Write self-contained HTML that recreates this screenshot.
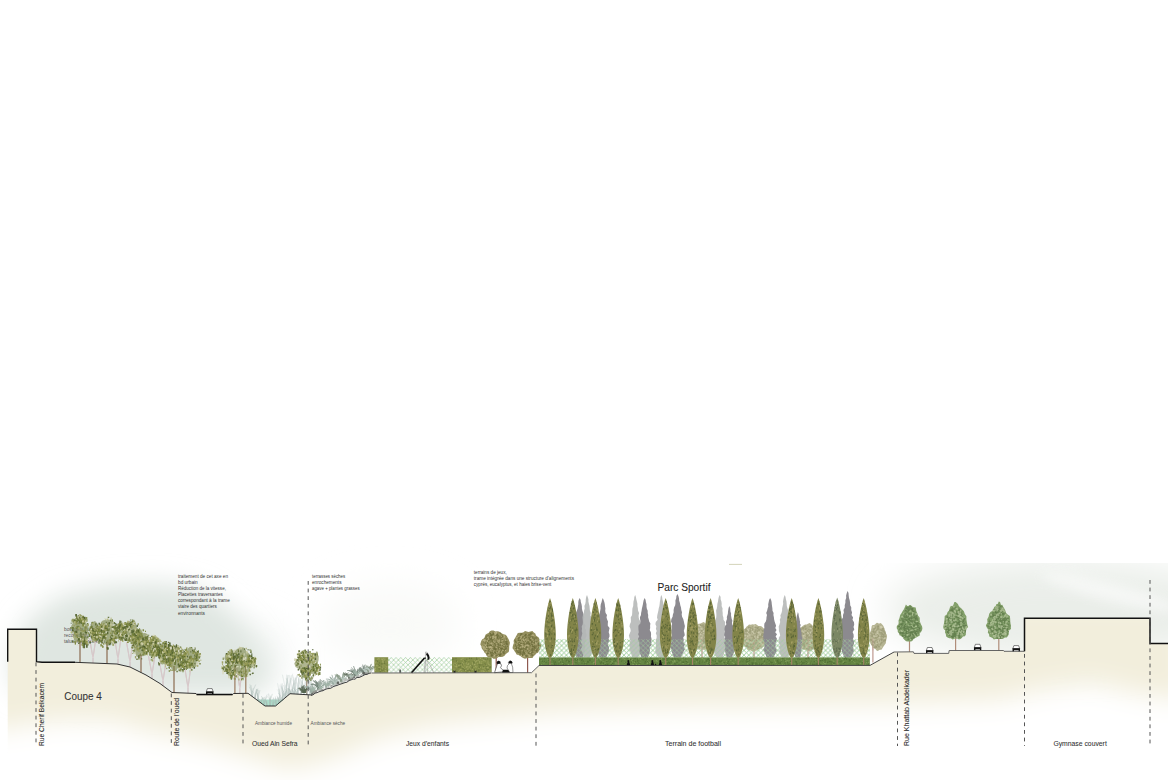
<!DOCTYPE html>
<html><head><meta charset="utf-8"><style>html,body{margin:0;padding:0;background:#fff;width:1168px;height:780px;overflow:hidden}svg{display:block}</style></head>
<body><svg width="1168" height="780" viewBox="0 0 1168 780"><defs><filter id="b20" x="-50%" y="-50%" width="200%" height="200%"><feGaussianBlur stdDeviation="18"/></filter><filter id="b14" x="-50%" y="-50%" width="200%" height="200%"><feGaussianBlur stdDeviation="13"/></filter><filter id="b10" x="-50%" y="-50%" width="200%" height="200%"><feGaussianBlur stdDeviation="9"/></filter><filter id="b6" x="-50%" y="-50%" width="200%" height="200%"><feGaussianBlur stdDeviation="6"/></filter><filter id="b3" x="-50%" y="-50%" width="200%" height="200%"><feGaussianBlur stdDeviation="3"/></filter><pattern id="lat" width="4.8" height="4.8" patternUnits="userSpaceOnUse" patternTransform="translate(0,2.4)"><path d="M-1,-1 L5.8,5.8" stroke="#b3d49a" stroke-width="0.7" fill="none"/><path d="M5.8,-1 L-1,5.8" stroke="#98c9a4" stroke-width="0.7" fill="none"/></pattern><mask id="gm" maskUnits="userSpaceOnUse" x="0" y="0" width="1168" height="780"><polygon points="-20,600 1188,600 1188,700 1140,694 1090,682 1040,690 1000,700 900,704 800,706 650,708 560,712 500,718 440,724 380,738 330,760 290,770 250,758 200,742 150,732 110,720 60,720 -20,732" fill="#fff" filter="url(#b14)"/></mask><clipPath id="skyR"><rect x="830" y="563" width="338" height="200"/></clipPath></defs><rect width="1168" height="780" fill="#fff"/><ellipse cx="165" cy="655" rx="120" ry="40" fill="#eef2ef" filter="url(#b20)"/><polygon points="10,660 25,622 60,596 110,585 165,583 200,590 225,607 250,634 272,672 262,692 190,692 90,692 15,692" fill="#dfe6e1" filter="url(#b14)"/><ellipse cx="390" cy="625" rx="70" ry="40" fill="#f9faf8" filter="url(#b20)"/><g clip-path="url(#skyR)"><ellipse cx="1060" cy="610" rx="175" ry="50" fill="#eaeee9" filter="url(#b20)"/><ellipse cx="1110" cy="592" rx="70" ry="9" transform="rotate(14 1110 592)" fill="#fff" opacity="0.55" filter="url(#b6)"/></g><g mask="url(#gm)"><polygon points="7.7,629.3 36.5,629.3 36.5,661.7 42,662.3 75,662.3 117,664 130,667 146,675 160,683.5 172,692.5 196,693.5 197,694.6 232.5,694.6 233.5,693.5 248,693.3 265,706 275.5,706 290,693.7 312,695 371.5,673 531.5,672.7 539,665.5 870,665.4 894,652 913.4,651.8 914,653.4 948.7,653.4 949.2,650.5 1003.5,650.5 1004,651.3 1024.5,651.3 1024.5,618.3 1150,618.3 1150,643.4 1168,643.4 1168,790 7.7,790" fill="#f2eedc"/></g><polygon points="256,699.5 284,699.5 275.5,706 265,706" fill="#9fd8c2" opacity="0.85"/><text x="64" y="630.5" font-size="4.8" fill="#555" text-anchor="start" font-family="Liberation Sans, sans-serif" >bosquets eucalyptus</text><text x="64" y="636.6" font-size="4.8" fill="#555" text-anchor="start" font-family="Liberation Sans, sans-serif" >reconstitution du</text><text x="64" y="642.7" font-size="4.8" fill="#555" text-anchor="start" font-family="Liberation Sans, sans-serif" >talus, renforcement</text><path d="M80,662.5 Q80,651.3 80,640" stroke="#8a6b50" stroke-width="1.2" fill="none"/><path d="M93,663 L93,658 L89.5,638 M93,658 L95.8,639" stroke="#c2acaf" stroke-width="1.1" fill="none"/><path d="M93,663 L93,658 L89.5,638 M93,658 L95.8,639" stroke="#f3eded" stroke-width="0.45" fill="none"/><path d="M107,663.6 Q107,652.8 107,642" stroke="#8a6b50" stroke-width="1.2" fill="none"/><path d="M118,664.2 L118,659 L114.5,638 M118,659 L120.8,639" stroke="#c2acaf" stroke-width="1.1" fill="none"/><path d="M118,664.2 L118,659 L114.5,638 M118,659 L120.8,639" stroke="#f3eded" stroke-width="0.45" fill="none"/><path d="M130,667 L130,662 L126.5,642 M130,662 L132.8,643" stroke="#c2acaf" stroke-width="1.1" fill="none"/><path d="M130,667 L130,662 L126.5,642 M130,662 L132.8,643" stroke="#f3eded" stroke-width="0.45" fill="none"/><path d="M141,672.5 Q141,663.2 141,654" stroke="#8a6b50" stroke-width="1.2" fill="none"/><path d="M152,678.6 L152,674.1 L148.5,656 M152,674.1 L154.8,657" stroke="#c2acaf" stroke-width="1.1" fill="none"/><path d="M152,678.6 L152,674.1 L148.5,656 M152,674.1 L154.8,657" stroke="#f3eded" stroke-width="0.45" fill="none"/><path d="M163,685.8 L163,681 L159.5,662 M163,681 L165.8,663" stroke="#c2acaf" stroke-width="1.1" fill="none"/><path d="M163,685.8 L163,681 L159.5,662 M163,681 L165.8,663" stroke="#f3eded" stroke-width="0.45" fill="none"/><path d="M174,692.6 Q174,679.3 174,666" stroke="#8a6b50" stroke-width="1.2" fill="none"/><path d="M188,693.2 L188,687.7 L184.5,666 M188,687.7 L190.8,667" stroke="#c2acaf" stroke-width="1.1" fill="none"/><path d="M188,693.2 L188,687.7 L184.5,666 M188,687.7 L190.8,667" stroke="#f3eded" stroke-width="0.45" fill="none"/><polygon points="88.7,630 87.7,633.3 86.3,635.9 86,639.7 84.7,642.9 82.1,642.3 80,641.7 78,641.9 75.4,642.7 73.9,639.8 73.2,636.3 73.5,632.8 71.8,630 71.1,626.2 72.7,623.3 74,620.4 76.1,619.2 77.9,617.3 80,615.2 82.2,617 83.5,620.3 85.1,621.8 86.7,623.8 88.5,626.4" fill="#7a8444" opacity="0.6"/><path d="M73.9 619.4v2.3M80.9 618.6v2.6M78.2 620.5v1.5M76.1 613.9v2.5M86.3 641.4v2.2M84.1 646v2.2M83.9 644.5v2.8M90.1 641.3v2.1M85.2 642.4v2.3M86.8 644.1v2.8M86.8 646.1v1.7M81.5 636.1v1.5M84 642.7v3M85.6 637.2v2.6M84.6 616.7v2.6M79.2 619.5v2.7M82.4 619.2v1.8M76.7 621.6v2.6M81.6 619.5v2.3" stroke="#4f5e2c" stroke-width="1.8" stroke-linecap="butt" opacity="0.9" fill="none"/><path d="M73 618.7v2.5M77.5 619.1v1.9M78.6 619v1.7M80.3 618.9v1.9M80 614.2v1.7M82.1 619.1v1.6" stroke="#8d9450" stroke-width="1.8" stroke-linecap="butt" opacity="0.9" fill="none"/><path d="M76.5 615.6v1.6M85.7 642.3v1.8M82.8 642.2v2M83.8 622.9v1.7M75.7 618.2v1.9M78.3 614.9v1.5" stroke="#5e6c33" stroke-width="1.2" stroke-linecap="butt" opacity="0.9" fill="none"/><path d="M73.1 621.3v1.6M72 619.6v2.1M76.9 617.6v1.8M87 642.1v3M80.3 637.5v1.5M83.2 615.7v2.4" stroke="#8d9450" stroke-width="1.2" stroke-linecap="butt" opacity="0.9" fill="none"/><path d="M76.4 618.7v2.9M76.7 616.8v2M77.5 616.5v1.6M87.9 643.6v1.9M85.9 641.6v1.6M82.3 643.1v2.3M79.8 639v1.6M84.4 637.4v2.1M82.2 640.6v2M84.6 617.1v2.3M79.4 616.8v1.8M83.5 620.8v1.8M80.7 620.7v2.4M81.2 621.5v2.4M80.5 619.8v2M77.6 619.4v2.5" stroke="#4f5e2c" stroke-width="1.2" stroke-linecap="butt" opacity="0.9" fill="none"/><path d="M80 617.8v1.7M75.8 620.4v2.6M82.2 636.4v2M80 639.4v2.9M83.5 618.8v1.7M86.9 619.3v2.4M83.1 617.7v2.5M82.9 622.2v2.4" stroke="#7a853e" stroke-width="1.2" stroke-linecap="butt" opacity="0.9" fill="none"/><path d="M79 618.9v1.8M78.7 616.4v1.6M76.2 623.1v1.9M86 640.7v2.2M82.8 641.5v1.9M86.4 640.5v1.9M80.6 619.7v2.3M82.4 617.7v1.7M82.6 620.6v2.3M76.9 621.6v2.3" stroke="#999c58" stroke-width="1.2" stroke-linecap="butt" opacity="0.9" fill="none"/><path d="M75.1 619.2v2.1M85.7 636.8v2.7M84.8 640.3v2.1M84 640.3v2.2M83.9 619.9v2.5M83.7 623v1.6M78.9 619.9v2.3" stroke="#5e6c33" stroke-width="1.8" stroke-linecap="butt" opacity="0.9" fill="none"/><path d="M76.7 618.7v2.1M81.6 636.6v1.9M83.1 639.5v3M76.9 617.2v2.1" stroke="#6c7a3a" stroke-width="1.2" stroke-linecap="butt" opacity="0.9" fill="none"/><path d="M80.6 619.9v2.6M84.6 639.1v2M82.6 638.1v1.9M80 640.8v1.6M83.1 623.6v2.9M86.4 617v2.6M85.2 618.7v2M80.5 618.3v2.6" stroke="#7a853e" stroke-width="1.8" stroke-linecap="butt" opacity="0.9" fill="none"/><path d="M87.8 642v2.4M78.8 637v2.4M85.9 620.1v2.4" stroke="#b4b67a" stroke-width="1.2" stroke-linecap="butt" opacity="0.9" fill="none"/><path d="M82.4 638.9v2.9M86.4 641.3v2.4M85.1 638.8v2.7M82.7 615.7v2.6M77.4 616.5v2.6M83.9 620.4v2.6" stroke="#999c58" stroke-width="1.8" stroke-linecap="butt" opacity="0.9" fill="none"/><path d="M83.5 645.2v2.6M83.9 641v2.6M82.4 618.5v1.8M77.7 619.7v2.3" stroke="#6c7a3a" stroke-width="1.8" stroke-linecap="butt" opacity="0.9" fill="none"/><path d="M87.1 639.2v2.2M81.8 618.1v1.6" stroke="#b4b67a" stroke-width="1.8" stroke-linecap="butt" opacity="0.9" fill="none"/><path d="M81.2 637.9v2.5M83 619.9v2.4" stroke="#cccca4" stroke-width="1.8" stroke-linecap="butt" opacity="0.9" fill="none"/><path d="M85.8 637.6v2.2" stroke="#dcdcc4" stroke-width="1.8" stroke-linecap="butt" opacity="0.9" fill="none"/><path d="M80.7 637.9v1.7M78.4 621.6v1.8" stroke="#dcdcc4" stroke-width="1.2" stroke-linecap="butt" opacity="0.9" fill="none"/><path d="M71 627.3v1.3M72 631.3v2.1M85.9 637.6v2.2M79.6 639.6v1.2M79.7 626.9v2M86.9 640.3v1.5M83.3 616.1v2M85.1 631.8v1.4M86.7 633v1.2M76.8 634.8v1.8M89.5 629.2v1.8" stroke="#6c7a3a" stroke-width="1" stroke-linecap="butt" opacity="0.9" fill="none"/><path d="M77.1 619v1.7M81 634.2v1.7M78.6 625.8v1.7M75.7 618.6v2M77.2 625.7v2M85.3 626.6v2.2M87.8 636.2v2.4M72.4 627v1.8" stroke="#6c7a3a" stroke-width="1.5" stroke-linecap="butt" opacity="0.9" fill="none"/><path d="M79.1 622.4v2M77.3 617.8v1.7M82.7 618.6v2.2M82.6 644v1.4M79.4 627.2v2.4M88.1 623.5v2.4" stroke="#999c58" stroke-width="1.5" stroke-linecap="butt" opacity="0.9" fill="none"/><path d="M85.6 631v2.4M71.2 622.7v1M86 627.5v2.4M79 621.9v1.9M78.3 638.7v1.4M75.3 631.1v1.9M83.6 636.7v1.3M84.4 639.2v2.4" stroke="#4f5e2c" stroke-width="1" stroke-linecap="butt" opacity="0.9" fill="none"/><path d="M74.8 617.6v1.5" stroke="#dcdcc4" stroke-width="1.5" stroke-linecap="butt" opacity="0.9" fill="none"/><path d="M75.5 633.5v1.8M74.2 625v1.2M73.1 640.8v1.5M77.2 632.8v2.1M83.4 635.6v2.5M82.2 630.4v2.1M76.2 635.5v2.4" stroke="#999c58" stroke-width="1" stroke-linecap="butt" opacity="0.9" fill="none"/><path d="M82.7 638.1v2.4M75.5 642.4v1.5M77.5 636.7v1.4M75.3 642.3v2.5" stroke="#7a853e" stroke-width="1" stroke-linecap="butt" opacity="0.9" fill="none"/><path d="M86 628.3v1.9M79.2 614.3v2.2M84.5 624.6v1.6M80.2 639.2v1.2M74.8 632.4v1.2" stroke="#cccca4" stroke-width="1" stroke-linecap="butt" opacity="0.9" fill="none"/><path d="M78.9 637.9v2.2M86.7 632v1.1M84.2 643.3v2.1M78.8 642.6v1.3M72.7 629.3v2M76.6 630.7v2.4" stroke="#4f5e2c" stroke-width="1.5" stroke-linecap="butt" opacity="0.9" fill="none"/><path d="M81.3 629.5v1.7M83.4 629.8v2.2M89.2 634.5v1.5M81.3 614.9v1.3" stroke="#8d9450" stroke-width="1" stroke-linecap="butt" opacity="0.9" fill="none"/><path d="M83.2 616.6v1.7M80.9 632.2v2M77.5 617.5v2.4M76.6 627.2v2.1M75.1 631.2v1.8M72.5 640.4v2M73.2 627.2v1.2" stroke="#5e6c33" stroke-width="1.5" stroke-linecap="butt" opacity="0.9" fill="none"/><path d="M78.8 639.7v1.7M87.6 623v1.3M79.7 621.1v1.3M83.2 633.5v1.4M82 638.1v2.3" stroke="#5e6c33" stroke-width="1" stroke-linecap="butt" opacity="0.9" fill="none"/><path d="M78 643.9v1.8M71.6 637.6v1.5M76.1 619v1.3M78.1 616.3v2.2M73.4 637.9v2.2" stroke="#dcdcc4" stroke-width="1" stroke-linecap="butt" opacity="0.9" fill="none"/><path d="M71.3 631.5v1.8M74.9 621.1v2.4" stroke="#b4b67a" stroke-width="1.5" stroke-linecap="butt" opacity="0.9" fill="none"/><path d="M87.1 639.8v1.1M82.9 638.5v2" stroke="#cccca4" stroke-width="1.5" stroke-linecap="butt" opacity="0.9" fill="none"/><path d="M77.5 619.4v1.6M70.7 627.2v1.2M85 629.5v2.3M74.9 641v1.8" stroke="#7a853e" stroke-width="1.5" stroke-linecap="butt" opacity="0.9" fill="none"/><path d="M82.5 644.1v1.7M86 626.3v2.2M76.3 627v1.5M74.8 632.2v1.8" stroke="#8d9450" stroke-width="1.5" stroke-linecap="butt" opacity="0.9" fill="none"/><path d="M73.9 635.8v2.2M79.1 626.9v2.5" stroke="#b4b67a" stroke-width="1" stroke-linecap="butt" opacity="0.9" fill="none"/><polygon points="100.8,631 100.2,633.2 100,635.6 99.8,638.5 98.2,639.8 96.5,639.8 95,638.7 93.5,639.6 91.8,639.8 90.9,637.5 90.3,635.3 90.2,633 89.5,631 89.2,628.5 89.8,626.3 91.6,625.6 92.2,623.5 93.4,621.8 95,621 96.5,622.4 97.6,623.8 98.5,625.6 100.1,626.4 101.1,628.4" fill="#7a8444" opacity="0.6"/><path d="M96.8 634.4v1.6M91.5 629.1v2.4M93.8 632.2v2.9M93.3 633.6v2.1M97 633.9v1.7" stroke="#7a853e" stroke-width="1.2" stroke-linecap="butt" opacity="0.9" fill="none"/><path d="M92.7 632v2.2M96.9 635.7v1.9M90.6 632.3v1.9M91.7 635.6v2.6M94.2 635.3v2.3M93.8 634.4v2.6M93.2 634v2.9" stroke="#4f5e2c" stroke-width="1.8" stroke-linecap="butt" opacity="0.9" fill="none"/><path d="M95.7 630.3v1.8M96.1 635.7v2.5M95.2 634.8v1.5M91.2 631.8v2.5" stroke="#6c7a3a" stroke-width="1.8" stroke-linecap="butt" opacity="0.9" fill="none"/><path d="M94.8 631.3v1.8" stroke="#cccca4" stroke-width="1.2" stroke-linecap="butt" opacity="0.9" fill="none"/><path d="M94.3 629.2v2.8M92.7 631.4v2.1M93.1 630.2v2.1M94.6 631v3M93.2 628.6v2.7M92.4 638.5v1.6M92.6 636.4v1.6" stroke="#5e6c33" stroke-width="1.2" stroke-linecap="butt" opacity="0.9" fill="none"/><path d="M92.4 635.6v2.1M94.5 635.6v1.7" stroke="#8d9450" stroke-width="1.2" stroke-linecap="butt" opacity="0.9" fill="none"/><path d="M94.9 633.6v1.9M93.7 629.7v2.2M95.6 631.5v2.9M91.3 633.1v2.1M98.1 636.7v2.7" stroke="#4f5e2c" stroke-width="1.2" stroke-linecap="butt" opacity="0.9" fill="none"/><path d="M93.2 630.5v2.8M97.7 632.2v2.4M96.9 634.8v2.1M90.2 633.3v1.7M92.9 632.9v2.5M95.9 633.2v2.6M94.1 634.8v2.7M89.4 634.1v2.8M93.3 637.1v1.8" stroke="#6c7a3a" stroke-width="1.2" stroke-linecap="butt" opacity="0.9" fill="none"/><path d="M91.9 632.6v2.9M95.2 628.3v2.7" stroke="#b4b67a" stroke-width="1.2" stroke-linecap="butt" opacity="0.9" fill="none"/><path d="M91.5 628.2v2.1M94.4 634.7v2.4" stroke="#dcdcc4" stroke-width="1.8" stroke-linecap="butt" opacity="0.9" fill="none"/><path d="M95.2 631.7v2M92.7 637.4v1.8M92.4 631.8v1.9" stroke="#7a853e" stroke-width="1.8" stroke-linecap="butt" opacity="0.9" fill="none"/><path d="M90.6 629.8v2.2M96.7 631.4v1.8M93.3 637.3v2.5" stroke="#b4b67a" stroke-width="1.8" stroke-linecap="butt" opacity="0.9" fill="none"/><path d="M93.2 632.1v1.6M95.9 638.2v2.7" stroke="#999c58" stroke-width="1.8" stroke-linecap="butt" opacity="0.9" fill="none"/><path d="M95.1 628.9v2.6M92.9 627.9v3M95.5 637.3v2.3M94.6 633v2.7M95.5 633.2v2.6" stroke="#5e6c33" stroke-width="1.8" stroke-linecap="butt" opacity="0.9" fill="none"/><path d="M95.5 635.8v1.6M94.5 631.7v2.3M91.2 632.8v2.6M96.7 637.4v2.2M96.1 634.9v2.2" stroke="#8d9450" stroke-width="1.8" stroke-linecap="butt" opacity="0.9" fill="none"/><path d="M96.6 636.4v2.2M93.1 637.5v2.6M92.8 634.1v1.6" stroke="#999c58" stroke-width="1.2" stroke-linecap="butt" opacity="0.9" fill="none"/><path d="M92.2 639.7v1.9" stroke="#dcdcc4" stroke-width="1.2" stroke-linecap="butt" opacity="0.9" fill="none"/><path d="M93.3 640v2.2M99.4 639.5v1.2M95.2 634.9v1.2M91.8 626v1.9M91.8 632.5v1.9M95.8 623.3v2.3M93.1 636.9v2.2M96.8 629.9v1.4" stroke="#5e6c33" stroke-width="1.5" stroke-linecap="butt" opacity="0.9" fill="none"/><path d="M92.3 627.9v1.2M91.7 622.3v1.5M91.2 624.1v1.7M97.4 624.8v2.2M96 640.7v1.3M100.6 633.7v1.9" stroke="#5e6c33" stroke-width="1" stroke-linecap="butt" opacity="0.9" fill="none"/><path d="M91.8 625.7v1.4M97.7 635.1v2.2M96.3 625.8v2.1" stroke="#7a853e" stroke-width="1" stroke-linecap="butt" opacity="0.9" fill="none"/><path d="M88 632v2M92.7 636.7v1.8M93.6 637.7v2" stroke="#cccca4" stroke-width="1" stroke-linecap="butt" opacity="0.9" fill="none"/><path d="M96.7 632.3v2M93.7 639.9v1.8M91 633.6v1.9M101.1 630.6v2.1" stroke="#cccca4" stroke-width="1.5" stroke-linecap="butt" opacity="0.9" fill="none"/><path d="M92.7 635.2v1.8M91.6 631.2v2M92.7 623.1v1.3" stroke="#b4b67a" stroke-width="1.5" stroke-linecap="butt" opacity="0.9" fill="none"/><path d="M93.8 628.1v1.8" stroke="#8d9450" stroke-width="1" stroke-linecap="butt" opacity="0.9" fill="none"/><path d="M97 628v1.3M98 625.5v2" stroke="#999c58" stroke-width="1" stroke-linecap="butt" opacity="0.9" fill="none"/><path d="M95.9 629.3v1.2" stroke="#999c58" stroke-width="1.5" stroke-linecap="butt" opacity="0.9" fill="none"/><path d="M99.2 622.8v1.9M98.1 629v2.5" stroke="#4f5e2c" stroke-width="1.5" stroke-linecap="butt" opacity="0.9" fill="none"/><path d="M93.4 634.9v1.1M100.3 629.5v1.5" stroke="#4f5e2c" stroke-width="1" stroke-linecap="butt" opacity="0.9" fill="none"/><path d="M100.2 624.3v2.1M88.3 632.2v1.8" stroke="#6c7a3a" stroke-width="1" stroke-linecap="butt" opacity="0.9" fill="none"/><path d="M94.1 639.1v1.4M94.2 638.3v2.4M101.2 631.9v1.1M92.5 635.9v2" stroke="#8d9450" stroke-width="1.5" stroke-linecap="butt" opacity="0.9" fill="none"/><path d="M92.5 621.8v1.5M90.6 626.4v2.5" stroke="#7a853e" stroke-width="1.5" stroke-linecap="butt" opacity="0.9" fill="none"/><path d="M94.8 629.1v1.8" stroke="#b4b67a" stroke-width="1" stroke-linecap="butt" opacity="0.9" fill="none"/><polygon points="115,632 115.6,635.7 114,638.4 112,640 110.5,641.8 109.2,645.2 107,646 105,643.7 103.5,641.8 102,640.1 99.7,638.7 97.7,636 98.7,632 99.7,628.9 100.6,626.1 100.9,622.2 102.8,620.4 105,620 107,620.3 109.1,619.7 111.6,619.3 113.5,621.6 113.5,626 114.4,628.8" fill="#7a8444" opacity="0.6"/><path d="M114.5 640.6v2.8M116.2 641.3v1.9M113 639v2.3M115 636.7v2.3M109.6 642.5v2.8M102.3 634.1v2.5M105 630.9v1.7M101.8 632.7v2M101.5 633.8v1.5M103 630.7v2.3M101.2 627.5v1.6M97.8 635.4v2.2M97.3 638.2v2.3M101.8 638.4v1.8" stroke="#4f5e2c" stroke-width="1.8" stroke-linecap="butt" opacity="0.9" fill="none"/><path d="M112.3 639.5v2.9M103.1 633.9v2.5M103 630.5v1.8M103.9 623v2" stroke="#8d9450" stroke-width="1.2" stroke-linecap="butt" opacity="0.9" fill="none"/><path d="M113.2 643v2.8M110 640.6v2.3M103.1 633.7v1.8" stroke="#8d9450" stroke-width="1.8" stroke-linecap="butt" opacity="0.9" fill="none"/><path d="M109.4 639.4v1.7M114 639.1v2.3M112.8 638.2v1.8M98.1 633.7v2.3M101.5 637.7v1.5M100.5 633.9v2.4M99 628.6v2.1M101.2 633.4v2.1M99.3 629.1v2.5M103.7 630.4v2.3M100.7 627.7v2M105.3 626.1v2.7M97.1 637.2v2.6M102.9 638.8v1.8M97.3 633.7v2.1" stroke="#7a853e" stroke-width="1.8" stroke-linecap="butt" opacity="0.9" fill="none"/><path d="M110 637.5v2.9M114.3 635.8v1.9M104.3 624.8v2.5" stroke="#b4b67a" stroke-width="1.8" stroke-linecap="butt" opacity="0.9" fill="none"/><path d="M109.5 640.6v2.9M99.7 633.8v3M103.4 632.5v2.1M101.2 626v1.9M109.1 628.3v2.1M105.6 625.8v2.3M104 635.5v1.6M99 641v2.9" stroke="#6c7a3a" stroke-width="1.2" stroke-linecap="butt" opacity="0.9" fill="none"/><path d="M110.4 639v2.6M109.7 641.3v2.8M104.2 634.5v2.9M105.2 637.3v2.1M106.8 627.1v2.7M106 627.6v2.1" stroke="#5e6c33" stroke-width="1.8" stroke-linecap="butt" opacity="0.9" fill="none"/><path d="M113.4 642.2v2.1M99.3 631.6v2.5M104.9 624.4v1.7M102.9 626.6v2.6M101.4 635.8v2.8" stroke="#cccca4" stroke-width="1.2" stroke-linecap="butt" opacity="0.9" fill="none"/><path d="M112.5 634.9v1.9M114.5 640v2.8M99.6 636.6v2.2M101 634.4v1.5M101.8 630.2v3M104.7 633.8v2.5M101.3 634.5v2.8M97.4 628.1v2M97.6 631v2.7M98.7 630v1.6M107.9 622.7v2.5M102.1 624.9v2.7M99.6 639.3v2.5M98.5 635.8v1.6" stroke="#7a853e" stroke-width="1.2" stroke-linecap="butt" opacity="0.9" fill="none"/><path d="M109.6 640.4v1.8M102.2 633.3v2.5M106.7 628.5v1.5M107 626.2v2.2M105.8 628.8v2.4" stroke="#999c58" stroke-width="1.8" stroke-linecap="butt" opacity="0.9" fill="none"/><path d="M112.9 638.9v2.8M98.9 635.9v1.9M99.3 633.5v2.1M100.1 629.7v2.7M100.2 627.6v1.8M102.1 627.4v2M105.5 626.8v2.1M107.8 625.3v1.7" stroke="#999c58" stroke-width="1.2" stroke-linecap="butt" opacity="0.9" fill="none"/><path d="M111.6 638.1v1.8M100 631.3v1.9M96.7 634.6v2" stroke="#4f5e2c" stroke-width="1.2" stroke-linecap="butt" opacity="0.9" fill="none"/><path d="M102.7 637.3v1.7M105.3 631.3v1.7M99.7 634.5v2.4M102.2 638.3v2.3" stroke="#6c7a3a" stroke-width="1.8" stroke-linecap="butt" opacity="0.9" fill="none"/><path d="M101 635.7v2.2M103.2 639.6v1.8" stroke="#dcdcc4" stroke-width="1.8" stroke-linecap="butt" opacity="0.9" fill="none"/><path d="M100.3 637.6v1.7M101.3 627.4v2.9M102.3 628.5v1.6" stroke="#dcdcc4" stroke-width="1.2" stroke-linecap="butt" opacity="0.9" fill="none"/><path d="M101.4 630v2.7M101.6 625.3v2.4M107.3 628.2v2.8M105.9 624.6v2M109 624.8v2.1M100.8 637v2.9M102 638.8v3M101.7 640.4v2.3M104.6 634.9v2.8" stroke="#5e6c33" stroke-width="1.2" stroke-linecap="butt" opacity="0.9" fill="none"/><path d="M102.7 628.3v1.8M100.8 638.3v2.6M99.6 635v1.7M97 635.7v2.6" stroke="#cccca4" stroke-width="1.8" stroke-linecap="butt" opacity="0.9" fill="none"/><path d="M109.2 641.5v1.9M102.2 634.7v2.1M103.7 643.1v1.6M100 626.1v1.8M102.1 644.9v1.1" stroke="#8d9450" stroke-width="1.5" stroke-linecap="butt" opacity="0.9" fill="none"/><path d="M107.4 646.7v1.2M108.5 616.7v1.3M105.6 634.8v1.5M99.5 639.3v1.7M112.5 626.7v1.3M109.3 621.9v2.2M102.4 641.5v2.1M114.4 622.1v2.2M111.9 634.5v1.4M113.2 632.3v1.4" stroke="#5e6c33" stroke-width="1.5" stroke-linecap="butt" opacity="0.9" fill="none"/><path d="M113.6 638v2.3M115.7 626v1.9M111 626.9v1.1M98.1 626.2v1.7" stroke="#8d9450" stroke-width="1" stroke-linecap="butt" opacity="0.9" fill="none"/><path d="M113.7 629v1.3M105.5 633.8v1.7M102.8 645.8v1.4M105 626.9v1.4M107.8 647.4v1.8" stroke="#6c7a3a" stroke-width="1.5" stroke-linecap="butt" opacity="0.9" fill="none"/><path d="M106.1 623.5v1.6M104.6 618.1v1.2M104.3 639.3v1.4M103.2 640.3v2M100.3 632.3v1.4M113 624.1v1.9" stroke="#dcdcc4" stroke-width="1" stroke-linecap="butt" opacity="0.9" fill="none"/><path d="M100 624.1v1.3M101.1 644.1v2.4M103.9 633.9v2.1M116.1 637.1v2.2M115.9 636.5v1.3M98.6 629.7v2M106.3 633.8v1.9" stroke="#7a853e" stroke-width="1.5" stroke-linecap="butt" opacity="0.9" fill="none"/><path d="M100.7 637.7v1.4M100.2 626.6v1.2M115.5 636.7v2.3M110.7 641.5v1.4M102.8 646.5v1.5M113.7 639.1v1.6M101.5 623.3v2.4M113.7 628.5v2.5" stroke="#999c58" stroke-width="1.5" stroke-linecap="butt" opacity="0.9" fill="none"/><path d="M107.2 639.7v2M105.4 637.5v1.5M100.5 639.6v2.4M101.4 641.6v1.9M107 647.3v2M107 641.1v1.6M105.7 636.9v1.9M111.9 629.9v1.9" stroke="#7a853e" stroke-width="1" stroke-linecap="butt" opacity="0.9" fill="none"/><path d="M107.8 618.5v1.8M105.9 618.7v1.1M110.6 632.1v2.2" stroke="#b4b67a" stroke-width="1.5" stroke-linecap="butt" opacity="0.9" fill="none"/><path d="M101.4 629.3v1.6M102 639.8v1.5M110.7 637.2v1.4M114.4 625.9v1.9M106 627.7v1.3M107.9 647.6v2.1M107.6 631.8v2.4" stroke="#4f5e2c" stroke-width="1.5" stroke-linecap="butt" opacity="0.9" fill="none"/><path d="M104.6 625.2v2.4M111.9 639.4v1.2M114 631.6v2.3" stroke="#999c58" stroke-width="1" stroke-linecap="butt" opacity="0.9" fill="none"/><path d="M106.5 642.2v1.1M113.1 626.2v1.3M112.3 628.8v1.4M106.3 621.8v1.2M108.7 629.4v1.8M110.6 635.7v1.1" stroke="#5e6c33" stroke-width="1" stroke-linecap="butt" opacity="0.9" fill="none"/><path d="M111 623.6v2.1M102.5 632.7v1.9M112.4 641.1v1M106.3 635.7v1.2" stroke="#cccca4" stroke-width="1.5" stroke-linecap="butt" opacity="0.9" fill="none"/><path d="M110.5 619.9v1.3M115.7 636.6v2.5M110.9 632.5v1.7M112.4 619.3v2.4M104.1 640.3v1" stroke="#6c7a3a" stroke-width="1" stroke-linecap="butt" opacity="0.9" fill="none"/><path d="M106.2 635.3v1.7M113 621.6v1.7" stroke="#cccca4" stroke-width="1" stroke-linecap="butt" opacity="0.9" fill="none"/><path d="M111.1 617.6v2.1M97.3 629.3v1.6M110.3 625.3v2.5" stroke="#b4b67a" stroke-width="1" stroke-linecap="butt" opacity="0.9" fill="none"/><path d="M101.9 634.3v1M103.3 636v2.3M109.3 623.1v1.4M110.8 642.5v2.1" stroke="#4f5e2c" stroke-width="1" stroke-linecap="butt" opacity="0.9" fill="none"/><path d="M106.1 631.2v1.8" stroke="#dcdcc4" stroke-width="1.5" stroke-linecap="butt" opacity="0.9" fill="none"/><polygon points="126.4,631 124.9,633.1 124.3,634.9 124.1,637.4 123,639.2 121.6,640.2 120,639.9 118.6,639.3 117.2,638.6 115.7,637.8 115.1,635.5 115.3,633 114.6,631 114,628.5 114.6,626.1 115.9,624.5 117.4,623.8 118.7,623.6 120,620.9 121.7,620.8 122.7,623.6 123.7,625.2 124.8,626.6 125.9,628.5" fill="#7a8444" opacity="0.6"/><path d="M121.1 627.4v2.9" stroke="#8d9450" stroke-width="1.8" stroke-linecap="butt" opacity="0.9" fill="none"/><path d="M119.6 623.9v2.3M119.9 627.6v1.8M124.1 625.8v1.6M123.4 627.4v2.6M118.9 624.9v2.2M115.5 625.7v3M117.9 629.9v2.8M118.8 631.6v2.8" stroke="#7a853e" stroke-width="1.8" stroke-linecap="butt" opacity="0.9" fill="none"/><path d="M125.6 631v2.7M119.7 624.4v2.7M121.3 623.7v1.6M121.7 625.6v2.1M119.2 636v2" stroke="#4f5e2c" stroke-width="1.8" stroke-linecap="butt" opacity="0.9" fill="none"/><path d="M123.6 628.4v2.5" stroke="#dcdcc4" stroke-width="1.2" stroke-linecap="butt" opacity="0.9" fill="none"/><path d="M122.9 626.5v2.6M126.3 623.7v1.6M119.4 626.6v3M119.9 628.4v2.4M116.1 623.5v2.7M116.1 629.7v1.6M117.6 631.8v2.3M121.9 634v1.7M119.1 631.4v2.6M121.8 637.7v1.7" stroke="#4f5e2c" stroke-width="1.2" stroke-linecap="butt" opacity="0.9" fill="none"/><path d="M126.5 627.6v2.3M121.9 627.8v1.7M113.8 626.3v2.4M119.4 626.8v1.8M120.6 633.7v1.8M119.9 636.6v3" stroke="#6c7a3a" stroke-width="1.2" stroke-linecap="butt" opacity="0.9" fill="none"/><path d="M123.1 627.4v2M119.6 629.8v2.5M116 632.4v2.6M121 638.6v2.5M125.2 636.2v2.7" stroke="#7a853e" stroke-width="1.2" stroke-linecap="butt" opacity="0.9" fill="none"/><path d="M124.7 626.1v1.5M118.2 627.2v1.6M122.7 636.8v2.1M121.5 636.7v1.7M122.9 637.3v1.9" stroke="#5e6c33" stroke-width="1.8" stroke-linecap="butt" opacity="0.9" fill="none"/><path d="M120.3 627.7v2.3M113.4 629.9v1.9M122.8 634.2v1.9" stroke="#6c7a3a" stroke-width="1.8" stroke-linecap="butt" opacity="0.9" fill="none"/><path d="M122 624.2v2.7M121 626.6v2.3M121 634.3v2.8" stroke="#999c58" stroke-width="1.8" stroke-linecap="butt" opacity="0.9" fill="none"/><path d="M120.4 627v2.4M121.3 635v1.8" stroke="#b4b67a" stroke-width="1.2" stroke-linecap="butt" opacity="0.9" fill="none"/><path d="M122.6 629.1v1.5M121.7 623.3v1.6" stroke="#8d9450" stroke-width="1.2" stroke-linecap="butt" opacity="0.9" fill="none"/><path d="M113.6 631.8v3M116.5 625.7v2.3M114.3 630.8v2M118.8 634.5v2.8" stroke="#cccca4" stroke-width="1.2" stroke-linecap="butt" opacity="0.9" fill="none"/><path d="M114.3 631.4v2.7M115.9 629v2.9M117.6 626.4v2.1M115.4 627.4v1.6M124.1 637.8v2.8M125.9 634.6v2.9M119.6 637.1v1.7" stroke="#5e6c33" stroke-width="1.2" stroke-linecap="butt" opacity="0.9" fill="none"/><path d="M112.6 628.1v2.4M119.1 632.6v2.8" stroke="#dcdcc4" stroke-width="1.8" stroke-linecap="butt" opacity="0.9" fill="none"/><path d="M123.7 630.9v1.7M119.7 632v3" stroke="#999c58" stroke-width="1.2" stroke-linecap="butt" opacity="0.9" fill="none"/><path d="M123.1 638.8v2M124.3 628.7v2" stroke="#dcdcc4" stroke-width="1.5" stroke-linecap="butt" opacity="0.9" fill="none"/><path d="M117.4 628.7v2.1M115.2 627.7v1.9M116.5 632.1v2.3M118.7 634.3v2.4M123.9 630.8v2.3" stroke="#6c7a3a" stroke-width="1.5" stroke-linecap="butt" opacity="0.9" fill="none"/><path d="M120.5 633.6v2.2M113.8 629.2v2.2" stroke="#dcdcc4" stroke-width="1" stroke-linecap="butt" opacity="0.9" fill="none"/><path d="M114.8 633.2v1.1M119.4 638.1v1.4M125.9 628.2v2.1M122.8 631.7v2.4M114.3 631.1v1.9M126.7 631.7v1.1" stroke="#8d9450" stroke-width="1.5" stroke-linecap="butt" opacity="0.9" fill="none"/><path d="M124.8 632v1.9M124.1 626.4v1.9M118.9 623.5v1.9M114.7 625.5v1.5M124.3 626.7v1" stroke="#7a853e" stroke-width="1.5" stroke-linecap="butt" opacity="0.9" fill="none"/><path d="M125 628.2v1.1M122.6 638.8v2.5M119.2 626.5v1.6M120.9 623.4v1.7M122.9 629.3v1.2M119.5 622.6v1.3M116.5 626.9v2.5" stroke="#6c7a3a" stroke-width="1" stroke-linecap="butt" opacity="0.9" fill="none"/><path d="M119.7 622.2v1.2M115.1 629.3v1.3M118.2 623.9v1.9" stroke="#999c58" stroke-width="1" stroke-linecap="butt" opacity="0.9" fill="none"/><path d="M120.8 632.8v1.1M124.4 625.2v1.8" stroke="#cccca4" stroke-width="1.5" stroke-linecap="butt" opacity="0.9" fill="none"/><path d="M117 637v1.6M124.6 630.9v1.7" stroke="#8d9450" stroke-width="1" stroke-linecap="butt" opacity="0.9" fill="none"/><path d="M113.2 630.5v1.7" stroke="#5e6c33" stroke-width="1" stroke-linecap="butt" opacity="0.9" fill="none"/><path d="M120.1 621.3v1.5" stroke="#4f5e2c" stroke-width="1.5" stroke-linecap="butt" opacity="0.9" fill="none"/><path d="M115.4 623.1v1.2M119.9 626.8v1.3M123.6 627.4v2.3M125.9 626.7v2M120 620.3v1.1" stroke="#4f5e2c" stroke-width="1" stroke-linecap="butt" opacity="0.9" fill="none"/><path d="M118.6 640.2v1.3" stroke="#b4b67a" stroke-width="1" stroke-linecap="butt" opacity="0.9" fill="none"/><path d="M124.2 634.9v1.4" stroke="#cccca4" stroke-width="1" stroke-linecap="butt" opacity="0.9" fill="none"/><path d="M122.8 640.7v1.4" stroke="#b4b67a" stroke-width="1.5" stroke-linecap="butt" opacity="0.9" fill="none"/><polygon points="139.3,632 138.6,635.1 137,637 136.2,639.3 135.4,642.3 133.8,644 132,643 130.5,642 128.8,641.6 126.9,641 126,638 125.9,634.8 126.1,632 126.3,629.3 125.6,625.6 126.9,623.1 129,623 130.5,622.1 132,621.1 133.8,620 135.4,621.7 136.1,624.8 136.7,627.3 138.4,629" fill="#7a8444" opacity="0.6"/><path d="M127 625.7v2.3M132.2 638.8v1.6M128.5 639.6v1.7M138.1 638.4v1.6M135 639v2.2" stroke="#b4b67a" stroke-width="1.8" stroke-linecap="butt" opacity="0.9" fill="none"/><path d="M128.6 620.8v2.7M138.4 635.6v2.2" stroke="#dcdcc4" stroke-width="1.8" stroke-linecap="butt" opacity="0.9" fill="none"/><path d="M128.3 625.4v2.8M128.2 625.5v2.3M128.5 622.5v2.2M129.5 639.3v2.1M128.4 639.5v2M130.4 636.5v1.5M135.3 633.1v2.8M135.5 633.2v2.1" stroke="#6c7a3a" stroke-width="1.8" stroke-linecap="butt" opacity="0.9" fill="none"/><path d="M125.2 622.1v2.8M127.7 624.6v2.7M126.6 623.1v1.5M131.4 635.5v1.7M132 636.9v2.4M135.8 640.2v2.9M134.7 629.8v1.6M135.2 633.7v2.4" stroke="#7a853e" stroke-width="1.8" stroke-linecap="butt" opacity="0.9" fill="none"/><path d="M130.3 624.7v2.9M124.9 626.3v2.1M126.6 626v1.5M132.8 638.5v2M138.1 634.8v2.2" stroke="#4f5e2c" stroke-width="1.2" stroke-linecap="butt" opacity="0.9" fill="none"/><path d="M129 625.5v2.6M130.8 636.9v2.5M136.4 633.1v2.5M134.5 639.3v2.9M136.1 636.9v1.5" stroke="#dcdcc4" stroke-width="1.2" stroke-linecap="butt" opacity="0.9" fill="none"/><path d="M127.2 628.5v2.3M129.9 635v2.2M136.6 640.7v2.8" stroke="#7a853e" stroke-width="1.2" stroke-linecap="butt" opacity="0.9" fill="none"/><path d="M124.7 623.3v1.5M129 628.4v2.9M126 622.7v1.8M129.7 639.4v2.1M131.1 638.9v2.4M136.7 635.5v2" stroke="#999c58" stroke-width="1.2" stroke-linecap="butt" opacity="0.9" fill="none"/><path d="M129.6 623.1v2.9M126.4 638.1v2.9M129.3 636.7v2.9M135.4 638.3v2.9M133 634.9v1.7M134 635.4v3M135 633.5v1.9" stroke="#5e6c33" stroke-width="1.2" stroke-linecap="butt" opacity="0.9" fill="none"/><path d="M127.5 628.3v2.7M123.4 622.8v1.6" stroke="#cccca4" stroke-width="1.8" stroke-linecap="butt" opacity="0.9" fill="none"/><path d="M130.8 624v1.6M127.5 625.7v1.6M132.9 634.5v2.9M134.3 640.9v2.3M134.4 633.5v2.9M133.4 636.8v2.5M134 634.5v1.6M138.8 630v2.9" stroke="#5e6c33" stroke-width="1.8" stroke-linecap="butt" opacity="0.9" fill="none"/><path d="M128.9 628.7v1.8M126.9 634.9v2.1M131.2 634.9v1.8M135 635.3v2.5M135.4 633.1v2.4M132.1 630.5v2.2M133.1 637.2v2.4" stroke="#4f5e2c" stroke-width="1.8" stroke-linecap="butt" opacity="0.9" fill="none"/><path d="M130 635.2v2.2M135.1 636.2v1.7M132.7 637v2.2M135.9 632.1v2.4" stroke="#8d9450" stroke-width="1.2" stroke-linecap="butt" opacity="0.9" fill="none"/><path d="M132.9 635.7v2.9M128.1 640.8v2.1M135.5 632.1v2.1" stroke="#b4b67a" stroke-width="1.2" stroke-linecap="butt" opacity="0.9" fill="none"/><path d="M133.2 639.9v2.5M128.9 634.8v2.8M132.1 633.6v2.4M135.4 628.6v2.7" stroke="#cccca4" stroke-width="1.2" stroke-linecap="butt" opacity="0.9" fill="none"/><path d="M131.6 636.2v1.7M133.7 635.1v2.4M134.7 636.8v1.6M138 633.9v2.7M139.3 634.7v2.8" stroke="#999c58" stroke-width="1.8" stroke-linecap="butt" opacity="0.9" fill="none"/><path d="M138.4 636.3v2.5M132.4 633.2v2.6M137.5 633.9v2.9M137.9 630v2M138.9 633.7v2.5" stroke="#6c7a3a" stroke-width="1.2" stroke-linecap="butt" opacity="0.9" fill="none"/><path d="M138.2 638.4v2.6" stroke="#8d9450" stroke-width="1.8" stroke-linecap="butt" opacity="0.9" fill="none"/><path d="M138.8 637v1.5M129.6 639.6v1.3M127.9 621.5v2M132.7 619.4v2.3M133.7 631.3v2.4M132.9 633v1.7M126.5 624.1v1.6M131 621.3v1.9" stroke="#6c7a3a" stroke-width="1" stroke-linecap="butt" opacity="0.9" fill="none"/><path d="M135.2 627.2v2.3M133.5 636v2.5" stroke="#b4b67a" stroke-width="1" stroke-linecap="butt" opacity="0.9" fill="none"/><path d="M130.6 632.7v2.3M127.5 622.1v1.2M125.1 626.3v1M131 621.8v1.6M135.6 633.7v2.1M125.6 634.9v1.4M132.8 639.5v1.5" stroke="#5e6c33" stroke-width="1.5" stroke-linecap="butt" opacity="0.9" fill="none"/><path d="M131.8 631.2v1.1M134.1 622.5v2.2M136.1 642.7v2.3M129 621v1.4M128.4 620.8v2.5" stroke="#dcdcc4" stroke-width="1.5" stroke-linecap="butt" opacity="0.9" fill="none"/><path d="M134 644.8v1.4M132.5 620.9v1.5M131.3 630.4v2.4M126.7 633.6v1.4M129 621.2v1.9" stroke="#5e6c33" stroke-width="1" stroke-linecap="butt" opacity="0.9" fill="none"/><path d="M130.6 633.3v1.5M128.4 628.2v1" stroke="#dcdcc4" stroke-width="1" stroke-linecap="butt" opacity="0.9" fill="none"/><path d="M127.9 622.4v2.4M139.2 637.4v2.5M138.2 623.2v2.2M137.8 638.2v2" stroke="#7a853e" stroke-width="1" stroke-linecap="butt" opacity="0.9" fill="none"/><path d="M127.8 641.9v1.1M138.1 628.9v1.3M129.1 623.6v2.1M136.1 631.4v2.1M135.9 640.7v2.3M132.9 633.5v1.4" stroke="#7a853e" stroke-width="1.5" stroke-linecap="butt" opacity="0.9" fill="none"/><path d="M124.9 630.4v2.1M127.9 620.8v2" stroke="#b4b67a" stroke-width="1.5" stroke-linecap="butt" opacity="0.9" fill="none"/><path d="M137.2 624.8v2.2M125.5 639v1.9M131.5 623.9v1" stroke="#4f5e2c" stroke-width="1.5" stroke-linecap="butt" opacity="0.9" fill="none"/><path d="M124.1 633.5v1.4M131.7 625.9v2.5M125.2 630.5v1.2" stroke="#8d9450" stroke-width="1.5" stroke-linecap="butt" opacity="0.9" fill="none"/><path d="M130.7 619.4v1.1M139.7 631.9v1.9" stroke="#6c7a3a" stroke-width="1.5" stroke-linecap="butt" opacity="0.9" fill="none"/><path d="M133.4 630.6v1.7M133.1 629.4v2M132.3 630.7v2.4" stroke="#4f5e2c" stroke-width="1" stroke-linecap="butt" opacity="0.9" fill="none"/><path d="M133.9 619.8v2.3M126.2 632.2v1.6M138.7 635.2v1.9M132.3 635v1.1M131.5 621.9v1.7M131.9 643v1.3" stroke="#8d9450" stroke-width="1" stroke-linecap="butt" opacity="0.9" fill="none"/><path d="M133.2 624.9v1.3M133.7 644.2v1.3M134.6 623v1.3M136.5 630.2v1.7" stroke="#999c58" stroke-width="1.5" stroke-linecap="butt" opacity="0.9" fill="none"/><path d="M129.9 630.2v2.2" stroke="#cccca4" stroke-width="1.5" stroke-linecap="butt" opacity="0.9" fill="none"/><path d="M135.1 637.1v1.3" stroke="#cccca4" stroke-width="1" stroke-linecap="butt" opacity="0.9" fill="none"/><polygon points="148.5,644 147.6,646.8 148.6,651 147.7,654.7 145.1,655.5 143,656.2 141,656 138.8,656.9 136.4,656.7 135.4,653 135.1,649.4 133,647.4 132.5,644 132,640.2 134.6,638 135.9,635.8 136.7,632 138.8,630.7 141,629.1 142.8,633.2 144.9,633.1 147.2,634.1 148.9,636.7 149.5,640.4" fill="#7a8444" opacity="0.6"/><path d="M138.9 638.1v2.4M139 636.5v2.1M138.3 637.3v1.8M139.1 642.4v1.8M139.5 641.7v1.5M147.4 641.2v2.1M143 648v2.4M146.6 643.2v2.5M144.8 644.5v1.9" stroke="#7a853e" stroke-width="1.8" stroke-linecap="butt" opacity="0.9" fill="none"/><path d="M140.5 635.8v2.4M135.4 644v2.4M146.8 635.4v3M149.5 639.3v2.1M142.3 641.9v2.7" stroke="#dcdcc4" stroke-width="1.8" stroke-linecap="butt" opacity="0.9" fill="none"/><path d="M142.1 640.5v2M141 636v3M147.2 637.7v2.2" stroke="#5e6c33" stroke-width="1.2" stroke-linecap="butt" opacity="0.9" fill="none"/><path d="M141.9 635v1.9M141.8 632.7v2.4M139.7 634.3v2M140.5 632.9v2.4M140.4 640v2.8M140.5 640.6v2.2M145.5 644.2v2.6M146 648.1v2.6M148.2 639.9v2.3" stroke="#7a853e" stroke-width="1.2" stroke-linecap="butt" opacity="0.9" fill="none"/><path d="M137.2 636.7v1.9M135.4 643.3v2.1M139.2 647.2v2.3M145.2 636.8v2M143.9 651.7v2.5M144.2 647.2v2.9M146.4 645.5v2.8M148.9 642.9v2.9M145.1 639.7v1.7M149.6 641.9v2.6" stroke="#6c7a3a" stroke-width="1.8" stroke-linecap="butt" opacity="0.9" fill="none"/><path d="M138.8 638.1v2.2M137.7 647.8v2.9M136.3 639.1v2M142.9 636.8v1.6M146.6 652.5v2.4M147.3 649.5v1.7M150.3 647v2.3" stroke="#999c58" stroke-width="1.8" stroke-linecap="butt" opacity="0.9" fill="none"/><path d="M137.9 633.7v2.8M138.8 639.3v2M138.6 643.3v1.9M137.4 647.3v2.6M149.8 636.9v1.8M146.3 642.6v1.6M147.7 641.8v1.9M145.6 640.7v2.5M148.6 645v2.1M144.4 648.7v2.2M142.8 646.5v1.5" stroke="#8d9450" stroke-width="1.8" stroke-linecap="butt" opacity="0.9" fill="none"/><path d="M138.5 637.6v2.3M135.4 645.8v1.7M140.3 644v2.3M147.3 636.1v1.6M146.2 637v2.4M144.7 646.3v2.6M147.6 647.8v2.8M145.2 639.6v1.7" stroke="#5e6c33" stroke-width="1.8" stroke-linecap="butt" opacity="0.9" fill="none"/><path d="M136.4 634.1v1.6M140 635.5v2.3M150 649.1v2.7M146.4 652.1v2M147.9 645.4v2.4" stroke="#4f5e2c" stroke-width="1.2" stroke-linecap="butt" opacity="0.9" fill="none"/><path d="M141.3 635.5v1.5M138.2 640.2v1.8M136.1 642.2v1.8M147.2 642.3v1.8M150.2 649.7v1.8M149.7 651.6v2.5M145.1 643.7v2.5M141.1 643.7v2.1" stroke="#8d9450" stroke-width="1.2" stroke-linecap="butt" opacity="0.9" fill="none"/><path d="M140.9 639.7v1.9M140.5 644.2v2.4M138.3 643.2v2.4M149.1 643.4v1.7" stroke="#dcdcc4" stroke-width="1.2" stroke-linecap="butt" opacity="0.9" fill="none"/><path d="M143 637.6v2.8M138.8 642.9v2.4M150.4 641.9v2.7M148.3 650v2.1M142.3 649.4v1.7M149.7 650.4v2.7M147 646.5v1.9M149.9 643v2.6M144.4 644.5v2.9M148.7 644.7v1.9" stroke="#4f5e2c" stroke-width="1.8" stroke-linecap="butt" opacity="0.9" fill="none"/><path d="M137.4 638.9v1.9M137.9 639.9v2.7M144.5 642.7v2.7M144.6 643.9v1.8" stroke="#b4b67a" stroke-width="1.2" stroke-linecap="butt" opacity="0.9" fill="none"/><path d="M138.4 643.3v2.5M145.4 642.3v2.4M148.2 639.8v2.3M145.2 650.2v1.9M148.5 645.5v1.9M145.1 642.2v1.5" stroke="#999c58" stroke-width="1.2" stroke-linecap="butt" opacity="0.9" fill="none"/><path d="M135.2 645.4v2M142.5 642.7v2.3" stroke="#cccca4" stroke-width="1.2" stroke-linecap="butt" opacity="0.9" fill="none"/><path d="M137.1 643.9v2.9M145.9 636.3v2.3M147 637.3v2.1M143.1 650.3v1.5M146.7 649.1v2.3M147.3 647.6v2.5" stroke="#6c7a3a" stroke-width="1.2" stroke-linecap="butt" opacity="0.9" fill="none"/><path d="M143.8 641.3v2.1M144.9 640v2.4M146.9 645.9v2" stroke="#b4b67a" stroke-width="1.8" stroke-linecap="butt" opacity="0.9" fill="none"/><path d="M143.7 653.2v1.7M138.9 640.8v2.4M135.4 647v1.3M138 632.5v2.4M146.6 639.3v1.2M132.6 638.3v1.1M149.5 646.4v1.1M145.7 639.4v2" stroke="#999c58" stroke-width="1" stroke-linecap="butt" opacity="0.9" fill="none"/><path d="M136.4 656.7v2.3M136.9 642.8v2.4M140.8 644.8v2.1" stroke="#dcdcc4" stroke-width="1" stroke-linecap="butt" opacity="0.9" fill="none"/><path d="M134.4 649.3v2.4M132.2 646.8v1.3M138.9 657.1v2.3M142.1 635.5v1.7M131.3 642.3v1.5M146.2 644.1v2.1M136.8 638.8v1.5M143.3 629.2v2" stroke="#7a853e" stroke-width="1.5" stroke-linecap="butt" opacity="0.9" fill="none"/><path d="M136.8 630.6v2.4M136.6 642.8v1.7M146.8 639.5v1.5M140.6 653.5v1.9M141.7 658.1v1.4M140.7 644.1v2.4M133.5 644.4v1.5M145 639.4v1.6" stroke="#5e6c33" stroke-width="1" stroke-linecap="butt" opacity="0.9" fill="none"/><path d="M143.6 639.5v1.1M143.7 646.1v1.9M143 645.4v2.3M138.4 629.9v2" stroke="#4f5e2c" stroke-width="1" stroke-linecap="butt" opacity="0.9" fill="none"/><path d="M143.9 647.6v1.8M132.9 647.8v1.1M132.8 652.9v1.1M134.6 645.5v1.9M139.7 654v1.7M135.4 656v2.4M135.8 637.4v1.1M139.8 630.7v2.4M138 643.4v1.7" stroke="#8d9450" stroke-width="1" stroke-linecap="butt" opacity="0.9" fill="none"/><path d="M140.8 642v1.5M134.9 641.9v2.1M135.8 640.2v1.4M133.9 651.5v1.1M135.4 641.1v2M132.1 646.6v2M146.5 651.6v1.2M139.6 628.2v1.9M141.6 640.9v1.7" stroke="#6c7a3a" stroke-width="1" stroke-linecap="butt" opacity="0.9" fill="none"/><path d="M142.1 646.3v1.6M137 629.8v1M150.3 648v1.6M147.3 641.7v2.1M137 658.5v1.4M132.5 644.9v1.4M140.4 646.6v2.2M147.4 643.3v2.5" stroke="#5e6c33" stroke-width="1.5" stroke-linecap="butt" opacity="0.9" fill="none"/><path d="M149.8 644.2v2.2M138.9 655.3v2.4" stroke="#4f5e2c" stroke-width="1.5" stroke-linecap="butt" opacity="0.9" fill="none"/><path d="M133.6 633.7v2M139 631.7v1.2M143 654.2v1.1M138.2 637.9v2.3M133.2 650.1v1.1M133.7 634v1.9M148.5 634.7v1.1" stroke="#6c7a3a" stroke-width="1.5" stroke-linecap="butt" opacity="0.9" fill="none"/><path d="M146.2 645v1.8M141.5 642.3v2.4" stroke="#cccca4" stroke-width="1.5" stroke-linecap="butt" opacity="0.9" fill="none"/><path d="M139.6 637.8v2.2M140.3 633.4v2.4M133.9 640.8v1.1M146.8 649.8v1.9M149.4 647v2.4M143.4 640.7v2.1M143.3 647.6v1.9M143.5 651.7v2.1M145.6 653.2v1" stroke="#8d9450" stroke-width="1.5" stroke-linecap="butt" opacity="0.9" fill="none"/><path d="M139 650.4v1.3M145.5 650.2v1M141 638v1.5" stroke="#999c58" stroke-width="1.5" stroke-linecap="butt" opacity="0.9" fill="none"/><path d="M148.7 644v1.7M138.5 646.9v1.3M149.7 637.5v2.1" stroke="#b4b67a" stroke-width="1.5" stroke-linecap="butt" opacity="0.9" fill="none"/><path d="M141.2 653.5v1.2M134.8 652.1v1.9M136.3 633.8v1.2M147.7 654.7v1.1" stroke="#cccca4" stroke-width="1" stroke-linecap="butt" opacity="0.9" fill="none"/><path d="M150.1 648.3v2.5" stroke="#dcdcc4" stroke-width="1.5" stroke-linecap="butt" opacity="0.9" fill="none"/><path d="M133.3 635.3v1.1M145.5 630.7v1.3M133.3 642.1v2.1" stroke="#7a853e" stroke-width="1" stroke-linecap="butt" opacity="0.9" fill="none"/><polygon points="159.8,647 161.1,650.1 160.5,653.1 158.7,654.7 157.1,655.6 155.5,656.2 154,658.9 152.1,658.4 150.6,656.6 149.8,653.8 148.6,652.1 146.8,650.1 147,647 147.5,644.2 149.1,642.4 149.4,639.5 150.5,637.2 152.2,636 154,636.9 155.6,637.2 157.3,637.6 159.2,638.6 160.3,641.1 159.8,644.5" fill="#7a8444" opacity="0.6"/><path d="M154.8 646v3M156.6 640.8v2.4M153.1 641.3v1.7M154.7 646v1.6M155.2 641.9v2.7M154.4 642.9v2.9M159 648.1v1.6M157.6 648.3v2.6M158.1 651.9v2.8M155.6 646.2v2.2M155.5 651.4v2.2M151.4 650.5v2.3M151.8 635.8v1.6M152.2 641.8v1.8" stroke="#4f5e2c" stroke-width="1.2" stroke-linecap="butt" opacity="0.9" fill="none"/><path d="M155.5 643v1.6M151.9 652.2v1.7" stroke="#5e6c33" stroke-width="1.8" stroke-linecap="butt" opacity="0.9" fill="none"/><path d="M157.7 646.6v2.2M156 646.1v2.4M156.8 644.6v2.7M155.3 644.1v2.9M152.3 650.7v1.9M153.4 654.4v2.4" stroke="#8d9450" stroke-width="1.8" stroke-linecap="butt" opacity="0.9" fill="none"/><path d="M155.2 647.6v3" stroke="#dcdcc4" stroke-width="1.2" stroke-linecap="butt" opacity="0.9" fill="none"/><path d="M158.5 640.7v2.6M152.8 651.9v2.4M154.3 649.7v1.7M153.9 638.4v2.1M154.7 640.6v1.6M155.5 642.5v1.9" stroke="#8d9450" stroke-width="1.2" stroke-linecap="butt" opacity="0.9" fill="none"/><path d="M155.8 644v2.9M154.1 645.6v1.9M155.4 642.4v2M156.3 648.3v2.4M155.6 650.3v3M155.4 650.3v1.5M157 654.4v1.7M151.7 650.5v2.9M155.2 649.9v1.5M155.6 642.3v2.5" stroke="#7a853e" stroke-width="1.2" stroke-linecap="butt" opacity="0.9" fill="none"/><path d="M153.6 648.8v2.1M156.6 646.4v2.9M154.5 642.6v2.7M152.8 648.1v2.6M157.8 650.1v2.3M155.6 648.5v2.2M156.4 653.8v2.7M156.4 648.2v2.4" stroke="#5e6c33" stroke-width="1.2" stroke-linecap="butt" opacity="0.9" fill="none"/><path d="M155.2 645v2.4M153.8 652.5v2.1M155.9 641.1v2.3" stroke="#4f5e2c" stroke-width="1.8" stroke-linecap="butt" opacity="0.9" fill="none"/><path d="M158.4 646.2v2.1M156.5 649.7v1.9M156 654v2.2M156.3 649.7v2.8M157.5 650.1v2M152 638.6v2.7M153 637.5v1.8M154.5 644.9v2.3" stroke="#6c7a3a" stroke-width="1.8" stroke-linecap="butt" opacity="0.9" fill="none"/><path d="M155.6 649.8v2.7M159.6 650v2.2M149.6 649.6v2.9M156.5 636.6v2.5M154.6 639.5v1.8" stroke="#b4b67a" stroke-width="1.2" stroke-linecap="butt" opacity="0.9" fill="none"/><path d="M155 650.5v1.6M157.7 637.8v2.2" stroke="#999c58" stroke-width="1.2" stroke-linecap="butt" opacity="0.9" fill="none"/><path d="M153.3 651.1v2.8M152.1 653v2.8" stroke="#b4b67a" stroke-width="1.8" stroke-linecap="butt" opacity="0.9" fill="none"/><path d="M157.9 646.8v3M157.8 650.2v2.2M152.2 653.8v2.7" stroke="#6c7a3a" stroke-width="1.2" stroke-linecap="butt" opacity="0.9" fill="none"/><path d="M156.4 650v2.3M154.9 648.3v2.5M153.7 644.5v2.3" stroke="#cccca4" stroke-width="1.2" stroke-linecap="butt" opacity="0.9" fill="none"/><path d="M156.4 647.7v2.2M153.6 649v2.4M151.7 643.2v2.1M151.3 639.3v2.7M153 635.8v2" stroke="#999c58" stroke-width="1.8" stroke-linecap="butt" opacity="0.9" fill="none"/><path d="M155 648.2v2M154 649.2v2.9M154.8 652.7v1.7" stroke="#dcdcc4" stroke-width="1.8" stroke-linecap="butt" opacity="0.9" fill="none"/><path d="M157.4 648.8v1.7M153.8 651.7v2.8M156.4 639v2.3M153.3 636.4v2.3M152.6 640v1.9" stroke="#7a853e" stroke-width="1.8" stroke-linecap="butt" opacity="0.9" fill="none"/><path d="M153.5 643v2.4M153.3 640.5v1.9" stroke="#cccca4" stroke-width="1.8" stroke-linecap="butt" opacity="0.9" fill="none"/><path d="M147.7 652.1v1.1M158.8 656.3v1.6" stroke="#6c7a3a" stroke-width="1" stroke-linecap="butt" opacity="0.9" fill="none"/><path d="M151.2 658.7v2M161.5 649.4v2.3M154.9 637v2M156.3 655.1v1.1" stroke="#7a853e" stroke-width="1" stroke-linecap="butt" opacity="0.9" fill="none"/><path d="M159.5 646.7v1.6M153.6 645.9v1.6M160 655.2v1.6" stroke="#4f5e2c" stroke-width="1" stroke-linecap="butt" opacity="0.9" fill="none"/><path d="M151.7 638.7v1.8M152.8 636.7v2.1M151.3 646v1.5M154.1 644.6v2.2M154.9 635.3v1.8M152.5 659.2v2.2" stroke="#999c58" stroke-width="1.5" stroke-linecap="butt" opacity="0.9" fill="none"/><path d="M151.6 637.1v1.9M148.2 652.3v2.2M157.6 641.9v1.8M153.7 656.5v1.8" stroke="#dcdcc4" stroke-width="1" stroke-linecap="butt" opacity="0.9" fill="none"/><path d="M153.2 639.5v1.6M157.3 647.4v1.5" stroke="#6c7a3a" stroke-width="1.5" stroke-linecap="butt" opacity="0.9" fill="none"/><path d="M156.6 649.2v1.1M157 640.8v2.2M150.4 648v1.3M161 640.9v1.2M151 638.4v1.7" stroke="#8d9450" stroke-width="1" stroke-linecap="butt" opacity="0.9" fill="none"/><path d="M150.3 649.2v1.7M157 648.9v1.7M155.6 653.4v2.3" stroke="#7a853e" stroke-width="1.5" stroke-linecap="butt" opacity="0.9" fill="none"/><path d="M147.1 644.1v1.3M147.7 640.2v2.4M150.1 648.8v1.3M151.7 640.4v1.5" stroke="#999c58" stroke-width="1" stroke-linecap="butt" opacity="0.9" fill="none"/><path d="M153.9 656.3v1.2M151.2 644.1v1M161 651.1v2.1M158.1 637.9v1.2M155 652.8v2" stroke="#b4b67a" stroke-width="1" stroke-linecap="butt" opacity="0.9" fill="none"/><path d="M149.8 654.2v1.4" stroke="#5e6c33" stroke-width="1.5" stroke-linecap="butt" opacity="0.9" fill="none"/><path d="M150.3 637.1v2.5M158.2 640.8v1M151.1 641.1v2.1M155.4 650.2v2.2" stroke="#8d9450" stroke-width="1.5" stroke-linecap="butt" opacity="0.9" fill="none"/><path d="M151.7 657v1.1M160.1 649.7v1" stroke="#4f5e2c" stroke-width="1.5" stroke-linecap="butt" opacity="0.9" fill="none"/><path d="M158.6 642v2M146.3 649.6v1.3M153.8 634.5v1.7M149.2 637.5v1.9" stroke="#dcdcc4" stroke-width="1.5" stroke-linecap="butt" opacity="0.9" fill="none"/><path d="M151.3 642v2.5M158.3 647.2v1.2M154.3 651.1v1M146.2 644.3v2.1M153.7 645.6v1.7M154.9 649.4v2.4" stroke="#5e6c33" stroke-width="1" stroke-linecap="butt" opacity="0.9" fill="none"/><path d="M147.9 642.9v2.2M152.9 656.8v1.8" stroke="#cccca4" stroke-width="1.5" stroke-linecap="butt" opacity="0.9" fill="none"/><path d="M160.2 639.6v2.3M154.9 653.7v2" stroke="#b4b67a" stroke-width="1.5" stroke-linecap="butt" opacity="0.9" fill="none"/><polygon points="172.1,653 171.4,655.5 171.9,658.7 170.5,661 168.7,662.3 166.7,661.9 165,663.4 162.9,664.5 160.6,663.9 159.7,660.7 159,658 158.5,655.5 157.2,653 156.9,649.9 159.1,648.1 160.1,645.9 161.4,643.9 162.9,641.7 165,642 166.9,643 168.1,645.3 170.3,645.4 172.6,646.7 172.6,650.1" fill="#7a8444" opacity="0.6"/><path d="M167.4 652.1v2.8M171.6 649v2M168.1 646.6v1.7M169.4 663.8v1.9M158.4 653.8v2.8M158 652.1v2.5M158.2 648.1v2.7M159.7 652.1v2.5M170.7 645.6v1.9M165.3 642.9v2.7" stroke="#5e6c33" stroke-width="1.8" stroke-linecap="butt" opacity="0.9" fill="none"/><path d="M170 646.6v2.3M171.6 652.9v2.5M166 661.4v2.6M165 652.8v2M165.6 643.1v2.7M169.8 642.5v2.5M170.7 645.5v2.7" stroke="#4f5e2c" stroke-width="1.8" stroke-linecap="butt" opacity="0.9" fill="none"/><path d="M169.9 649.6v2.1M171 649.3v2.9M167.7 657v1.8M168.4 648.5v2.8M167.6 649.1v1.9" stroke="#b4b67a" stroke-width="1.2" stroke-linecap="butt" opacity="0.9" fill="none"/><path d="M172.4 646.6v2.4M172.2 663.4v2.7" stroke="#dcdcc4" stroke-width="1.8" stroke-linecap="butt" opacity="0.9" fill="none"/><path d="M169.8 645.1v2.6M170.9 649.2v2.9M158.5 652.8v1.5" stroke="#5e6c33" stroke-width="1.2" stroke-linecap="butt" opacity="0.9" fill="none"/><path d="M169.3 645.2v1.8M166.6 661.3v2.6M171.7 660v2.3M163.2 653.7v2.9M159.9 649.9v2M167 647.8v2.3M168.9 645.8v2.3" stroke="#6c7a3a" stroke-width="1.2" stroke-linecap="butt" opacity="0.9" fill="none"/><path d="M169.9 649.5v2.5M167.5 648.9v2.5M173.1 660.7v2.5M167.1 645.2v2.5" stroke="#cccca4" stroke-width="1.2" stroke-linecap="butt" opacity="0.9" fill="none"/><path d="M170.3 649.2v2.2M169.6 663.4v3M169.8 662v1.8M165.8 646.7v2.2M168 649.6v2.7" stroke="#7a853e" stroke-width="1.8" stroke-linecap="butt" opacity="0.9" fill="none"/><path d="M170.5 649.9v2.9M169.2 650.8v1.5M166.4 661v2.8M170.1 659.9v1.9M160.7 650.5v2.2M166.5 643.1v1.6" stroke="#7a853e" stroke-width="1.2" stroke-linecap="butt" opacity="0.9" fill="none"/><path d="M174.1 652.7v2.8M173.4 652.1v2.1M170.1 650.6v2.6M168.5 661v2.1M163.1 654.6v2.4M160.2 655.1v2.8M158.5 650.4v2M163 654.1v2.9M167.5 649.4v2.1" stroke="#6c7a3a" stroke-width="1.8" stroke-linecap="butt" opacity="0.9" fill="none"/><path d="M172.3 652.9v1.6M167.1 647.2v1.7" stroke="#999c58" stroke-width="1.8" stroke-linecap="butt" opacity="0.9" fill="none"/><path d="M171.1 654.4v2.6M170.5 662.6v2.1M169.2 663v2.2M158.8 654.3v1.5M159.3 647.9v1.7M159.4 650.1v2.7M168.4 647v2.9M170.1 645.3v2.5M169.1 646.1v2.2M171.3 646.8v2.4M168.6 644.1v2.2" stroke="#4f5e2c" stroke-width="1.2" stroke-linecap="butt" opacity="0.9" fill="none"/><path d="M166.6 650.4v2.8M168.4 659.9v2M171.6 658.3v2" stroke="#8d9450" stroke-width="1.8" stroke-linecap="butt" opacity="0.9" fill="none"/><path d="M167.1 663.2v2M166.6 662.2v1.6M167.6 663.5v2.6M161.4 651.9v2.5M164.7 647v1.8" stroke="#999c58" stroke-width="1.2" stroke-linecap="butt" opacity="0.9" fill="none"/><path d="M171.7 665v2.1M164.5 653.4v1.8" stroke="#cccca4" stroke-width="1.8" stroke-linecap="butt" opacity="0.9" fill="none"/><path d="M168.2 662.1v2.9M156.6 651.6v2.5" stroke="#8d9450" stroke-width="1.2" stroke-linecap="butt" opacity="0.9" fill="none"/><path d="M169.8 662v2.4M163.4 651.1v2.4M163 652.4v2.8" stroke="#b4b67a" stroke-width="1.8" stroke-linecap="butt" opacity="0.9" fill="none"/><path d="M163.7 651.6v1.6M165.4 647.9v1.8" stroke="#dcdcc4" stroke-width="1.2" stroke-linecap="butt" opacity="0.9" fill="none"/><path d="M157.2 646.7v1.4M169.3 643.8v1.7" stroke="#6c7a3a" stroke-width="1" stroke-linecap="butt" opacity="0.9" fill="none"/><path d="M161.7 660.4v1.7M162.2 645.3v2M159.6 655.9v1.4M164 660.9v1.2M157.4 652.3v2M163.3 642.3v1.8" stroke="#7a853e" stroke-width="1.5" stroke-linecap="butt" opacity="0.9" fill="none"/><path d="M160.3 657.3v1.5M161.4 658.4v2.2" stroke="#b4b67a" stroke-width="1.5" stroke-linecap="butt" opacity="0.9" fill="none"/><path d="M158.4 645.3v2.3M161 650.4v1.7M158 649.6v2.4M160.4 648.2v1.8M164.6 645v1.5" stroke="#6c7a3a" stroke-width="1.5" stroke-linecap="butt" opacity="0.9" fill="none"/><path d="M172.3 659.1v2.4M162.5 650.6v2.5" stroke="#cccca4" stroke-width="1" stroke-linecap="butt" opacity="0.9" fill="none"/><path d="M163.7 661.7v1.3M166.1 651.8v2.4M165.1 663v1.9M162.5 644.7v1.5M168.4 657.3v2.3" stroke="#8d9450" stroke-width="1" stroke-linecap="butt" opacity="0.9" fill="none"/><path d="M172 645.7v1.8M164.6 641.1v1.4M165.5 644.2v2.4M166.2 657.1v2.2M165.9 659.4v1.8" stroke="#999c58" stroke-width="1.5" stroke-linecap="butt" opacity="0.9" fill="none"/><path d="M172.1 646.1v1.4M159.3 661.8v2.1M164.6 658v1.5M161.5 648v1.1M164.1 655.5v2.1" stroke="#999c58" stroke-width="1" stroke-linecap="butt" opacity="0.9" fill="none"/><path d="M159.3 657.1v1.6M168.6 641.7v1.3M160.4 643.4v1.8" stroke="#5e6c33" stroke-width="1.5" stroke-linecap="butt" opacity="0.9" fill="none"/><path d="M167.8 658.7v1.8M164.3 652.2v2.1M163.8 658.4v2.2M161.5 652.3v1.4M158.1 646.7v1.5M161.9 649.1v2.5" stroke="#4f5e2c" stroke-width="1" stroke-linecap="butt" opacity="0.9" fill="none"/><path d="M164.4 646.1v2.1M170.5 646.8v1.7M163.2 657.2v1.8" stroke="#5e6c33" stroke-width="1" stroke-linecap="butt" opacity="0.9" fill="none"/><path d="M162.6 661.8v1.5M165.5 662.4v1.6M160.4 646.1v1.3M160.2 661.1v1.1" stroke="#b4b67a" stroke-width="1" stroke-linecap="butt" opacity="0.9" fill="none"/><path d="M159.2 662.9v2.5M165.7 656.7v2.4M168.2 654.7v2.1M158.9 662.1v2.4M165.7 645.7v1.5M170.5 657.5v2.4M163 649.4v1.5M166.1 641.1v1.6M165.8 660.8v1.1" stroke="#4f5e2c" stroke-width="1.5" stroke-linecap="butt" opacity="0.9" fill="none"/><path d="M159.6 663.3v1.2M162.7 659.9v2.4" stroke="#7a853e" stroke-width="1" stroke-linecap="butt" opacity="0.9" fill="none"/><path d="M161.4 661.1v1.2M158.4 647.7v1.4M173.7 654.6v1.5M160.9 645.3v2" stroke="#8d9450" stroke-width="1.5" stroke-linecap="butt" opacity="0.9" fill="none"/><path d="M159.4 661v2.1M159.6 661.7v1.1" stroke="#dcdcc4" stroke-width="1" stroke-linecap="butt" opacity="0.9" fill="none"/><path d="M161 658.6v2" stroke="#cccca4" stroke-width="1.5" stroke-linecap="butt" opacity="0.9" fill="none"/><polygon points="183.1,657.5 183.8,661.1 181.1,663.1 179.6,665.2 178.1,667.4 176.5,670.5 174,671.6 171.8,669 170.2,666.7 168.2,665.5 165.9,664 164.8,660.9 166,657.5 166.3,654.7 166.6,651.6 167.3,648.2 169.4,646.4 171.9,646.5 174,646.3 176.4,645.3 179,645.6 180.1,649.1 180.1,652.6 181,654.9" fill="#7a8444" opacity="0.6"/><path d="M170.1 659v2.2M167.6 660.8v1.7M169.7 661.8v1.9M169.1 651v1.9M174.3 654.4v2.6M174.6 660.2v2.5" stroke="#7a853e" stroke-width="1.8" stroke-linecap="butt" opacity="0.9" fill="none"/><path d="M166 660v2.1M167.5 659.4v1.8M174.7 653.5v2.5M173.4 649.4v2.6M170.1 649.1v1.8M171.2 649.3v2.6M182.2 654.5v2.2M180.5 653.1v2.6M175.5 660.8v2.8" stroke="#5e6c33" stroke-width="1.2" stroke-linecap="butt" opacity="0.9" fill="none"/><path d="M169.5 656.7v3M171.1 657.6v2.6M167.7 660.5v2.9M174.4 652.3v2M164.7 647.8v2.7M163.7 650.1v1.6M168.2 650.7v2M178 660.7v1.6M173.9 658.7v1.7" stroke="#7a853e" stroke-width="1.2" stroke-linecap="butt" opacity="0.9" fill="none"/><path d="M167.8 660.7v2.8M167.6 657v2.5M176.1 649.5v1.8M176.1 648.7v1.7M174.3 660.8v2.5" stroke="#dcdcc4" stroke-width="1.2" stroke-linecap="butt" opacity="0.9" fill="none"/><path d="M167.8 657.6v1.8M165.3 660.2v2M168.6 650.9v2M168.6 654.3v1.7M164.7 650.4v2M183.7 656.3v1.6M171.2 661.6v2.7" stroke="#8d9450" stroke-width="1.8" stroke-linecap="butt" opacity="0.9" fill="none"/><path d="M169.4 656.2v1.7M165.8 654.7v1.7M176.3 645.8v1.6M177.1 652.4v1.8M171.9 651.4v2.9M170.5 649.1v2.1M183.5 652.6v2.5M183.5 653v2.4M184.2 656.3v1.5M177.2 653.7v2.8" stroke="#6c7a3a" stroke-width="1.2" stroke-linecap="butt" opacity="0.9" fill="none"/><path d="M167.9 656.2v1.6M172.1 647.4v2.1M174.5 645.6v2.7M171.8 648.5v1.9M165.7 653.4v2.5M167.1 649.1v1.7M181 651.6v1.7M179.4 653.8v2.7M182.8 652.6v2.7M181.7 651.9v2.1M173.5 655.6v2M173.6 657.9v3" stroke="#4f5e2c" stroke-width="1.8" stroke-linecap="butt" opacity="0.9" fill="none"/><path d="M164.7 656v2.3M170.5 648.6v2.4M164 648.9v2.3M173.2 656.7v2.2M175.9 657.2v2.1" stroke="#999c58" stroke-width="1.8" stroke-linecap="butt" opacity="0.9" fill="none"/><path d="M168 657.3v2.5M176.5 644.3v3M172.3 651.7v2M172.6 646.3v1.6M180.4 657.7v2.6M182.4 655.6v1.5M177.9 658.3v2.5" stroke="#4f5e2c" stroke-width="1.2" stroke-linecap="butt" opacity="0.9" fill="none"/><path d="M171.3 655.9v2.5M166.7 653v1.8M176 650.8v3M168.9 655.9v1.5M176.5 656.7v2.6" stroke="#cccca4" stroke-width="1.2" stroke-linecap="butt" opacity="0.9" fill="none"/><path d="M167.5 657v1.6M167.1 661.2v1.8M164.5 654.6v1.6M167.4 651.2v1.8M182.6 649.5v1.7M177.8 655.7v2.2M184.9 653.5v1.8M177.6 650.6v1.8M175 656.2v2M172.6 659.2v2.5M172.8 658v1.7" stroke="#5e6c33" stroke-width="1.8" stroke-linecap="butt" opacity="0.9" fill="none"/><path d="M166 654.4v2.1M177.7 647.9v1.5M174.6 648.7v2.9M178.2 645.4v1.7M177.5 652.4v2.8M174.9 658.5v1.6" stroke="#cccca4" stroke-width="1.8" stroke-linecap="butt" opacity="0.9" fill="none"/><path d="M175.9 648.4v1.9M170.7 649.4v3M170.6 649.3v1.7" stroke="#8d9450" stroke-width="1.2" stroke-linecap="butt" opacity="0.9" fill="none"/><path d="M170.9 646.7v2.9M165 648.9v3M178.8 649.3v2.9M174.8 658.4v2.6" stroke="#dcdcc4" stroke-width="1.8" stroke-linecap="butt" opacity="0.9" fill="none"/><path d="M173.4 644.5v2.6M164.9 649.1v2M181 651.9v2.2M178.3 659.5v2.4M171.7 661.7v2.3" stroke="#999c58" stroke-width="1.2" stroke-linecap="butt" opacity="0.9" fill="none"/><path d="M163.4 653.5v2.6M166.4 656.5v2.5M182.4 656.5v2.5M179.7 656.8v1.8M175 662.1v2.9" stroke="#6c7a3a" stroke-width="1.8" stroke-linecap="butt" opacity="0.9" fill="none"/><path d="M171.2 655.8v1.7" stroke="#b4b67a" stroke-width="1.2" stroke-linecap="butt" opacity="0.9" fill="none"/><path d="M176.6 653.9v1.6M176.7 651.8v2.4M174 653.4v2.1M164.5 651.9v1.2" stroke="#b4b67a" stroke-width="1.5" stroke-linecap="butt" opacity="0.9" fill="none"/><path d="M178.3 661v1.5M171.5 659v1.4M170.8 665.5v1.2M178 647.3v2.5M173.4 655.6v2.2M172.1 669.7v1.4M165.5 656.7v2.1M178.8 666.9v1.2M179.2 648.2v1.2" stroke="#8d9450" stroke-width="1.5" stroke-linecap="butt" opacity="0.9" fill="none"/><path d="M172.5 648.2v2.3M179.1 655v2.3M177.1 670.7v1.5M172.2 659.9v1.1M183.8 658.8v1.6M166.3 654.9v1.9" stroke="#5e6c33" stroke-width="1.5" stroke-linecap="butt" opacity="0.9" fill="none"/><path d="M169.2 666.8v1.4M181.6 658.7v2.2M176.1 650.6v1.4M166.8 650.7v1.1M166.5 649.2v1.3M166.4 658v1.8M174.8 658v1.4M178.4 663.2v2.3" stroke="#4f5e2c" stroke-width="1.5" stroke-linecap="butt" opacity="0.9" fill="none"/><path d="M171.2 647.5v1.8M167.9 663.4v1.1M170 646.5v1.7" stroke="#dcdcc4" stroke-width="1" stroke-linecap="butt" opacity="0.9" fill="none"/><path d="M182.6 650.9v1.7M175.6 659.5v1.5M167.8 647.9v2.3M167.1 653.1v1.3M169.4 670.2v1.5" stroke="#7a853e" stroke-width="1.5" stroke-linecap="butt" opacity="0.9" fill="none"/><path d="M166.1 650.8v2.4M179.3 665.1v1.7M167.8 664.8v1.1M179.1 667.3v2.4M170.7 669v1.9M180.2 650v1.8" stroke="#8d9450" stroke-width="1" stroke-linecap="butt" opacity="0.9" fill="none"/><path d="M182.3 655.8v1.8M172.1 650.8v1.2M168.6 659.7v1.4M180.7 646.4v1.7M172.3 649.6v1.3M176.5 651v1.1" stroke="#5e6c33" stroke-width="1" stroke-linecap="butt" opacity="0.9" fill="none"/><path d="M164.5 658.6v1.5M183 661.5v2M174.9 647.3v1.2M176.6 653.5v1.8M179.4 665.6v2.4M172.4 655.1v2.2" stroke="#6c7a3a" stroke-width="1.5" stroke-linecap="butt" opacity="0.9" fill="none"/><path d="M183.7 656v2.4M178.2 657.2v1.6" stroke="#cccca4" stroke-width="1" stroke-linecap="butt" opacity="0.9" fill="none"/><path d="M167 653.2v1.3M179.8 666.1v2.5M179.8 652.2v1.8M180 659.3v1.6" stroke="#6c7a3a" stroke-width="1" stroke-linecap="butt" opacity="0.9" fill="none"/><path d="M177.1 655.9v2.4M172.9 656.7v1.5M182.6 653.5v2M164.9 650.7v1.8M178.3 656.7v2.1M183.5 654.2v1.8M179.8 663.6v1.9" stroke="#999c58" stroke-width="1.5" stroke-linecap="butt" opacity="0.9" fill="none"/><path d="M163.8 655.2v1.5M170.4 653.8v1.6M168.4 661.2v1.1" stroke="#4f5e2c" stroke-width="1" stroke-linecap="butt" opacity="0.9" fill="none"/><path d="M179.7 658.7v1.3M169.4 667.4v1.5M166.8 667.8v1.4M178.6 665v1.2M167.5 661.1v2.2M182.6 660.5v2.2" stroke="#7a853e" stroke-width="1" stroke-linecap="butt" opacity="0.9" fill="none"/><path d="M181.2 647.2v2M167.8 656v1.8M165.3 665.1v2.3M177.7 662.5v1.1" stroke="#b4b67a" stroke-width="1" stroke-linecap="butt" opacity="0.9" fill="none"/><path d="M166 652.5v2.1M181.8 648.5v1.2M179.3 655.8v1.6M177.1 650.1v2.2" stroke="#999c58" stroke-width="1" stroke-linecap="butt" opacity="0.9" fill="none"/><path d="M166.7 656.1v2.4" stroke="#dcdcc4" stroke-width="1.5" stroke-linecap="butt" opacity="0.9" fill="none"/><path d="M167.2 649v1.2M173.9 646.8v2M179.2 667.6v2" stroke="#cccca4" stroke-width="1.5" stroke-linecap="butt" opacity="0.9" fill="none"/><polygon points="200.2,658 198.3,660.4 196.4,662 197,665.7 195,667.5 192.4,667.6 190,667.2 187.8,666.9 185,667.5 182.9,665.8 181.7,663.2 181.7,660.4 181.7,658 180.6,655.2 181.9,652.9 184.3,651.8 186.4,651.1 187.7,648.8 190,646.8 192.4,648.2 194.4,649.8 195.3,652.2 198.2,652.8 199.9,655.1" fill="#7a8444" opacity="0.6"/><path d="M181.3 665.3v2.9M184.3 665.2v2.6M184.6 662.5v2.5M187.7 666.9v2.1M199.5 656v2.2M195.4 656.6v2.8M200 654.8v1.9" stroke="#6c7a3a" stroke-width="1.2" stroke-linecap="butt" opacity="0.9" fill="none"/><path d="M179.5 664.7v2.3M184.3 667.2v2.4M182.8 668.9v1.8M185.5 661.4v1.6M189.3 660.7v2.2M192.7 658.4v2.3M184.5 654.9v2.4M182.5 650.2v2M180.7 650.6v2.3" stroke="#4f5e2c" stroke-width="1.8" stroke-linecap="butt" opacity="0.9" fill="none"/><path d="M181 667.5v2.6M183 665.1v1.8M184.9 666.5v2.6M181 661.6v1.7M186.4 661.6v1.7M182.6 653.7v2.8M196.8 657.3v2.3M193.4 650.7v1.6" stroke="#5e6c33" stroke-width="1.2" stroke-linecap="butt" opacity="0.9" fill="none"/><path d="M181.2 663.8v2.7M181 665.4v2.9M188.4 666v2.2M190.3 659.5v2.2M189 660.6v1.9" stroke="#cccca4" stroke-width="1.2" stroke-linecap="butt" opacity="0.9" fill="none"/><path d="M182.9 665.4v2.9M198.6 652.1v1.8M195.5 654.2v1.8" stroke="#dcdcc4" stroke-width="1.2" stroke-linecap="butt" opacity="0.9" fill="none"/><path d="M179.4 669.4v1.8M181.9 663.1v3M183.9 665.6v3M190.5 664v2.2M188.1 659.2v1.5M190.2 659.6v2.4M197.2 652.9v3M195.9 655.5v2.1" stroke="#6c7a3a" stroke-width="1.8" stroke-linecap="butt" opacity="0.9" fill="none"/><path d="M180.8 669v2.4M181.7 663.6v1.9M183 669.6v2.6M185.2 661.2v1.5M188.2 662.6v2.2M183.7 660.2v2.5M189.5 664.8v1.7M190 659.3v2.8M185.6 655.7v2.8M181.8 655.5v1.7M194 650.5v2.6M197.7 655.3v2.5M194.9 657.3v2.4" stroke="#7a853e" stroke-width="1.2" stroke-linecap="butt" opacity="0.9" fill="none"/><path d="M182.7 665.7v2.4M186.6 664.9v1.8M187.5 663.2v2.9M186.8 660.6v2.7M190 657.4v1.9M191.9 658v2.1M185.6 652.7v2.5M185.1 654.3v1.8M180.3 653.4v2.7" stroke="#999c58" stroke-width="1.8" stroke-linecap="butt" opacity="0.9" fill="none"/><path d="M180.8 664.5v2M186.4 666.1v1.7M187.1 661.1v2.9M190.8 655.7v2.6M192.6 658.4v2.5" stroke="#5e6c33" stroke-width="1.8" stroke-linecap="butt" opacity="0.9" fill="none"/><path d="M184.6 663.8v2.1M179.9 652.1v2.2M196.6 656.4v1.7" stroke="#cccca4" stroke-width="1.8" stroke-linecap="butt" opacity="0.9" fill="none"/><path d="M182.9 664.8v2.6M190 666.3v2.2M183.3 664.7v2.1M191.8 662.9v2.5M191.2 662.7v2.4M187.1 662.8v2.8M181 650.4v1.7M182.1 653.2v1.6M185.7 651.9v2.6" stroke="#7a853e" stroke-width="1.8" stroke-linecap="butt" opacity="0.9" fill="none"/><path d="M184.4 666.5v1.9M184.4 667.1v2.7M183.1 661.9v1.7M187.5 655.7v1.9M183.1 655.1v1.7M194.9 654.4v2.1" stroke="#4f5e2c" stroke-width="1.2" stroke-linecap="butt" opacity="0.9" fill="none"/><path d="M183.5 665.5v1.9M186 667.4v1.6M184.4 663.4v1.7M185 651.2v1.9M182.3 654.1v1.6" stroke="#999c58" stroke-width="1.2" stroke-linecap="butt" opacity="0.9" fill="none"/><path d="M188.1 666v1.9M187.1 663.9v1.5M181.2 650.3v2.4M195.6 652.6v1.8M196.6 650.8v1.6" stroke="#8d9450" stroke-width="1.2" stroke-linecap="butt" opacity="0.9" fill="none"/><path d="M187 665v1.7M188.5 660.9v2.1M190.9 656.2v2.7M193.4 658.7v2.7M183.6 653.4v2.7M196.7 658.9v2M196.7 656.7v1.9M195.8 652.5v2.8M200.1 653.1v2.8M193.2 652.3v1.7" stroke="#8d9450" stroke-width="1.8" stroke-linecap="butt" opacity="0.9" fill="none"/><path d="M188.9 660.1v1.6M196.4 655.6v2.3" stroke="#b4b67a" stroke-width="1.2" stroke-linecap="butt" opacity="0.9" fill="none"/><path d="M182.6 652.5v2.7" stroke="#dcdcc4" stroke-width="1.8" stroke-linecap="butt" opacity="0.9" fill="none"/><path d="M184.1 657.2v1.9M186.4 656.7v1.6" stroke="#b4b67a" stroke-width="1.8" stroke-linecap="butt" opacity="0.9" fill="none"/><path d="M200 663v1.4M191.8 668.8v1.9M183.7 656.8v1.9M191.5 647v1.1M191.5 662.8v1.4" stroke="#6c7a3a" stroke-width="1.5" stroke-linecap="butt" opacity="0.9" fill="none"/><path d="M180.5 663.8v1.6M185.9 665.5v2.1M194.9 662.9v1.5M192.6 649.7v1.3M180.9 653.4v2.5M190.8 651.2v1.3M189.6 656.3v2.4" stroke="#5e6c33" stroke-width="1" stroke-linecap="butt" opacity="0.9" fill="none"/><path d="M196.5 654.3v2.2M199.2 661.1v1.1M185.1 648.9v1.4M189.2 664.1v1.9M193 660.1v2.3M181.2 659.8v2.5M194.7 650.3v1.8M186.4 668.2v1.8M198.3 650.2v2.5" stroke="#6c7a3a" stroke-width="1" stroke-linecap="butt" opacity="0.9" fill="none"/><path d="M186.5 648.3v2.4M190.5 657.1v1.4M198 655.4v2.3M183.3 659.2v1M184.4 667v1.6" stroke="#7a853e" stroke-width="1" stroke-linecap="butt" opacity="0.9" fill="none"/><path d="M196.1 651.4v1.7M197.7 651.1v2.1M184.7 650.9v1.4M192.1 664.6v1M194.3 667.1v1.7M194.9 647.5v2.2" stroke="#4f5e2c" stroke-width="1.5" stroke-linecap="butt" opacity="0.9" fill="none"/><path d="M197.8 652v2.1M198 659.7v1.6" stroke="#8d9450" stroke-width="1.5" stroke-linecap="butt" opacity="0.9" fill="none"/><path d="M197.6 664.7v2.1M187.7 651v2.2M192 658.6v2M186.2 650.3v1.8" stroke="#999c58" stroke-width="1.5" stroke-linecap="butt" opacity="0.9" fill="none"/><path d="M182.8 651.4v1.7M192.5 650.3v1M196.6 656.2v2.3" stroke="#4f5e2c" stroke-width="1" stroke-linecap="butt" opacity="0.9" fill="none"/><path d="M200.8 659.7v1M190.3 666.4v1.6M183.9 655v1.3M188.6 653.3v2.1M192.9 662.3v2.3" stroke="#999c58" stroke-width="1" stroke-linecap="butt" opacity="0.9" fill="none"/><path d="M181.1 663.2v1.9M189.2 661.8v2.3M185.5 649.5v1.8M183.1 654.2v2.1M193.4 665.6v1.2" stroke="#7a853e" stroke-width="1.5" stroke-linecap="butt" opacity="0.9" fill="none"/><path d="M192.3 662.9v1.4M196.5 659.8v1.3M185 659.6v2.4" stroke="#5e6c33" stroke-width="1.5" stroke-linecap="butt" opacity="0.9" fill="none"/><path d="M192.6 659.8v2.1M189.9 659.4v2.5M199.1 659.9v1.9" stroke="#b4b67a" stroke-width="1.5" stroke-linecap="butt" opacity="0.9" fill="none"/><path d="M186.9 647.2v1.9M187.9 662.3v2.2M192.6 666.6v1.3" stroke="#8d9450" stroke-width="1" stroke-linecap="butt" opacity="0.9" fill="none"/><path d="M196.3 650.3v2.3M187.8 663v1.5M197.7 662.3v1.7" stroke="#cccca4" stroke-width="1.5" stroke-linecap="butt" opacity="0.9" fill="none"/><path d="M189.9 670v2.2M185.2 666.9v1.7" stroke="#cccca4" stroke-width="1" stroke-linecap="butt" opacity="0.9" fill="none"/><path d="M194.7 647.2v1.8M185.4 650.9v1M199.1 655v1.4M181.5 658.9v2M182.7 650.5v1.9" stroke="#dcdcc4" stroke-width="1" stroke-linecap="butt" opacity="0.9" fill="none"/><path d="M182.6 650v1.1M192.1 666.1v1.3M186.4 651.4v1.3" stroke="#b4b67a" stroke-width="1" stroke-linecap="butt" opacity="0.9" fill="none"/><path d="M196.8 663.5v2.1M200.6 654.8v1.4" stroke="#dcdcc4" stroke-width="1.5" stroke-linecap="butt" opacity="0.9" fill="none"/><path d="M234.9,693.5 Q234.9,679.2 234.9,665" stroke="#9a7b60" stroke-width="1.2" fill="none"/><path d="M245.8,693.5 Q245.8,679.2 245.8,665" stroke="#9a7b60" stroke-width="1.2" fill="none"/><path d="M239.8,693.5 L239.8,688.4 L236.8,668 M239.8,688.4 L242.2,669" stroke="#c2acaf" stroke-width="1.1" fill="none"/><path d="M239.8,693.5 L239.8,688.4 L236.8,668 M239.8,688.4 L242.2,669" stroke="#f3eded" stroke-width="0.45" fill="none"/><polygon points="255.8,662.4 254.4,666 250.7,668.4 249.1,671.2 247.6,675.3 244,677.7 239.5,675.9 236.3,673.5 232.7,673.3 227.2,673.7 226.3,669.4 227.3,665.4 226.6,662.4 224.3,658.6 225.4,654.8 228.2,651.9 232.4,651 235.9,650 239.5,647.2 243.8,647.4 246.5,651.2 249,653.6 250.9,656.3 255.6,658.4" fill="#7a8444" opacity="0.6"/><path d="M251.3 660.9v2.8M228.7 653.4v2.7M232.2 660.3v2.9M244.4 659.8v2.5M245.7 657.1v2" stroke="#dcdcc4" stroke-width="1.2" stroke-linecap="butt" opacity="0.9" fill="none"/><path d="M252.9 658.9v2.4M251.3 661v1.9M237.5 659.2v2.9M239 659.8v1.6M232.9 656.9v1.6M231.3 657.9v2.2M234.7 657.4v2.3M232 661.2v2.7M254.5 660.2v2.9M248.8 658.2v2.3M250.3 659.3v2.6M253.2 657.3v1.7M231.6 658.5v1.6M231.9 656.2v2.7M233.4 673.6v2M242.1 663.9v1.8M242.5 659.4v1.8M242.8 659.6v2.1M242.1 659.7v2.9M246.5 662.5v1.6M243.3 661.2v2.3M248.5 665.1v1.7M227.8 664.7v1.9" stroke="#7a853e" stroke-width="1.8" stroke-linecap="butt" opacity="0.9" fill="none"/><path d="M253.7 661.2v2.8M254.7 659.4v2.8M247.7 664v1.9M237.3 654.3v2.2M232.8 656.1v2.5M233.5 657.8v2.7M231.7 657.5v1.9M251.1 655.2v3M252.7 657.3v1.9M248.5 659.5v1.7M235.8 656.3v1.6M233.4 653.6v1.9M233.7 671.5v2.1M231.7 676.4v2.2M228.2 672.1v2.2" stroke="#4f5e2c" stroke-width="1.2" stroke-linecap="butt" opacity="0.9" fill="none"/><path d="M254.2 659.5v1.5M253.8 662.7v1.7M249.2 658.1v1.6M238.5 661.5v2.3M230 656.3v1.9M232.3 657v2.3M233.4 656.6v1.9M232.9 657.5v1.7M242 659.7v2.2M240.4 660.9v2.8M241.5 662.7v2M242.4 654.8v2.7M229.9 668.5v2M226 667.6v2.4M224.6 667.9v1.9M227.1 668.9v1.7" stroke="#6c7a3a" stroke-width="1.8" stroke-linecap="butt" opacity="0.9" fill="none"/><path d="M250.1 665.4v2.7M233.1 658.5v2.6M233.1 658.4v2.1M237.5 661.9v1.9M233.6 656.3v1.9M250.6 660v2.4M232 651.6v2.6M232 660.1v2.6M234.1 656.8v2.8M228.8 672.2v2M232.2 675v1.7M239.9 658.1v1.8M241.4 662v2.6M243.6 659.3v2.5M247.2 661.6v2.3M245.4 662.8v2.7M244.5 665.6v1.6M244.3 658.9v2.3M246.2 661.2v1.9" stroke="#5e6c33" stroke-width="1.2" stroke-linecap="butt" opacity="0.9" fill="none"/><path d="M251.6 660.8v3M227.8 657.2v1.7M228.2 653.4v1.8M228.2 659.8v2.6M251.5 658.7v2.5M248.2 658.7v1.7M228.3 657.6v1.9M231.8 657.1v1.7M231.4 675.1v2.8M227.7 669.6v2.2" stroke="#999c58" stroke-width="1.8" stroke-linecap="butt" opacity="0.9" fill="none"/><path d="M250.8 656.9v2.1M254.1 665.5v2.7M250.1 662.2v2.6M238.7 656v2M233.2 661.1v2.8M232.6 657.3v2.7M233.7 659v2.9M235.8 653.8v2M231.1 658.8v2.5M234.2 652.2v1.5M231.2 674.4v2.3M239.3 660.4v2.8M250.4 660.1v2.6M247.5 662.9v2.2M246 661.2v2.4M225.5 668.7v1.9M228.5 666.1v1.9" stroke="#5e6c33" stroke-width="1.8" stroke-linecap="butt" opacity="0.9" fill="none"/><path d="M251.2 661.9v2.3M249.1 657.8v2.4M254.5 659.4v2.4M233.8 657.9v2M233.3 660.3v1.8M231.6 653.1v2.2M248.3 656.8v2.9M233.3 673.1v2.1M233 673.3v1.6M243.5 660.5v1.8M244.6 661.3v2.3M240.6 656.8v2.7M238.8 659.8v2M245.9 663.9v2.1M248.2 659.3v2.8" stroke="#7a853e" stroke-width="1.2" stroke-linecap="butt" opacity="0.9" fill="none"/><path d="M247.7 662.3v1.5M253.2 661.1v2.8M244 661.4v1.9M245.8 662.3v2.1M222.3 666.3v2.4M226.2 665v2.9" stroke="#b4b67a" stroke-width="1.8" stroke-linecap="butt" opacity="0.9" fill="none"/><path d="M250.4 659.7v2.2M252.6 659.2v2.1M232.7 655.9v1.8M234.2 669.9v1.5M235.3 670.4v2M241.1 654.8v2.2M246.9 666v1.8" stroke="#8d9450" stroke-width="1.2" stroke-linecap="butt" opacity="0.9" fill="none"/><path d="M251.6 661.3v1.7M233.3 658.1v2.8M230.8 657v2M249.7 662v1.9M246.9 664.4v2.7M247.3 662.5v2.6M224.5 670.4v1.7" stroke="#8d9450" stroke-width="1.8" stroke-linecap="butt" opacity="0.9" fill="none"/><path d="M249.6 662.8v2.4M239.9 661.2v2.7M233.6 658v2M250 658.3v2.6M252.3 659.8v1.7M247.9 657.7v1.7M231 658.1v2.4M229.7 669.7v2.3M245.4 662.3v2.4M228.3 667.9v2.5" stroke="#999c58" stroke-width="1.2" stroke-linecap="butt" opacity="0.9" fill="none"/><path d="M253 663.6v2.6M238.4 658.9v2.1M235.3 653.5v1.8M232 670.6v2.3M244.1 657.6v3M243.7 657.2v1.8M223 670.1v1.8" stroke="#cccca4" stroke-width="1.2" stroke-linecap="butt" opacity="0.9" fill="none"/><path d="M233.4 655.5v2.1M236.5 660.3v2.7M234.7 655.7v1.8M233.5 657.3v2.7M230.3 657.4v2.6M233.4 657.2v1.6M248.6 660.2v2.2M251.6 655.2v2.4M236 658v2.2M232.6 668.3v2.8M244.6 660.5v2.8M226.6 668.9v3M227.2 672.2v1.7" stroke="#4f5e2c" stroke-width="1.8" stroke-linecap="butt" opacity="0.9" fill="none"/><path d="M240.3 660.4v2.8M237.3 656.5v2.4M252.7 656.9v2M232.9 672v2.8M230.5 672.9v1.5M231.1 675.4v2.3M230.1 673.2v2.8M234.7 674.1v1.7M223.4 667.4v2.9M230 667.2v3M227 670.2v1.6M226.2 669.6v1.9M223.1 665.6v2M227.8 663.1v1.8" stroke="#6c7a3a" stroke-width="1.2" stroke-linecap="butt" opacity="0.9" fill="none"/><path d="M238 659v2.6M254.9 656.7v1.7M229.2 655.1v1.9M231.9 656.1v1.5M229.2 657.1v2.7M250.3 662.2v1.9M245.1 660.9v2.1" stroke="#b4b67a" stroke-width="1.2" stroke-linecap="butt" opacity="0.9" fill="none"/><path d="M234.7 658.3v1.6M230.1 656.1v2.2M229.2 675.7v2.5" stroke="#cccca4" stroke-width="1.8" stroke-linecap="butt" opacity="0.9" fill="none"/><path d="M250.9 657.3v2.1M229.4 676.6v1.5M243.9 658.5v1.5M223 671.3v2.9" stroke="#dcdcc4" stroke-width="1.8" stroke-linecap="butt" opacity="0.9" fill="none"/><path d="M231.4 654.4v1.3M234.3 664v1.4M247 674.5v1.9M239 678.5v2M229.9 652.4v2M243.1 653.1v1.5M244.6 672.8v1.2M247.9 659.6v2.4M234.5 670.5v2.3M256.3 665.3v2.4M222.5 663.6v1.5M253.5 658.1v2.1M230 649.6v1.7M243.2 674.9v1.3" stroke="#8d9450" stroke-width="1" stroke-linecap="butt" opacity="0.9" fill="none"/><path d="M242 656.7v1.9M232.7 667.5v1.3M246.2 675v2.2M226.9 658.5v2.2M246.2 647.8v1.6M244.7 662.9v1.7M242.9 668.8v1.5M249.4 668.9v2.3M234.3 660.1v2.1M250.3 655.6v1.5" stroke="#999c58" stroke-width="1" stroke-linecap="butt" opacity="0.9" fill="none"/><path d="M243.7 673.5v1M243 678v2.3M230.4 665.8v2.1M240.9 670.2v2.1M232.9 655.9v1.4M250.9 661.5v1.1M252.2 673.1v1.1M241.5 678.3v2.1M243 667.1v1.5M225.4 661.1v2.3M242.2 674.8v1.4M236.4 675.2v2.2M234.7 657.2v2.5M251 649.8v2.1" stroke="#7a853e" stroke-width="1" stroke-linecap="butt" opacity="0.9" fill="none"/><path d="M231.4 677.2v2.5M241.7 668.2v2M236.1 652.8v1.6M250 649.4v1.2M239.9 671.4v1.2M227.8 664.8v2.2M231.1 653.7v2.4M250 660.2v1.7M231.8 663.8v2.5M222.5 667.8v1.5M237.6 656v2.4M242.1 661.6v2.1M227.8 660v2.1" stroke="#6c7a3a" stroke-width="1.5" stroke-linecap="butt" opacity="0.9" fill="none"/><path d="M255.3 663.2v1.2M222.5 661.2v2.3M253.7 662.5v1.3M239.3 672.4v1.9M247.6 654.7v1.9M241.7 655.7v2.1M234.5 677.7v1.7M230.8 672.5v1.7M231.2 651.4v1.4M255.1 660.6v1M231 673v1.4M243.6 670.4v2.1M232.2 656.4v2.4M234.7 658.8v2M226.6 657.8v1M231.4 648.9v2.4" stroke="#999c58" stroke-width="1.5" stroke-linecap="butt" opacity="0.9" fill="none"/><path d="M251.8 659.6v2.2M243.4 664.4v1.2M228.5 650.9v1.6M242.9 665v1.2M229 674.3v1.3" stroke="#8d9450" stroke-width="1.5" stroke-linecap="butt" opacity="0.9" fill="none"/><path d="M256.5 665.1v1.8M242.2 676.1v1.1M249.5 654.7v2.2M238.9 671.5v1.3M229.2 657.7v1.4M233.9 657.3v2M250.9 651.6v1.3M254.4 664.9v2" stroke="#5e6c33" stroke-width="1.5" stroke-linecap="butt" opacity="0.9" fill="none"/><path d="M250.8 667.8v2.2M222.6 664.6v2.4M224.7 668.2v1.8M229.1 655.3v2M240.4 679v1.2M223.7 656.8v2.2M244.1 653.2v2.4M239.6 646.2v1.3M240.4 665.9v2.3" stroke="#dcdcc4" stroke-width="1" stroke-linecap="butt" opacity="0.9" fill="none"/><path d="M236.4 653.8v1.6M223.2 657.6v2.4M228.2 672.6v1.6M251.8 660.2v2.4M255.2 658.1v1M245.8 660.1v1.8M255.5 657.7v1.8M247 674.1v2.4M238.5 650.3v2M235.2 678.5v1M236 675.8v1.3M226.5 653.2v1.9M232.1 657.1v1.5M235 665.8v1.3" stroke="#6c7a3a" stroke-width="1" stroke-linecap="butt" opacity="0.9" fill="none"/><path d="M252.9 672.4v1.5M250.2 673.7v1.5M238.8 653.2v2.4M227.9 659.4v2.3M251.7 653.6v1.2M236.2 665v2.3M226.5 652.9v2.4" stroke="#4f5e2c" stroke-width="1.5" stroke-linecap="butt" opacity="0.9" fill="none"/><path d="M238.9 648.2v2.4M237.6 675.3v1.9M246.9 651.1v2.5M252.8 659.4v1.3M237.5 672.2v1.5M243 659.6v1.2M241.1 646.9v2.4M242.2 669.6v1M246.7 667.9v1.3M232.4 668.9v1M231.4 662.5v2.4M232.9 667.8v1.1M237.7 676.1v1.9" stroke="#cccca4" stroke-width="1.5" stroke-linecap="butt" opacity="0.9" fill="none"/><path d="M235.5 662.7v1.2M245.8 670.8v1.5M241.7 674.3v2.4M232.2 659.7v2.4M226.6 665.1v1.5M249.8 670.3v1.5M226.5 669.8v1.6M230.9 676.6v2M235.3 650.4v1M228.2 659.1v2.1M248.4 655.9v1.3M227.8 658.9v1.7" stroke="#7a853e" stroke-width="1.5" stroke-linecap="butt" opacity="0.9" fill="none"/><path d="M235 649.3v1.9M247.9 674.5v1.9M237.8 665.9v1.3M253.9 665.6v2.1M232 659.5v1.6M234.2 663.2v1.1M234 650.9v1.8" stroke="#dcdcc4" stroke-width="1.5" stroke-linecap="butt" opacity="0.9" fill="none"/><path d="M238.3 649.2v2.3M241.6 671.7v1.6M235.3 669.6v1M237.3 654.5v1.2M229.1 661.6v2.3M232.1 650.1v1.6M242.8 678.1v1.1M228.4 661.2v2.2M231.8 671.1v1.8" stroke="#5e6c33" stroke-width="1" stroke-linecap="butt" opacity="0.9" fill="none"/><path d="M236.5 665.6v2.2M245.4 659v2.3M254.2 662.7v1.2M256.5 657.9v1.9M239 662.3v1.6M246.5 666.1v2.1" stroke="#cccca4" stroke-width="1" stroke-linecap="butt" opacity="0.9" fill="none"/><path d="M234 657.5v2.1M251.6 657.6v1.5M241.8 656.9v2.3M224.7 666.3v1.7M240.9 650.4v2M226.3 661.8v1.7M248.1 649.1v1.3M244.6 648.4v1.4" stroke="#4f5e2c" stroke-width="1" stroke-linecap="butt" opacity="0.9" fill="none"/><path d="M237.2 652.9v1.3M228.8 672.9v1.9M247 671.8v1.9" stroke="#b4b67a" stroke-width="1" stroke-linecap="butt" opacity="0.9" fill="none"/><path d="M234.8 671.9v2.5M242.5 673.9v1.6M226.7 654.6v2.1" stroke="#b4b67a" stroke-width="1.5" stroke-linecap="butt" opacity="0.9" fill="none"/><path d="M306.7,695 Q306.7,682.5 306.7,670" stroke="#9a7b60" stroke-width="1.2" fill="none"/><polygon points="317.6,663.4 318.3,666.6 317.9,670.1 316.1,672.9 312.9,673.9 310,673.8 307.5,677.7 304,677.9 301.3,675.4 300.8,670.9 299,668.9 295.5,667 294.3,663.4 296.1,660 299.1,658 299.4,654.3 301.5,651.9 304.2,649.7 307.5,651.4 310,653.1 313,652.8 316.9,653 318.7,656.2 318.6,660.1" fill="#7a8444" opacity="0.6"/><path d="M305.1 675v1.6M303.9 675.1v2M306.1 654.5v2.7M300.4 655.4v2.4M302.1 656v2" stroke="#dcdcc4" stroke-width="1.8" stroke-linecap="butt" opacity="0.9" fill="none"/><path d="M305.8 678.7v1.9M309.5 672.6v2.5M306.1 673v3M305.6 674.7v2.5M307.3 655.6v2.4M311.8 653.5v2.4M304.6 673.3v2.4M305.4 668.6v2.3M300.1 654.5v2.6M301.3 652.3v2.9M297.8 653.6v1.7M302.5 650.9v2.2M307.9 656.4v1.5M308.3 656.4v2.3M299.8 658.1v2.1M315.9 663.6v2M317.4 664.9v2.4M317.7 666.5v2.5M316.2 670.2v1.6" stroke="#7a853e" stroke-width="1.8" stroke-linecap="butt" opacity="0.9" fill="none"/><path d="M308.9 670.7v2.5M307.8 679.1v2.3M307.7 654.1v2.9M309.8 658.8v2.1M307.2 672.6v2.3M299.1 656.8v3M309.6 661.1v2.8M304.6 658.6v2.5M308.8 659.9v2.5M300.5 659.3v1.6M299.2 659.4v2.5M303.2 660.9v1.7M302.7 661v2.8M300.3 655.8v2.8M312.7 669.1v2.5M314.2 667.8v2.3" stroke="#6c7a3a" stroke-width="1.2" stroke-linecap="butt" opacity="0.9" fill="none"/><path d="M306.8 677.2v2.7M310 673.9v1.9M308.6 667.6v2.9M301.1 653.7v2.9M309.9 659.5v1.6M309.1 661.9v2.8M307.4 660.4v2M301.1 659.2v1.8M316.3 672.6v2.4" stroke="#8d9450" stroke-width="1.8" stroke-linecap="butt" opacity="0.9" fill="none"/><path d="M308.5 674.7v2.2M308.8 657v2.2M307.7 659v2M302.3 670.5v2.7M303.7 655.6v2.4M298.6 656.6v2.5M303.4 651.2v3M303.9 659.2v2.9M308.3 657v2.5M297.7 656.5v1.7M315.2 671.3v2" stroke="#5e6c33" stroke-width="1.2" stroke-linecap="butt" opacity="0.9" fill="none"/><path d="M311.7 676.5v2.8M306.1 678v1.9M299.2 650.2v2.1M303.2 655.2v1.6M304.6 658.9v1.6M316.3 667v1.8" stroke="#5e6c33" stroke-width="1.8" stroke-linecap="butt" opacity="0.9" fill="none"/><path d="M310.7 678.2v2.7M312.8 657.7v2.6M304.7 667.1v2.3M307.5 673.4v2.9M302.9 667.4v1.5M302.5 670.7v2.9M300.7 656.8v2.6M302.9 653.3v2.7M298 662.6v1.8M301.5 659.4v2.6M317 667.6v2.8M319.6 672v2.9M313.9 669.6v1.6M318.1 665.9v1.9M315.4 664.4v2.7M319.4 671.7v2.7" stroke="#6c7a3a" stroke-width="1.8" stroke-linecap="butt" opacity="0.9" fill="none"/><path d="M306 673v1.8M300.2 661v2.7M317.5 664.4v2.5" stroke="#dcdcc4" stroke-width="1.2" stroke-linecap="butt" opacity="0.9" fill="none"/><path d="M308 671.6v1.6M306.6 674.9v2.9M304.7 675v2M300.9 658.7v1.7M302.4 657.8v2.9M306.6 659.8v2.6M317.8 669.3v2.7M319.2 666.1v2.8" stroke="#999c58" stroke-width="1.8" stroke-linecap="butt" opacity="0.9" fill="none"/><path d="M306.4 679.1v1.8M303.3 675.1v2.5M312.8 661.2v3M313 655.9v2.4M309.7 671.4v2M304.2 674.2v1.5M300.9 653.1v2.6M305.1 655v2M300.9 658.3v2.6M302.9 658.6v1.9M303.5 660.2v2.5M301.1 657.1v2.9" stroke="#8d9450" stroke-width="1.2" stroke-linecap="butt" opacity="0.9" fill="none"/><path d="M308.6 673.4v1.7M311.9 656.9v2.3M309.8 670.8v2.5M315.2 666.9v1.7" stroke="#b4b67a" stroke-width="1.2" stroke-linecap="butt" opacity="0.9" fill="none"/><path d="M308.7 675.5v1.7M310.3 657.3v2.4M304.3 674.3v2M306.2 669.9v2.8M304.6 656.3v1.7M306.5 656.2v2.3M296.4 659.6v2.8M318.2 665.1v2.7M318.5 672.5v2.9" stroke="#7a853e" stroke-width="1.2" stroke-linecap="butt" opacity="0.9" fill="none"/><path d="M311.2 657.1v2.5M308.1 654.7v1.5M308.2 659.8v1.9M301.2 670.3v2.5M308.2 667.4v2.3M308.5 671.7v2.7M304.9 668.7v1.9M303.2 673.1v1.6M304.3 658.7v1.8M297.7 659.2v1.6M299.1 658.9v2.8" stroke="#4f5e2c" stroke-width="1.8" stroke-linecap="butt" opacity="0.9" fill="none"/><path d="M314.3 660.5v2.5M313.1 658.1v2.2M313.3 655.5v2.9M311 661.2v1.8M302.7 669.4v2.1M304.4 655.1v2.4M300.4 656.8v2.3" stroke="#999c58" stroke-width="1.2" stroke-linecap="butt" opacity="0.9" fill="none"/><path d="M310.3 657.5v2.3M307.4 658.6v2.9M308.5 661.1v2.6M304.6 660.2v1.7M299.2 660v2.9" stroke="#cccca4" stroke-width="1.2" stroke-linecap="butt" opacity="0.9" fill="none"/><path d="M310.9 656.4v1.9M302.5 672.3v2.9M305.6 671.3v1.5M304.6 658.7v1.6M311.6 659v1.7M304.3 659.1v2.7M301.8 660.7v2.4M320.5 666.6v2" stroke="#4f5e2c" stroke-width="1.2" stroke-linecap="butt" opacity="0.9" fill="none"/><path d="M310.9 656.5v2.1M313.7 654v2.7M299.1 658.1v1.7" stroke="#b4b67a" stroke-width="1.8" stroke-linecap="butt" opacity="0.9" fill="none"/><path d="M301.5 653.3v1.6M306.5 656.2v2.6" stroke="#cccca4" stroke-width="1.8" stroke-linecap="butt" opacity="0.9" fill="none"/><path d="M315.9 662.5v1.6M313.6 673.8v1.5M305 670.5v2M309.9 671.8v1.7M312.9 674.8v1.3M306.3 650.8v1.4" stroke="#6c7a3a" stroke-width="1" stroke-linecap="butt" opacity="0.9" fill="none"/><path d="M315.2 653.6v2.1M306.2 677.7v1.2M315.4 657.5v2.4M303.4 671.2v2M298.4 668.8v1.6M309.2 677.2v2.3M306.9 668.1v1.2M305.7 667.2v1.7M313.3 666.1v2.5M312.7 649.2v1" stroke="#4f5e2c" stroke-width="1.5" stroke-linecap="butt" opacity="0.9" fill="none"/><path d="M309.4 662v2M312.2 678v1.3M312 666.3v2M318.1 663.9v1.8M318.4 672.4v2.1M313.6 664.1v1.4M308.6 659v2M305.6 659.2v1M305.3 677.2v1.2" stroke="#8d9450" stroke-width="1.5" stroke-linecap="butt" opacity="0.9" fill="none"/><path d="M316.7 651.7v1.2M305.2 649.6v2M302.9 670.1v1.8M299.1 654.2v2M300.4 675v2M311.3 655.6v2.2" stroke="#5e6c33" stroke-width="1.5" stroke-linecap="butt" opacity="0.9" fill="none"/><path d="M295 658.4v2.5M298 655.2v2.3M313.2 658.8v2" stroke="#cccca4" stroke-width="1.5" stroke-linecap="butt" opacity="0.9" fill="none"/><path d="M298.2 663.3v1.3M299.4 657v1.2M302.4 671.7v2.1M309 675.3v1.3M303.4 656.2v1.3M308.7 657.7v1.5M307.8 660.4v1.4M296.9 664.5v1.5M306.5 677v1.1" stroke="#6c7a3a" stroke-width="1.5" stroke-linecap="butt" opacity="0.9" fill="none"/><path d="M313.7 654.9v2.2M311.6 653.9v1.9M315.2 673.7v2.3M318.5 670.1v1.8M316.6 654.4v1M298.7 652.1v2M318.3 670.6v2.1" stroke="#cccca4" stroke-width="1" stroke-linecap="butt" opacity="0.9" fill="none"/><path d="M301.4 652.8v2.1M294.7 658.8v1.1M295.7 660.3v1.1M315.5 661.9v1.3" stroke="#dcdcc4" stroke-width="1.5" stroke-linecap="butt" opacity="0.9" fill="none"/><path d="M310.2 652.1v1.6M303.5 650.3v1.4M306.9 671.8v2.2M307.1 666.1v1.8M296.3 658.7v1.5M305.1 666.6v1.9M305.8 673.2v1.2M312.8 676.9v1.4M311.1 658v1.6" stroke="#b4b67a" stroke-width="1" stroke-linecap="butt" opacity="0.9" fill="none"/><path d="M303.7 673.9v1.5M314.5 669.8v1.8M310.2 660.5v2.2M301.7 668.4v2.4M316.9 662.4v2.3M320.4 663.7v1.9M317.2 655.4v1" stroke="#7a853e" stroke-width="1" stroke-linecap="butt" opacity="0.9" fill="none"/><path d="M313.5 669.2v1.9M320.3 668.5v2.2M311.3 668.9v1.4M308.3 656.4v1.5M304.4 667.4v1.8M313.6 675.1v1.5M305.9 660.5v1.3M313.8 664v1.5" stroke="#4f5e2c" stroke-width="1" stroke-linecap="butt" opacity="0.9" fill="none"/><path d="M313.1 667.3v2.5M305.7 651.7v1.8M304.4 670.6v1.2M317.1 652.8v2.4M303 676v1M310.7 669.9v2.4M310 651.1v1.7M298.2 674.3v1.2M310.1 677.7v2.4M308 675.6v2.4M300.6 657.6v1.1M302 676.5v2.3" stroke="#7a853e" stroke-width="1.5" stroke-linecap="butt" opacity="0.9" fill="none"/><path d="M311.7 677.2v1.2M309.8 678.3v1.8M303.9 669.1v2.1M307.9 665.5v1.3M313.1 652.9v1.6M304.9 658.7v1.3M299.2 653.1v1.5" stroke="#999c58" stroke-width="1.5" stroke-linecap="butt" opacity="0.9" fill="none"/><path d="M299.7 666.3v2.4M301.6 660.3v2.4M306.7 660.7v1.9M315 672.2v2M306 657v1M301.4 652.7v1.2M298.6 656.7v1.7M319.6 669.3v1.6" stroke="#5e6c33" stroke-width="1" stroke-linecap="butt" opacity="0.9" fill="none"/><path d="M318.2 665v1.8M299.4 673.8v1.8M301.1 664.8v1.9M299.8 675.5v1.3M302.3 650.6v1.4" stroke="#8d9450" stroke-width="1" stroke-linecap="butt" opacity="0.9" fill="none"/><path d="M312.2 669.3v2.2M301.3 668.8v1.2M306.8 666.3v1.5M304 653.9v2.5M302.9 670v1.9M315.4 656v2.2M310.5 655.7v1.9M313 656.7v2.3" stroke="#999c58" stroke-width="1" stroke-linecap="butt" opacity="0.9" fill="none"/><path d="M311.1 656.7v1.2M316.9 652v1.4M308.4 671.7v1M300.1 675.1v1.5M304 660.4v1.7M309.7 665.8v1.8" stroke="#dcdcc4" stroke-width="1" stroke-linecap="butt" opacity="0.9" fill="none"/><path d="M252,696.3Q251.7,688.6 251,685M252,696.3Q253.1,688.6 255.7,684.6M252,696.3Q251.2,688.6 249.2,686.7M252,696.3Q251.3,688.6 249.8,684.3M252,696.3Q252.5,688.6 253.6,687.8" stroke="#a9bab2" stroke-width="0.6" fill="none" opacity="0.6"/><path d="M255,698.5Q255.6,692.1 256.8,688.9M255,698.5Q255.9,692.1 257.9,688.5M255,698.5Q255.9,692.1 258,689.7M255,698.5Q255.4,692.1 256.4,689.4M255,698.5Q254.2,692.1 252.4,690.9" stroke="#a9bab2" stroke-width="0.6" fill="none" opacity="0.6"/><path d="M258,700.8Q257.6,693.3 256.7,691.9M258,700.8Q257.6,693.3 256.7,689.3M258,700.8Q257.7,693.3 256.9,693.1M258,700.8Q258.2,693.3 258.8,690M258,700.8Q258.6,693.3 260,690.3" stroke="#a9bab2" stroke-width="0.6" fill="none" opacity="0.6"/><path d="M261,703Q260.1,699.1 257.9,697.8M261,703Q262.2,699.1 264.9,696.7M261,703Q261.2,699.1 261.6,698.5M261,703Q261.6,699.1 263.1,697.3M261,703Q259.8,699.1 257.1,699" stroke="#a9bab2" stroke-width="0.6" fill="none" opacity="0.6"/><path d="M264,705.3Q265,698.1 267.2,694.5M264,705.3Q263.5,698.1 262.4,697.5M264,705.3Q263.2,698.1 261.3,696M264,705.3Q265.1,698.1 267.6,696.4M264,705.3Q264.3,698.1 265,697.6" stroke="#a9bab2" stroke-width="0.6" fill="none" opacity="0.6"/><path d="M267,706Q266.9,701.8 266.7,700.6M267,706Q266.5,701.8 265.4,699.9M267,706Q266.3,701.8 264.7,701.1M267,706Q266.7,701.8 266,699.8M267,706Q266.7,701.8 266,701.3" stroke="#a9bab2" stroke-width="0.6" fill="none" opacity="0.6"/><path d="M270,706Q270.2,697.6 270.6,695.7M270,706Q269.7,697.6 268.8,697.6M270,706Q270.2,697.6 270.7,697.3M270,706Q270.7,697.6 272.3,693.9M270,706Q269.6,697.6 268.6,693.6" stroke="#a9bab2" stroke-width="0.6" fill="none" opacity="0.6"/><path d="M273,706Q272.9,701 272.8,698.7M273,706Q272.2,701 270.4,699.5M273,706Q273.2,701 273.5,698.4M273,706Q274.2,701 276.9,699.9M273,706Q273.5,701 274.6,700.7" stroke="#a9bab2" stroke-width="0.6" fill="none" opacity="0.6"/><path d="M276,705.6Q275.9,699.8 275.6,698.4M276,705.6Q276,699.8 276.1,698.6M276,705.6Q275.2,699.8 273.3,697.4M276,705.6Q275.8,699.8 275.3,696.5M276,705.6Q277,699.8 279.4,696.4" stroke="#a9bab2" stroke-width="0.6" fill="none" opacity="0.6"/><path d="M279,703Q278.7,698.3 277.9,697.4M279,703Q278.6,698.3 277.6,697.5M279,703Q278.4,698.3 276.9,698.1M279,703Q280.2,698.3 282.9,696M279,703Q278.4,698.3 277,695.7" stroke="#a9bab2" stroke-width="0.6" fill="none" opacity="0.6"/><path d="M282,700.5Q282.2,694.7 282.5,692.2M282,700.5Q282.7,694.7 284.5,694.3M282,700.5Q282.7,694.7 284.2,693.2M282,700.5Q280.9,694.7 278.3,693M282,700.5Q282.5,694.7 283.8,693.4" stroke="#a9bab2" stroke-width="0.6" fill="none" opacity="0.6"/><path d="M285,697.9Q284,691 281.7,687.7M285,697.9Q285.3,691 286.1,690.9M285,697.9Q284.3,691 282.5,690.6M285,697.9Q285.8,691 287.8,688.3M285,697.9Q285.5,691 286.6,690.6" stroke="#a9bab2" stroke-width="0.6" fill="none" opacity="0.6"/><path d="M288,695.4Q289,691.1 291.2,691M288,695.4Q287.2,691.1 285.4,689.3M288,695.4Q288,691.1 288,689.5M288,695.4Q288.3,691.1 289.1,688.7M288,695.4Q287.7,691.1 287,689.4" stroke="#a9bab2" stroke-width="0.6" fill="none" opacity="0.6"/><path d="M291,693.8Q291.9,689.5 294.2,687.1M291,693.8Q290,689.5 287.5,688.8M291,693.8Q290,689.5 287.8,688M291,693.8Q290.1,689.5 287.9,687.9M291,693.8Q290.7,689.5 290,689.2" stroke="#a9bab2" stroke-width="0.6" fill="none" opacity="0.6"/><path d="M294,693.9Q293.3,690.3 291.5,688.9M294,693.9Q293.1,690.3 290.9,689.4M294,693.9Q293.6,690.3 292.8,689.1M294,693.9Q295.1,690.3 297.8,688.1M294,693.9Q294.3,690.3 294.9,687.9" stroke="#a9bab2" stroke-width="0.6" fill="none" opacity="0.6"/><path d="M297,694.1Q297.3,690 298.1,687.8M297,694.1Q295.8,690 293.1,687.5M297,694.1Q297.4,690 298.4,687.5M297,694.1Q296.4,690 294.9,689.6M297,694.1Q297.4,690 298.4,689.6" stroke="#a9bab2" stroke-width="0.6" fill="none" opacity="0.6"/><path d="M280,702.2Q279.6,690.3 278.5,689.1M280,702.2Q279.3,690.3 277.6,683.3M280,702.2Q279.2,690.3 277.2,689.6M280,702.2Q279.8,690.3 279.2,688.6M280,702.2Q280.1,690.3 280.2,684.5M280,702.2Q281,690.3 283.5,685" stroke="#b4c2bc" stroke-width="0.5" fill="none" opacity="0.55"/><path d="M283,699.6Q282.4,689.4 281.1,686.4M283,699.6Q282.5,689.4 281.3,685.6M283,699.6Q282.9,689.4 282.5,683.4M283,699.6Q283.7,689.4 285.2,685.2M283,699.6Q284.1,689.4 286.6,683.3M283,699.6Q282.5,689.4 281.2,683.5" stroke="#b4c2bc" stroke-width="0.5" fill="none" opacity="0.55"/><path d="M286,697.1Q286.7,683.3 288.2,674.9M286,697.1Q284.9,683.3 282.4,674.6M286,697.1Q286.4,683.3 287.2,681.5M286,697.1Q286.6,683.3 288,675.1M286,697.1Q286.2,683.3 286.7,674.5M286,697.1Q286.4,683.3 287.4,677.9" stroke="#b4c2bc" stroke-width="0.5" fill="none" opacity="0.55"/><path d="M289,694.5Q290.1,681.1 292.7,673.7M289,694.5Q289.1,681.1 289.4,674.9M289,694.5Q288.4,681.1 287,679.4M289,694.5Q288.1,681.1 285.9,677.8M289,694.5Q289.7,681.1 291.2,675.2M289,694.5Q289.7,681.1 291.4,678.6" stroke="#b4c2bc" stroke-width="0.5" fill="none" opacity="0.55"/><path d="M292,693.8Q292.9,683.5 295,682.7M292,693.8Q293,683.5 295.2,677.9M292,693.8Q291.6,683.5 290.6,677.9M292,693.8Q293.1,683.5 295.5,679.5M292,693.8Q292.7,683.5 294.2,682.6M292,693.8Q293.1,683.5 295.6,683.2" stroke="#b4c2bc" stroke-width="0.5" fill="none" opacity="0.55"/><path d="M295,694Q295.6,681.8 297,675.8M295,694Q294.4,681.8 292.9,676.8M295,694Q294.3,681.8 292.6,679.6M295,694Q295.6,681.8 297,675.1M295,694Q294.3,681.8 292.7,675.2M295,694Q295.2,681.8 295.6,677.9" stroke="#b4c2bc" stroke-width="0.5" fill="none" opacity="0.55"/><path d="M298,694.2Q298.3,683.5 299.1,679.3M298,694.2Q297.1,683.5 295.1,676.9M298,694.2Q298.9,683.5 300.9,678.9M298,694.2Q298.2,683.5 298.6,677.5M298,694.2Q298.2,683.5 298.7,678.6M298,694.2Q297.8,683.5 297.2,682.5" stroke="#b4c2bc" stroke-width="0.5" fill="none" opacity="0.55"/><path d="M301,694.4Q302.1,680.4 304.6,673.6M301,694.4Q301.5,680.4 302.8,679.5M301,694.4Q301.7,680.4 303.2,672.8M301,694.4Q300.6,680.4 299.6,677.2M301,694.4Q299.9,680.4 297.4,675.7M301,694.4Q302,680.4 304.4,672.6" stroke="#b4c2bc" stroke-width="0.5" fill="none" opacity="0.55"/><path d="M304,694.5Q305,683.2 307.4,678.8M304,694.5Q303.2,683.2 301.3,680.3M304,694.5Q304.8,683.2 306.6,678.6M304,694.5Q303.2,683.2 301.4,681.7M304,694.5Q304.4,683.2 305.4,679.3M304,694.5Q303.4,683.2 301.9,681.6" stroke="#b4c2bc" stroke-width="0.5" fill="none" opacity="0.55"/><path d="M307,694.7Q307.9,685.6 309.9,680.8M307,694.7Q307.7,685.6 309.5,681.1M307,694.7Q306,685.6 303.6,685.1M307,694.7Q307.5,685.6 308.7,681.7M307,694.7Q307.8,685.6 309.6,680.8M307,694.7Q306.8,685.6 306.4,681.8" stroke="#b4c2bc" stroke-width="0.5" fill="none" opacity="0.55"/><path d="M310,694.9Q308.9,680.8 306.4,674.9M310,694.9Q310.1,680.8 310.2,676.1M310,694.9Q310.4,680.8 311.2,676.9M310,694.9Q309.1,680.8 307.1,673.8M310,694.9Q311.1,680.8 313.5,676.2M310,694.9Q310.9,680.8 312.9,672.8" stroke="#b4c2bc" stroke-width="0.5" fill="none" opacity="0.55"/><path d="M302.7,693Q303.2,687.7 303.8,685.5M302.9,693Q302.6,688.7 301.5,687M303.2,693Q302.1,689.6 300,689.3M302.7,693Q302,688.6 299.7,687.6M303.8,693Q302.7,689 302,687.4M302,693Q301.9,689.6 299.3,689.9M302.8,693Q301.8,688.3 298.9,687.8M302.7,693Q304.1,689.4 306.7,689.5M302.7,693Q304.4,688.6 307.6,688.9M303.7,693Q303.3,687.5 304.1,685.2M303.9,693Q302.7,687.8 301.9,685.6M303.8,693Q302.5,689 301.3,687.6M302.6,693Q302.8,689.7 302.2,688.4M303.1,693Q303.6,689.4 305.1,688.3M303.3,693Q301.8,688.8 298.9,688.6M302.5,693Q301.6,688.4 298.3,688.5M302,693Q302.8,688.2 302.2,686.2M304,693Q302.8,688.5 302.3,686.6" stroke="#62705f" stroke-width="0.9" fill="none" opacity="0.85"/><path d="M305.2,693Q305.6,689 308.3,688.7M304.1,693Q304.5,690.4 304.6,689.3M304.4,693Q303.8,690.5 302,690.5M305,693Q305.1,689.3 306.6,688.2M303.6,693Q303.9,690.4 302.5,689.9M305,693Q304.5,690.1 304.5,688.9M304,693Q305.1,690 306.5,689.3M305.3,693Q304.5,689 304.5,687.3M304.8,693Q305.2,689.3 306.8,688.3M303.5,693Q303.3,689.3 300.4,689.8" stroke="#55664f" stroke-width="0.9" fill="none" opacity="0.85"/><path d="M312,693.5Q310.8,688.7 307.9,687.9M311.7,693.5Q311.4,687.9 310,685.8M312.5,693.5Q313.1,688.9 315.7,688.1M311.3,693.5Q312.7,688.6 314.3,686.9M311.3,693.5Q310.5,687.4 307.1,686.3M311,693.5Q311.9,686.9 311.8,684M312.2,693.5Q309.8,686.8 304.6,687.4M312.1,693.5Q310.4,687.3 306.8,686.4M312.2,693.5Q310.7,687.4 307.8,685.8M312.2,693.5Q312.5,688.8 313.6,686.9M312.7,693.5Q312.3,686.6 313,683.6M311.9,693.5Q312.1,687.9 312.5,685.6M312.4,693.5Q311.1,689.6 309.2,688.7M311.8,693.5Q310.6,688.6 307.2,688.4M311.3,693.5Q310.1,686.9 305.7,686.5M311.8,693.5Q309.9,686.7 305.1,686.6M312.9,693.5Q311.2,689.4 309.4,688.3M312.4,693.5Q313.5,689.3 316.9,690" stroke="#9aaba2" stroke-width="0.9" fill="none" opacity="0.85"/><path d="M313.4,693.5Q313.7,688.3 314.2,686.1M314.3,693.5Q313.6,689.8 313.7,688.2M314.4,693.5Q312.8,690.4 311,689.8M312.8,693.5Q314.7,689.8 317.5,690.2M313.4,693.5Q313.2,690.1 312.5,688.7M313.6,693.5Q314,689.6 315.1,688.1M313.3,693.5Q313,689 311.9,687.2M313.5,693.5Q312.8,689.6 311.2,688.4M313.2,693.5Q314.2,688.3 315.8,686.3M314,693.5Q313.6,690.2 314,688.8" stroke="#a3b5aa" stroke-width="0.9" fill="none" opacity="0.85"/><path d="M318.5,690.9Q321.4,683.7 327.1,684.5M320,690.9Q318.5,684.9 317.5,682.5M318.6,690.9Q317.3,682.5 313.2,680.4M318.1,690.9Q317.9,683.2 315.2,680.6M319.9,690.9Q319.7,683.2 321.3,680.1M319.8,690.9Q316.5,683.6 310.7,684.5M318.7,690.9Q321.5,683.6 327.5,684.7M318.6,690.9Q317.8,685.6 315,684.5M318.1,690.9Q319,683.9 318.9,680.9M319.9,690.9Q320.4,682.7 323.7,680.2M318.1,690.9Q317.9,686 315.2,685M319.6,690.9Q318.6,684.6 317.6,681.9M319.1,690.9Q319.4,682.6 320.3,679.2M319.7,690.9Q316.8,683.7 311.5,683.7M318.9,690.9Q318,685.6 315.8,684M319.3,690.9Q317.3,682.9 313.4,680.9M320,690.9Q318.1,684.2 316.2,681.8M318,690.9Q317.9,683 315.4,680.3" stroke="#75857a" stroke-width="0.9" fill="none" opacity="0.85"/><path d="M321.1,690.9Q321.6,685.6 324.1,684.3M321.4,690.9Q320,685 318.8,682.7M321.2,690.9Q321.4,687.1 323.6,686.4M321.1,690.9Q319.8,687.2 318.3,686.1M319.5,690.9Q321.7,687 324.4,686.9M320.6,690.9Q321.3,686.1 323.3,684.6M319.5,690.9Q319.1,687 315.9,687.7M319.7,690.9Q320.7,684.8 321.1,682.2M319.7,690.9Q320.7,686 321,683.9M320.3,690.9Q319.7,685.9 318,684.2" stroke="#a3b5aa" stroke-width="0.9" fill="none" opacity="0.85"/><path d="M326.6,688Q326.3,682.5 324.7,680.5M326.4,688Q325.9,682.8 323.3,681.6M326.5,688Q327.1,682.4 327.3,680M326.2,688Q325.4,683.3 321.6,684.1M326.2,688Q327.5,684.3 328.8,683.1M327.3,688Q328.1,681.8 330.8,680M326.6,688Q325.6,683.6 322.4,683.8M327.7,688Q327.7,683.5 329.3,682M326.7,688Q327.2,684.3 327.7,682.8M326.1,688Q325.5,682.2 322.2,681.4M327.8,688Q327.7,683.8 329.2,682.4M327.3,688Q326,684.4 323.6,684.1M327.6,688Q326,684.1 323.7,683.6M327.7,688Q328.6,682.2 332.2,681.6M327.8,688Q327.9,683.4 329.9,682.2M327.8,688Q325.7,682 322.8,680.6M327.9,688Q328.4,683.4 331.7,683.5M326.4,688Q327.2,683.5 327.6,681.6" stroke="#9aaba2" stroke-width="0.9" fill="none" opacity="0.85"/><path d="M327.8,688Q329.5,684 331.9,683.4M328.9,688Q326.9,683.3 323.1,684.1M329,688Q327.3,683.7 324.4,683.4M329.3,688Q327.5,685 325.2,685.4M328,688Q329.1,683.4 330.5,681.8M328.9,688Q327.4,683.8 325,683.2M328.2,688Q328.2,684.5 327.4,683.2M327.6,688Q329.1,683.4 330.6,681.7M328,688Q329,683.3 330.1,681.4M329,688Q327.6,685 325.5,684.9" stroke="#a3b5aa" stroke-width="0.9" fill="none" opacity="0.85"/><path d="M334.4,685.4Q332.3,680.4 328.3,681.2M334.6,685.4Q332.8,678.8 330.2,676.8M334.7,685.4Q335.7,680.4 339.7,681.3M333.5,685.4Q332.7,679.2 329.7,677.6M333.1,685.4Q332.4,679.7 328.5,679.5M333.7,685.4Q334.6,678.4 336.1,675.6M333.9,685.4Q334.6,681 336.1,679.4M333.7,685.4Q335.7,679.1 339.6,678.4M334.7,685.4Q332.8,678.8 330.1,676.9M333.7,685.4Q333.4,677.8 331.9,674.8M334.4,685.4Q332.3,680.4 328.2,681.2M333.6,685.4Q334.5,678.6 335.8,675.9M334.7,685.4Q335.9,679 340.5,678.9M333.1,685.4Q334.9,680.6 337.1,679.3M334.4,685.4Q334,680.2 334.1,678M334.7,685.4Q334.6,677.9 336.1,674.9M333.4,685.4Q335.5,679 339.2,677.9M333.4,685.4Q331.6,678.2 325.9,679.1" stroke="#9aaba2" stroke-width="0.9" fill="none" opacity="0.85"/><path d="M335.8,685.4Q336.4,681.9 338.6,681.5M335.4,685.4Q334,679.8 330.6,679.2M335.8,685.4Q335.7,681.9 336.2,680.5M335.8,685.4Q334.1,679.9 330.7,679.1M335.4,685.4Q337.4,679.7 341.9,680.4M336,685.4Q336.3,680.1 338.2,678.3M336.4,685.4Q336.3,680.6 338.1,679M334.9,685.4Q335.3,679.7 334.8,677.2M336,685.4Q333.7,679.7 329.5,679.9M335.4,685.4Q336.4,681.9 338.6,681.6" stroke="#b9c8c0" stroke-width="0.9" fill="none" opacity="0.85"/><path d="M341.2,682.4Q341.2,677.1 339.2,675.3M342.6,682.4Q343.1,676.5 345.6,674.8M342,682.4Q342.8,676.2 344.7,674M341.5,682.4Q342.4,676.2 343.2,673.6M341.5,682.4Q343.6,677.6 347.2,678M342.6,682.4Q342.9,675.1 345.2,672.5M342.8,682.4Q340.3,675.7 336.3,674.6M342,682.4Q340.6,677 337.3,676.2M342.2,682.4Q342.5,675 343.7,672M341.3,682.4Q340.3,676.6 336.4,676.3M341.1,682.4Q340.4,676.9 336.7,676.6M341.5,682.4Q340.4,675.5 336.7,674M342.8,682.4Q340.9,677.4 338.4,676.2M342.1,682.4Q344.1,674.1 348.8,672.7M341.6,682.4Q340.4,677.6 336.6,678.1M341,682.4Q340.3,677 336.5,677M342,682.4Q340.2,675.8 336.1,675.1M341.7,682.4Q339.8,675.1 334.7,674.8" stroke="#8a9a88" stroke-width="0.9" fill="none" opacity="0.85"/><path d="M343.6,682.4Q344.6,678.3 347.1,677.8M344.4,682.4Q342.9,678.4 341.6,677.1M344.4,682.4Q343.2,676.6 342.5,674.2M343.8,682.4Q342.9,678.8 341.4,677.7M342.6,682.4Q343.6,677.8 343.8,675.8M343.5,682.4Q342.8,678.9 341,678.1M342.9,682.4Q344.8,678.7 347.9,679.3M344.5,682.4Q342.1,677.3 338.8,676.8M344.5,682.4Q344.5,678.9 346.9,678.7M343,682.4Q344.5,677.5 346.8,676.1" stroke="#b9c8c0" stroke-width="0.9" fill="none" opacity="0.85"/><path d="M349.4,679.4Q350.8,675.3 352.6,674.2M349.4,679.4Q351.2,674.2 354.2,673.3M349.1,679.4Q351.2,675.4 354.2,675.5M349.1,679.4Q348.7,674.9 345.7,674.5M349.6,679.4Q350,675.8 349.9,674.2M350.3,679.4Q348.9,675.8 346.3,675.8M350.8,679.4Q351.2,674.8 353.9,674.1M349.1,679.4Q350,675.6 349.9,673.9M349.6,679.4Q348.1,674 343.8,674.8M350.8,679.4Q350.7,673.9 352.3,671.9M351,679.4Q351.7,673.2 355.7,672.6M349.6,679.4Q349.7,675.7 349.1,674.2M349.7,679.4Q348.5,674.3 345,674M350.6,679.4Q351.7,673.7 355.6,673.3M350,679.4Q350.2,675.2 350.6,673.5M349.7,679.4Q349.4,675.3 348.1,673.9M350.2,679.4Q348.7,673.9 345.7,672.9M350.3,679.4Q348,673.3 343.2,673.8" stroke="#62705f" stroke-width="0.9" fill="none" opacity="0.85"/><path d="M352,679.4Q350,675.1 346.6,675.8M352,679.4Q351.2,676.1 350.6,674.7M351.5,679.4Q352.6,675.6 355,675.3M350.9,679.4Q351,676.2 349.8,675.1M350.5,679.4Q350.6,675.4 348.3,674.6M351.5,679.4Q352.1,675.2 353.6,673.7M351.9,679.4Q352.9,675.2 356.2,675.5M352.2,679.4Q351.5,676.4 351.4,675.1M350.7,679.4Q350.9,675.1 349.6,673.5M351,679.4Q352.4,676.8 354.4,677.1" stroke="#b9c8c0" stroke-width="0.9" fill="none" opacity="0.85"/><path d="M356.2,677.2Q357,671.4 359.2,669.6M355.8,677.2Q354.4,670.5 350.5,669.3M355.2,677.2Q357.6,669.1 361.4,667M356.5,677.2Q355.4,672 354,670.1M355.1,677.2Q354.8,672.4 352,671.7M355.5,677.2Q358.1,670.8 363,671.3M356.5,677.2Q355.2,671.7 353.5,669.8M356.7,677.2Q354,670.8 349.3,671M355.8,677.2Q355.7,671.4 354.9,668.9M356.3,677.2Q356.4,672.5 357.5,670.6M355.4,677.2Q354.7,671.9 351.8,670.9M355.6,677.2Q355.3,669.2 353.6,666.1M356.8,677.2Q354.6,672 351.4,671.3M355.4,677.2Q356.6,671.1 358,668.7M355.7,677.2Q354.6,669.8 351.3,667.7M355.3,677.2Q357.4,671.6 360.7,670.7M355.2,677.2Q353.4,669.5 347.2,670.5M356,677.2Q354.6,671.7 351.2,670.8" stroke="#75857a" stroke-width="0.9" fill="none" opacity="0.85"/><path d="M358.1,677.2Q356.5,672.1 354.2,670.7M356.7,677.2Q358.2,671.7 359.7,669.7M357,677.2Q359,672.3 362.5,672.2M356.9,677.2Q356.8,672.2 355,670.5M358.4,677.2Q356,672.4 352.4,672.7M357.5,677.2Q356.2,672.4 353.3,671.8M357,677.2Q359.1,671.4 362.9,671M356.6,677.2Q356.5,673.6 354.3,673.2M357.7,677.2Q356.1,671.7 352.9,670.7M357.6,677.2Q356.5,671.3 354.2,669.4" stroke="#a3b5aa" stroke-width="0.9" fill="none" opacity="0.85"/><path d="M363.9,674.3Q364.4,669.3 365.5,667.3M363.2,674.3Q363.7,668.4 363.2,666M363.6,674.3Q366,667.3 370.7,667M364.9,674.3Q362.5,669.4 359,669.4M363.5,674.3Q363.8,670 363.4,668.2M364.8,674.3Q362.6,669.8 359.4,669.9M364.6,674.3Q362.7,668.8 359.7,667.7M364.2,674.3Q363.2,669.6 361.4,668.1M363.7,674.3Q364.3,667.8 364.8,665M364.5,674.3Q363.4,669.8 361.9,668.2M363.1,674.3Q362.5,669.8 358.9,670.3M364.1,674.3Q365.6,669.5 369.5,670.1M363,674.3Q366.1,667.3 370.9,667.2M364.9,674.3Q364.5,670.3 365.7,668.9M364.3,674.3Q362.4,668.9 358.8,668.5M364.8,674.3Q365.3,669.9 368.4,669.8M364.8,674.3Q362.5,668.5 359,667.8M364.2,674.3Q363.6,667.4 362.7,664.6" stroke="#75857a" stroke-width="0.9" fill="none" opacity="0.85"/><path d="M365.9,674.3Q364.3,669.2 361.6,668.2M365.8,674.3Q365.6,669.4 366,667.3M365.7,674.3Q366,670.7 367.2,669.5M366,674.3Q364.6,669.6 362.6,668.3M366,674.3Q365.2,670.5 364.5,668.9M365.3,674.3Q365.2,670.6 364.6,669M364.7,674.3Q366.6,669.2 369.2,668M364.9,674.3Q365.8,670.5 366.4,669M366,674.3Q364.4,669.1 361.8,668M364.5,674.3Q366.6,671.2 369.1,671.7" stroke="#b9c8c0" stroke-width="0.9" fill="none" opacity="0.85"/><path d="M368.3,672.4Q370.3,668.3 373.4,668.5M369.4,672.4Q368.8,668.9 368.4,667.4M369.8,672.4Q367.9,666.3 365.2,664.5M369.4,672.4Q368.6,667.6 367.8,665.6M369.7,672.4Q368,667.7 365.5,666.7M368.3,672.4Q369,668.8 369.1,667.3M369.8,672.4Q370.1,667.3 372.7,666.1M368.4,672.4Q368.2,667.9 366.5,666.5M369.7,672.4Q368.4,667.9 367.1,666.2M368.5,672.4Q367.9,668.7 365.2,668.7M368.9,672.4Q370.9,667.1 375.2,667.9M369.6,672.4Q370.9,666.9 375.3,667.6M368.5,672.4Q368.3,668 366.7,666.5M369.4,672.4Q369.7,666.2 371.4,663.9M369.7,672.4Q369.1,668.2 369.3,666.4M368.1,672.4Q368,668.1 365.8,667.2M369.6,672.4Q370.5,666.9 374,666.2M368.4,672.4Q369.7,666.8 371.2,664.6" stroke="#8a9a88" stroke-width="0.9" fill="none" opacity="0.85"/><path d="M370.5,672.4Q369.5,668.4 367.2,667.7M370.8,672.4Q369.5,668.9 367.1,668.7M369.9,672.4Q369,667.9 365.5,668.4M371.2,672.4Q369.7,669.4 367.9,669M369.8,672.4Q369,667.9 365.4,668.3M369.6,672.4Q371.3,669.6 373.1,669.4M371.2,672.4Q371.5,669.1 373.8,669M369.9,672.4Q369,667.8 365.4,668.1M370.5,672.4Q369.6,668.4 367.5,667.6M370.2,672.4Q369.2,668 366.1,667.9" stroke="#b9c8c0" stroke-width="0.9" fill="none" opacity="0.85"/><path d="M312.3 693.8h0M354.1 677.3h0" stroke="#5f625d" stroke-width="2" stroke-linecap="round" opacity="0.95" fill="none"/><path d="M313.7 692.6h0M315.8 691.7h0M349.5 678.9h0M365.9 673.6h0" stroke="#8d8f8a" stroke-width="2.8" stroke-linecap="round" opacity="0.95" fill="none"/><path d="M318.2 690.5h0M327.8 687h0M340.2 683.3h0M344 680.8h0M355.7 676.9h0" stroke="#d0d0cc" stroke-width="2" stroke-linecap="round" opacity="0.95" fill="none"/><path d="M320.3 690.1h0M342.2 682.8h0M345.5 680.1h0M348.2 680.4h0M358 676.1h0" stroke="#b6b8b4" stroke-width="2.8" stroke-linecap="round" opacity="0.95" fill="none"/><path d="M322.5 690h0M331.7 685.8h0M352.2 678.3h0M367.7 673.2h0" stroke="#8d8f8a" stroke-width="2" stroke-linecap="round" opacity="0.95" fill="none"/><path d="M323.7 689.5h0M325.7 688.2h0M330.5 685.9h0M336.5 684.3h0M360.3 675.9h0M361.6 674.7h0" stroke="#b6b8b4" stroke-width="2" stroke-linecap="round" opacity="0.95" fill="none"/><path d="M334.4 685.8h0M370.3 671.6h0" stroke="#d0d0cc" stroke-width="2.8" stroke-linecap="round" opacity="0.95" fill="none"/><path d="M338 683h0M363.7 673.2h0" stroke="#5f625d" stroke-width="2.8" stroke-linecap="round" opacity="0.95" fill="none"/><polyline points="311,695.2 313,694.9 315,693.2 317,692.7 319,691.8 321,691.1 323,690.7 325,689.5 327,688.8 329,688.5 331,688.1 333,686.8 335,685.9 337,685.5 339,684.6 341,684 343,683.3 345,682.6 347,682.2 349,680.5 351,680 353,679 355,679.2 357,677.4 359,677.5 361,676.7 363,675.7 365,674.6 367,674.4 369,673.4 371,673" fill="none" stroke="#444" stroke-width="1"/><rect x="388" y="657.2" width="64" height="15.5" fill="url(#lat)"/><rect x="374.4" y="657.2" width="13.8" height="15.5" fill="#848e4a"/><path d="M377.6 659.3h0M382.4 668.8h0M375.4 668.8h0M382.8 664.9h0M385.4 671.1h0M386.9 666.8h0M386.8 660.7h0M375.5 665.9h0M376.1 665.4h0M378.6 668.1h0M382.1 659.6h0M380 667.4h0M384 667.8h0M384.7 659.1h0M383.9 660.9h0M382.9 671.3h0M386.4 671.1h0M375.2 670.5h0M385.3 670.7h0M382.8 661.7h0M375.3 667.8h0M383.1 662.5h0M383 666.9h0M383 659.1h0M376.9 661.9h0" stroke="#aeb070" stroke-width="1.3" stroke-linecap="round" opacity="0.75" fill="none"/><path d="M382.5 671.4h0M377.4 661.5h0M378.6 664.8h0M387.5 670.7h0M384.6 663.4h0M379.3 669h0M378.7 668.5h0M381.6 670.2h0M383.9 668.1h0M382.8 664.1h0M381.1 666.8h0M383 670.1h0M375 666.7h0M386.9 660.8h0M380.2 671.7h0M377 660h0M384.5 661.8h0M381.5 663.8h0M379.4 665.7h0M385.8 658.8h0M379.5 662.9h0M375.7 665.2h0" stroke="#66723a" stroke-width="1.3" stroke-linecap="round" opacity="0.75" fill="none"/><path d="M380.7 670.4h0M382.7 660.7h0M385.1 665.9h0M375 663h0M378.3 658.5h0M387.5 661h0M375.6 662.2h0M381.5 658.9h0M386.2 666.9h0M386 662h0M378.9 659.1h0M383.8 664.8h0M376.7 665.5h0M378.9 667.6h0M377.1 659.4h0M380.8 670.3h0M377.9 665.8h0M378.6 658.4h0M380 667h0M385.6 668.5h0M385.7 659h0M382.9 671.7h0M379.6 658.8h0M383.2 658.4h0" stroke="#a0a660" stroke-width="1.3" stroke-linecap="round" opacity="0.75" fill="none"/><rect x="452" y="657.2" width="39.7" height="15.5" fill="#848e4a"/><path d="M485 660.2h0M488.7 670.3h0M461.7 672h0M458 671.1h0M458.8 665.6h0M468 664.5h0M485.8 664.1h0M487.9 662.9h0M469.7 667h0M477 660.6h0M461.2 659.4h0M466.3 667.2h0M468.4 664h0M485.1 671.6h0M480.4 667.3h0M463.1 667.6h0M475.7 666.3h0M487.4 667.6h0M479.7 662.3h0M467.1 666.5h0M474.6 664.1h0M456.9 669.4h0M456.7 666.7h0M483.2 670.8h0M454 669.1h0M462.4 662.8h0M486 672h0M488.1 667.8h0M456.5 666.8h0M483.7 660.6h0M474.5 664.3h0M479.6 661.7h0M480.4 658.4h0M486.8 665.8h0M474.9 664.2h0M488.3 663.1h0M470.4 665.6h0M472.7 669.3h0M486.4 658.7h0M456.4 666.6h0M465.4 663.1h0M471.1 668.7h0M461.3 664.8h0M483.7 671.6h0M469.5 672h0M462 664.3h0M468.1 668.9h0M478.7 660.1h0M474.6 664.7h0M465.6 670.3h0M479.9 663.6h0M489.2 664.9h0M487.4 667.3h0M484.2 667.9h0M472.6 664h0M482.9 668h0M474.8 664.6h0M476.1 661.3h0M460.7 669.7h0M456.4 664.9h0M488 661.1h0M481.3 669.7h0M483.8 660.2h0M463.1 657.9h0" stroke="#aeb070" stroke-width="1.3" stroke-linecap="round" opacity="0.75" fill="none"/><path d="M488.6 664.5h0M479.8 664.8h0M463.5 660.8h0M466.4 663.8h0M458.2 671.7h0M468.8 663.2h0M453.6 664.2h0M479.8 671.9h0M488.8 671.1h0M466.6 671.9h0M457.3 661.7h0M466.2 662.5h0M482.2 659.4h0M455 664h0M458.4 667.3h0M459.6 671.1h0M460.4 669.6h0M481.9 661.7h0M475.3 662.7h0M461.1 669.4h0M466.7 667.4h0M485.2 669.5h0M464.7 668.8h0M459.2 665.5h0M468.3 666.9h0M477.7 663.7h0M472.9 669.8h0M459.6 670.2h0M472.4 662.7h0M476.1 667.6h0M463.6 663.9h0M455.4 666.5h0M485.2 661.6h0M454.1 665.6h0M472.8 669.6h0M468.2 660.2h0M475.2 669.5h0M455.1 666.1h0M482.2 671.1h0M490.1 669.9h0M467.7 669.5h0M481.4 663.4h0M481.5 671.2h0M490.3 670.9h0M462.7 663.3h0M485.3 659.6h0M455.5 663h0M455.1 662h0M485.4 659.1h0M484.4 672h0M479.9 667.6h0M472 665.7h0M489.6 671.3h0M481.1 662.1h0M455.7 662.8h0M456.7 666.5h0M462.2 658.8h0M491 665.3h0M485.4 670.3h0M482.6 664.4h0M478.8 668.7h0M454.3 662.6h0M474.4 660.3h0M475.5 661.7h0M464.8 665.9h0M490.6 671h0M452.9 662h0M476.9 666.6h0M488.5 667.1h0M463.8 670.3h0M474 667.4h0M462.3 666.7h0" stroke="#a0a660" stroke-width="1.3" stroke-linecap="round" opacity="0.75" fill="none"/><path d="M469.2 670h0M490.7 667h0M465.8 661.3h0M489.8 667.2h0M485 663.3h0M471.5 658.5h0M481.2 669.3h0M456.9 669.4h0M470.4 670.7h0M456 658.5h0M454.9 664.8h0M488.3 669.7h0M483.7 658.1h0M468.9 661.8h0M479.1 664.5h0M479.7 664.9h0M456.4 661.1h0M452.7 659.5h0M464.2 670.6h0M472.6 666.8h0M487 669.9h0M488 665.9h0M458.9 663.5h0M485.4 671.1h0M460.3 666.7h0M459.1 667.3h0M489.8 660.8h0M479.5 667.4h0M486.4 666.3h0M464.8 669.6h0M462.2 664.6h0M473.7 662.9h0M482.7 664.7h0M463.5 668.9h0M465.5 662.8h0M457.1 671.4h0M474.3 669.5h0M460.5 663.5h0M458.5 667.5h0M467.8 670.5h0M479.1 666.1h0M485.1 659.5h0M471.8 668.2h0M456.5 660.9h0M473.4 661.8h0M462.3 664h0M453.9 658.8h0M485.5 664.3h0M469.6 658.4h0M474.6 662.9h0M476.8 659.4h0M479 670.8h0M486 659h0M480.8 664.9h0M472.3 667.6h0M486 668.8h0M452.9 661.8h0M460.5 667.1h0M455 662.2h0M487.4 658.9h0M462.3 668.3h0M478.8 669.9h0M472 665.4h0M483.6 666.7h0M464.8 660.6h0M476.6 658.2h0M466.8 672h0M490.3 658.9h0M466.7 659.2h0" stroke="#66723a" stroke-width="1.3" stroke-linecap="round" opacity="0.75" fill="none"/><path d="M411.5,672.7 L424.5,658" stroke="#111" stroke-width="1.7"/><path d="M424,672.7 L425.5,660 M427.5,672.7 L427,661" stroke="#aaa" stroke-width="0.6" fill="none"/><path d="M425,672.7 L425.5,652 q1.5,-0.5 2.5,1.5 M426,660 q4,3 7.5,12.7" stroke="#9a9a9a" stroke-width="0.6" fill="none"/><path d="M427,652.8 q3,2 2.5,6.5 l-2,1 q0.5,-4 -1.5,-6z M423,658.5 l2.5,-1.2 l0.5,1.5z" fill="#111"/><rect x="399.5" y="669.5" width="1.2" height="3.2" fill="#222"/><path d="M453.5,672.7 v-2.5 l1,1 l1,-1 v2.5z M474.5,672.7 v-2.5 l1,1 l1,-1 v2.5z" fill="#222"/><line x1="496.2" y1="650.3" x2="496.2" y2="672.7" stroke="#8f5a50" stroke-width="1.2"/><polygon points="509.6,644.5 509.2,646.3 509.2,648.1 509.1,649.9 508.7,651.9 507.1,653 505.6,654.2 504.5,655.8 502.8,656.7 500.9,657.1 498.9,656.8 497.2,657.9 495.4,658.8 493.4,658.7 491.7,657.6 489.9,657.1 487.8,657 486.4,655.6 485.8,653.7 484.4,652.6 483.7,651 482.5,649.6 481.6,648.1 481.4,646.3 480.3,644.5 480.7,642.7 481.2,640.9 482.3,639.3 484.2,638.3 484.8,636.7 485.5,634.8 486.9,633.7 488.6,633 489.8,631.3 491.6,630.5 493.5,630.5 495.4,631.5 497.2,631.2 498.9,631.6 500.5,632.5 501.9,633.5 503.5,634.2 505.5,634.7 506.8,636 507.7,637.7 508.6,639.3 509.3,641 509.9,642.7" fill="#948f5e"/><path d="M498.5 647.4h0M491.6 654.7h0M499.4 639.3h0M494 652.5h0M502.6 636.2h0M492.7 639.6h0M492.3 634.1h0M500.9 644.4h0M499.9 655.5h0M504 640.4h0M495.2 652.4h0M500.8 638.2h0M491.7 655.7h0M492.7 634.4h0M505.7 646.2h0M507.2 644.1h0M491.9 637.8h0M487.1 637.6h0M489.4 635.6h0M505.7 648.2h0M500.3 633.6h0M500.4 645.1h0M501.9 649.9h0M503.6 649.2h0M492.3 639.9h0M489.5 641.1h0M492.7 652.4h0M497.1 641.8h0M487.2 643.1h0M506.5 645.5h0M487.1 636.4h0M495.1 643.4h0M496.4 642.4h0M493.1 633.5h0M488.7 654.3h0M503.7 652.7h0M491.8 637.9h0M503 645.4h0M488.1 653.7h0M501.3 639.9h0M491.2 635.4h0M485.7 642.5h0M497.7 634.5h0M489.5 642h0M498.9 648.9h0M490 641.5h0M493.2 641.8h0M500.6 634.7h0M502 639.9h0M504.4 649.5h0M492.3 641.2h0M497.4 642.6h0M486.8 640.5h0M490.3 634.1h0M488.4 654.2h0M501 648.6h0M502.5 649.4h0M500.2 637.4h0M489.5 645.6h0M486.3 637.3h0M488.1 646.8h0M499.7 653.4h0M500.9 642.2h0M492.4 645.7h0M496.7 641.1h0M484.4 648.9h0M490.5 652.7h0M503.2 646.8h0M497.5 641.9h0M505.4 648.9h0M498.9 643.7h0M487.1 645.8h0M493.6 653.5h0M503.7 645.7h0M485.7 642.6h0M490.1 645.5h0M486.6 643.8h0M489.6 649.1h0M493.4 648.5h0M495.9 645.8h0M499.2 654.1h0M490.4 639.6h0M495.3 649.6h0M495.8 648.9h0M490.8 649.4h0M501.8 650.7h0M506 641.8h0M495.8 643h0M503.9 653.3h0M499.9 639.8h0M489.4 641.4h0M484.6 647.2h0M496.8 643.7h0M489.2 654.2h0M498.6 642.4h0M490.6 645.6h0M498.6 636.8h0M497.4 637.4h0M503.6 651.8h0M493.3 649.9h0M486.2 646.8h0M500.7 653.9h0M494.6 648.4h0M506.4 643.3h0M486.6 643.1h0M497.2 655.5h0M491.6 649.3h0M496.4 644.4h0M497.5 637.9h0M502.6 649.2h0M487.8 648.5h0M493.7 645.6h0M505.9 640.2h0M492.5 645h0M499.8 651.6h0M493.3 637.9h0M502.1 637.2h0M492.1 655.6h0M504.8 645.9h0M487.3 653.4h0M502.5 639.6h0M485.8 650.2h0" stroke="#6a6938" stroke-width="2.0" stroke-linecap="round" opacity="0.7" fill="none"/><path d="M503.4 646.8h0M504.3 648.1h0M489.4 635.6h0M495.6 637.3h0M503.5 646.2h0M483.6 640.6h0M496.1 632.7h0M487.8 637.9h0M503.9 646h0M490.8 649.8h0M484 648.8h0M495.2 633.9h0M491.6 647.5h0M496.9 645.3h0M500.7 638.6h0M493.9 641.3h0M502.7 650.5h0M485.5 645.9h0M489.5 647.4h0M502.3 640.3h0M483.4 647.1h0M500.2 639.2h0M493.2 636.8h0M485.3 649.3h0M499.1 643.4h0M486.4 652.3h0M490.3 646.7h0M498.7 642.2h0M501.7 644.4h0M486.2 647.1h0M496.5 641.7h0M484.9 639.9h0M486.5 649.5h0M496.6 642.1h0M488.9 654.9h0M499.1 651.3h0M493.5 637.6h0M499.3 640.5h0M484.3 645.5h0M486.4 644.2h0M483.3 645.9h0M496.3 647h0M504 636.2h0M486 642.8h0M484.9 641.2h0M492.9 638.3h0M495.3 638.2h0M491.7 649.4h0M494.6 655.2h0M497.4 641.2h0M504.4 645.7h0M484.2 647.2h0M505.5 640.3h0M487 640.5h0" stroke="#c0b88a" stroke-width="2.0" stroke-linecap="round" opacity="0.7" fill="none"/><path d="M506.4 638.9h0M488.3 643.6h0M498.6 654.7h0M498.9 645.4h0M504.6 644.2h0M485.2 646.5h0M501.2 648.5h0M503.8 642.1h0M500.7 652.2h0M504.5 650.5h0M499.7 647.6h0M491.6 652.9h0M496.3 635.4h0M497.5 636h0M488.6 635.5h0M489.7 636.9h0M489.9 651.9h0M491.7 635.4h0M485.5 642.2h0M502.4 643.4h0M499.1 637.8h0M488.5 650.2h0M490.6 645.4h0M496.9 646.2h0M493 655.2h0M497.1 642.7h0M491.5 638.5h0M487.8 647.7h0M497.3 634.8h0M497.6 651.6h0M490.2 638.6h0M487.6 648.4h0M493.7 634.2h0M502.2 636.6h0M506.1 648.6h0M495 646.9h0M496.7 641.3h0M498.7 644.3h0M495.8 653h0M504.1 647.1h0M491.9 644.9h0M495.9 653.6h0M486 641.9h0M496 652.2h0M492.6 633.2h0M507.5 646.5h0M504.1 646.2h0M497.9 644.4h0M494.5 651.7h0M502.5 639.5h0M499 651h0M484.2 645.5h0M498.6 649.8h0M503 651.9h0M497.1 655.5h0M489.2 638.1h0M487.5 653.1h0M497.9 646.1h0M495.2 643.6h0M483.7 645.8h0M500.8 638.7h0M497.8 636.6h0M486.9 639.8h0M500.5 652.3h0M500.5 654.4h0M505 649.1h0M504.1 642h0M496.7 635.1h0M494.5 654.4h0M497.8 652.7h0M485.5 643.3h0M500.5 654.3h0M493.3 653.1h0M496.9 635.1h0M489.1 635.5h0M504.4 647.2h0M506.9 644.8h0M499.7 655.5h0M490.3 633.6h0M507.4 641.8h0M490.1 653.2h0M486.7 648.6h0M506.2 647h0M491.9 650h0M499.8 643.1h0M503.4 646.6h0M498.6 644.6h0M485 638.7h0M503.6 636.4h0M496.4 642.6h0M504.3 647.3h0M502.3 648.4h0M494.2 640.8h0M494.4 648.5h0M487.1 635.9h0M495.6 655.7h0M483.8 641.9h0M500.8 639.9h0M487.4 638.6h0M497.4 637.3h0M502.2 645.3h0M494.1 646.8h0M494.2 644.4h0M491.6 655.4h0M504.6 648.8h0M502.1 648.7h0M495.7 649.7h0M491.1 639.6h0M487.2 644.8h0M493.1 634.1h0M498.4 643.7h0M495.1 648.9h0M498.3 635.7h0M488.6 640.7h0M494.7 638.3h0M496.3 641.8h0M486.2 639.1h0M505.9 641.5h0M500.5 638.9h0M490.4 635.7h0M488.2 651.2h0M500.2 637.8h0M487.2 643.1h0M489.3 639.9h0M494.5 647.5h0M489.9 636.2h0M487.9 646h0M487.8 644.9h0M506.3 643.4h0" stroke="#6a6938" stroke-width="1.2" stroke-linecap="round" opacity="0.7" fill="none"/><path d="M487.7 647.8h0M490.3 647.2h0M487.2 636.9h0M497.5 656.4h0M499.1 634.6h0M498.9 651.8h0M487.4 641h0M499.5 648.3h0M505.5 650.4h0M501.7 651.7h0M493.8 651.8h0M499.1 649.9h0M493.9 644.9h0M490.5 637.1h0M503.5 640h0M501.2 652.5h0M487.5 641.3h0M494.9 655.1h0M494.9 642.5h0M494.2 653.9h0M483.8 646.8h0M498.2 652.9h0M498.3 655.3h0M486.7 647.2h0M491.8 643.2h0M492.8 649.2h0M490 641h0M501.7 641.1h0M488.4 646.8h0M492 644.4h0M489.4 652.8h0M496.9 643.6h0M491 643.4h0M504.4 637.1h0M501 643.6h0M496.7 632.7h0M502.9 637.9h0M492 633.2h0M502.7 638.3h0M499.1 633.8h0M489.8 654h0M492.6 645.4h0M493.9 650.7h0M506.7 645.8h0M500.6 634.9h0M499.7 653h0M496 643.5h0M494.6 632.7h0M488.7 639.2h0M489.2 642.2h0M494.1 656.2h0M501.6 636.3h0M502.1 643.7h0M498.9 637.1h0M503.8 636.1h0M493.5 652.2h0M496.8 652.6h0" stroke="#c0b88a" stroke-width="1.2" stroke-linecap="round" opacity="0.7" fill="none"/><line x1="527.6" y1="650.3" x2="527.6" y2="672.7" stroke="#8f5a50" stroke-width="1.2"/><polygon points="541.5,644.5 541.2,646.4 540.5,648.1 539.9,649.8 538.8,651.2 538,652.8 536.2,653.6 535.1,654.9 533.7,656.1 532.5,657.9 530.5,657.9 528.6,657.9 526.8,658.3 524.9,658.8 523.1,658 521.5,656.9 520.1,655.7 518.4,655.1 516.6,654.4 515.7,652.8 514.6,651.3 513.7,649.8 512.5,648.3 512.8,646.3 513.3,644.5 513.9,642.9 513.6,641.1 514.1,639.4 515.1,637.9 516,636.3 516.9,634.8 517.8,632.9 520,632.8 521.9,632.7 523.5,632.2 525,630.9 526.8,631.6 528.5,631.9 530.3,631.4 532.4,631 533.8,632.5 535.3,633.5 536,635.4 537.3,636.6 538.9,637.7 539.5,639.4 539.3,641.3 540.2,642.8" fill="#948f5e"/><path d="M524.1 656.3h0M526.8 641.7h0M524.4 637.1h0M522.3 646.6h0M531.7 634.5h0M517.2 637.9h0M516.9 646.1h0M533.5 649.8h0M535.2 647h0M536.1 644.5h0M530.6 649.8h0M518.5 652.8h0M532.7 637h0M534 649.1h0M518.2 643h0M533 639h0M526 641.7h0M515.5 649.7h0M523.4 636.2h0M533.4 650.7h0M533.6 636.9h0M515.5 641.3h0M535.8 641.1h0M531.2 655.2h0M533.3 635.4h0M521.8 639.8h0M516.6 640.4h0M529.3 635.8h0M522.3 654.1h0M530.1 651.5h0M530.5 652.2h0M521.5 635.8h0M538.9 641.8h0M530.6 637.9h0M530.3 637h0M522.3 655.2h0M529.6 656.2h0M520.7 637.2h0M523.7 639.4h0M536.8 643.3h0M526.4 645.7h0M521.5 655.2h0M525.6 638.7h0M527.2 649.1h0M523.1 654.7h0M532.5 642.5h0M519.6 639.4h0M531.7 639.3h0M529 654.6h0M516.7 649.5h0M527.1 634.7h0M525.7 653.2h0M523.8 640h0M534.7 641.8h0M521.1 644h0M516.3 644.8h0M518 642h0M532.5 653.3h0M520.4 647.5h0M524.7 648.4h0M520.6 641.5h0M530.8 649.5h0M519.2 654h0M517.9 639.6h0M537.3 648h0M524.3 646.8h0M533.3 644.7h0M519.9 638.5h0M535.7 642.9h0M520.7 636.8h0M534.9 639.3h0M532.3 645.1h0M517.5 652.2h0M528.5 645.7h0M521.7 642.6h0M525.3 645.4h0" stroke="#c0b88a" stroke-width="2.0" stroke-linecap="round" opacity="0.7" fill="none"/><path d="M516.3 649.2h0M534 646.2h0M521.5 653.6h0M520.1 654.6h0M534.7 637.9h0M536.2 650h0M529.2 653.8h0M519.2 640.6h0M529.5 653.7h0M525.8 641.2h0M524.6 644.6h0M523.9 652.3h0M525.9 634.7h0M536.7 649.9h0M516.3 647.9h0M518.6 652.5h0M522.5 654.3h0M534.6 646.2h0M526.1 648.9h0M526.9 655.9h0M520.8 652.6h0M530 639.7h0M533.9 650.1h0M521.3 648.6h0M526 637.6h0M525.4 648.9h0M524.8 653.6h0M531.7 642.4h0M536.7 650.7h0M529.6 639h0M516 650.3h0M519.3 637.4h0M527.8 642.2h0M534.5 639.3h0M518.7 644.6h0M530.8 654.6h0M531.4 639.8h0M532.6 649h0M520.3 649.7h0M529.5 635.6h0M534.3 642.9h0M532.9 645.2h0M519 638.8h0M532.8 652.1h0M524.3 653.7h0M520.3 652.9h0M520.8 635.2h0M535.3 649.2h0M535.1 646.9h0M521.1 634h0M529.2 644.5h0M519.1 643.1h0M523.7 648.4h0M532.1 645.6h0M521.1 642.5h0M524.6 638.8h0M515.4 640.4h0M523 636.9h0M533 637.1h0M526.5 646.8h0M531.8 653.3h0M532 650.1h0M518.7 639.4h0M521.8 648.9h0M520.1 645.6h0M534.2 638.4h0M534.7 648.2h0M528.3 635.2h0M520.6 640.2h0M516.5 646.3h0M522.1 638.6h0M537.4 642.4h0M515.9 644.5h0M522.2 654.2h0M518.8 648h0M515.7 646h0M515.9 642.1h0M527.5 643.2h0M528.2 642.3h0M532.2 655.2h0M538.4 645.3h0M517.2 651.9h0M531.7 633.5h0M535.9 647h0M526.8 641.9h0M520.5 643.3h0M534 646.6h0M538.5 643.6h0M532 645.6h0M518.8 640.3h0M522.8 655h0M533.2 646.5h0M532.3 641.9h0M524.8 648.8h0M529.5 635.1h0M530.5 636.7h0M531 633.5h0M537.7 642.6h0M523.2 650.8h0" stroke="#6a6938" stroke-width="2.0" stroke-linecap="round" opacity="0.7" fill="none"/><path d="M539 646.9h0M515 647.8h0M536.6 645.4h0M523 638h0M515.8 649.9h0M525 642.8h0M535.5 649.6h0M521.1 642.3h0M530.2 642h0M521.9 640.5h0M528.8 646h0M519.4 643.6h0M538.1 641.3h0M524.7 647.3h0M521.7 635.7h0M527.8 645.1h0M531.5 637.7h0M518.8 636.4h0M532.7 645.3h0M522 652.8h0M516 640.2h0M517.8 642.8h0M521.1 655h0M537.3 642.6h0M531.9 647.7h0M524 641.8h0M530.3 650h0M531.6 643h0M533.1 647.9h0M534 643.7h0M533.6 645.4h0M538.3 646h0M528.2 640.3h0M522.5 638.6h0M533.6 641.5h0M535.7 649.2h0M534.1 636.9h0M527.9 654h0M522.3 650.6h0M531.5 645.9h0M515.9 647.1h0M517 644.5h0M532 639.7h0M514.9 643.1h0M526.1 651.5h0M522.2 644.9h0M527.3 645.2h0M526.5 641.1h0M525.3 639.9h0M537.4 648.9h0M517.6 649.3h0M530.2 654.7h0M515.2 648.1h0M521.4 637.9h0M525.2 651.6h0M525.1 646.5h0" stroke="#c0b88a" stroke-width="1.2" stroke-linecap="round" opacity="0.7" fill="none"/><path d="M518.5 652.4h0M537.4 648.3h0M519.9 652.7h0M515.6 648.3h0M524.3 636.6h0M526.1 634.8h0M533.1 647.9h0M515.3 641.2h0M519.3 646.4h0M524.5 642.9h0M530.3 650.8h0M516.6 647.1h0M532.8 638.4h0M523.7 651.9h0M536.7 650.8h0M537.6 648.3h0M538.4 641h0M532.1 646.9h0M522.6 655.4h0M536.6 637.9h0M516.4 647.9h0M525.1 635.4h0M526.6 643.7h0M519 650.5h0M516.1 640.8h0M536.1 641h0M534.2 639.8h0M536.5 645.3h0M526.9 647.4h0M522.4 640.5h0M522.6 652.3h0M537.5 649.2h0M532.2 648.7h0M526 656h0M519.2 651.4h0M520.4 649.6h0M528.7 637.5h0M536.6 641.3h0M532 637h0M534.3 643.2h0M532.7 650.3h0M532.5 644.5h0M523.1 643.2h0M520.2 640.6h0M530.8 655h0M536.1 644.9h0M530.2 649.4h0M518.1 642.7h0M528.8 643.3h0M522.4 638.1h0M517.9 643.6h0M528.4 653.3h0M519.1 648.5h0M532 636.6h0M521.3 645.9h0M533 638.7h0M524.2 646.1h0M523.3 636h0M520.6 651.7h0M532.4 645.7h0M518.4 640.4h0M521.7 643.5h0M537.9 648.2h0M534.3 641.4h0M531.9 652.4h0M529.8 643.4h0M529.2 638.1h0M526.1 647.5h0M522 633.6h0M523.7 643.3h0M517.4 640.8h0M535.9 638.2h0M538.6 647.2h0M528.9 637.1h0M535.1 641.2h0M524.6 652.8h0M536 648.6h0M527.4 650.9h0M518.2 640.6h0M522.8 653.2h0M517.2 639.1h0M518 638.2h0M531.2 634.5h0M538.5 645.7h0M530.3 645.7h0M534.1 642.7h0M531.5 644.1h0M521.8 634.8h0M521.2 643.3h0M534.4 647.4h0M531.7 642.8h0M531.6 641.9h0M524.2 653.1h0M530 637.3h0M529.6 649h0M519.2 644.7h0M530.6 640.2h0M530.3 633.9h0M528.5 652.5h0M529.4 643.4h0M529.6 651.5h0M522.5 654.5h0M516.8 650.5h0M529 646.8h0M530.7 650.8h0M534 636.9h0M533.9 646.4h0M531.4 644.5h0M536.9 637.8h0M525.7 655.6h0M533.1 645.2h0M524.6 635.5h0M517.8 645.5h0M523.5 641.5h0M529.6 635h0M533.9 648.3h0M531.9 649.1h0M517.6 651h0M525.4 635.9h0M532.2 637.7h0M517.7 651.1h0M520 637h0M525.8 651.4h0M539.2 644h0M527.4 650.3h0" stroke="#6a6938" stroke-width="1.2" stroke-linecap="round" opacity="0.7" fill="none"/><path d="M494.5,672.7 l2,-6 q0,-3 2.5,-3.5 q2.5,0 2.5,2.5 l-1,2 l4,4 z" fill="#fff" stroke="#333" stroke-width="0.6"/><path d="M497,664 a2,2 0 1,1 3.5,-0.5 z" fill="#111"/><path d="M502,672.7 l1,-3 h6 l1,3z" fill="#111"/><path d="M507,668 q0,-3 2,-4 a1.8,1.8 0 1,1 2.5,0 q1.5,2 1.5,8.5 h-3z" fill="#fff" stroke="#333" stroke-width="0.5"/><path d="M509,663.5 a1.8,1.8 0 1,1 3,0z" fill="#111"/><rect x="539" y="639.3" width="331" height="18.2" fill="url(#lat)"/><g opacity="0.88"><line x1="702" y1="642" x2="702" y2="665" stroke="#b58a80" stroke-width="1.2"/><polygon points="713.7,636.5 713.5,638.2 713.8,640.1 712.6,641.5 711.6,642.8 711.1,644.4 710.7,646.3 709.5,647.5 708.1,648.4 706.6,649 705.2,649.8 703.6,649.8 702,649.3 700.5,649.3 698.9,649.4 697.3,649.3 695.9,648.4 694.6,647.4 693.3,646.3 692,645.2 691.3,643.4 691.7,641.3 690.8,639.9 690.5,638.2 690,636.5 690.3,634.7 690.6,633 690.9,631.2 691.4,629.4 692.7,628.3 693.9,627.1 695.5,626.5 696.6,625.4 697.6,624 699.1,623.8 700.5,623.4 702,622.8 703.6,622.1 705.1,623 706.3,624.2 707.6,625.1 708.7,626.2 709.8,627.4 710.8,628.7 711.9,629.9 712.9,631.3 713.9,632.9 714.1,634.7" fill="#acaa84"/><path d="M704.8 628.8h0M709.1 635.7h0M704.1 642h0M705.8 638.9h0M694.5 632.8h0M707.4 641.6h0M695.3 640.2h0M691.8 638.7h0M706.2 634.3h0M697.9 644h0M704.3 635.4h0M698.3 645.2h0M709.4 628.9h0M695.7 643.5h0M705.4 640.9h0M693.3 633.2h0M701.4 633.4h0M697.1 627.3h0M701.8 630.7h0M709.3 640.7h0M708.2 633.6h0M709.9 642.8h0M708.6 643.9h0M695.2 636.3h0M703.9 639.8h0M699 633.7h0M710.5 630.9h0M703.5 625.2h0M700.1 644.9h0M694.2 629.7h0M696.9 638.4h0M699.1 647h0M701 633h0M693.4 636h0M706.1 638.7h0M708.2 643.3h0M706.3 641.3h0M694.9 633.4h0M705.7 631.2h0M704.2 638.9h0M711.6 636.9h0M699.8 642.1h0M696 638.2h0M700.5 625h0M697.5 633.8h0M709.4 631h0M705.3 629.9h0M704 626.7h0M711.2 631.6h0M706.4 642.3h0M703.6 646.9h0M701.5 641.6h0M698.2 641.8h0M697.7 632h0M701.7 647.1h0M703.9 631.3h0M697.8 631.5h0M702.8 625.3h0M693.2 639.1h0M702.4 641.3h0M698.6 643.5h0M710.2 638.5h0M698.7 643.2h0M694.8 636.5h0M694 639.7h0M701.8 641.2h0M701.4 629.7h0M703.7 632.5h0M696 644.4h0" stroke="#8a8a60" stroke-width="2.0" stroke-linecap="round" opacity="0.7" fill="none"/><path d="M704.3 630h0M700.7 639h0M707 643.2h0M703 635.8h0M708.9 637.4h0M697.9 628.6h0M699.2 626h0M707.2 645.8h0M709.9 644h0M701.5 632.5h0M698.5 632.3h0M697.4 632h0M698.2 637.7h0M702.9 631.5h0M692.5 641.6h0M692.8 638.9h0M692.6 637.8h0M700.3 626.5h0M699.9 642.7h0M705.3 627h0M700.7 638.1h0M700.1 628.9h0M703.6 633.5h0M693.8 635.9h0M707.9 629.7h0M706.8 647h0M697.6 643.7h0M695 637.9h0M709.3 644.3h0M696.2 631.6h0M703.4 631.1h0M712 634h0M696.5 643.9h0M708.1 632.7h0M698.1 636.8h0M709.4 640.5h0M711.6 636.2h0" stroke="#cdcaaa" stroke-width="1.2" stroke-linecap="round" opacity="0.7" fill="none"/><path d="M704.6 646.9h0M697.5 642.8h0M708.7 643.9h0M703.1 628.2h0M710.1 631.1h0M703.4 629.7h0M701.5 625.7h0M695 639.7h0M710.3 636h0M698.1 626h0M699.6 646.7h0M709.7 639.3h0M696.7 644.4h0M702.9 632h0M696.5 629.8h0M697.5 639.7h0M696.1 635.6h0M699.5 644.3h0M698 646.9h0M703.2 626.9h0M697.3 645.7h0M692.3 639.1h0M693.5 631.2h0M705.6 639.3h0M696.4 630.1h0M708.8 633.1h0M712.2 635.7h0M697.7 633.2h0M694.4 641.7h0M699.3 630h0M699.7 628h0M706.1 634.3h0M708.7 644.7h0M695.3 629.7h0M707.7 634.7h0M693.4 636h0M696.2 634.1h0M706.2 627.9h0M712.1 638.6h0M704.3 642.7h0M712.2 639.3h0M704.9 641.6h0M698.4 631.1h0M702.3 631.5h0M707.4 629h0M693.6 631.3h0M705 641.4h0M703.6 637.2h0M701.2 639.5h0M694.7 642.4h0M702.2 626.2h0M695.5 633.2h0M700.9 636.1h0M698.9 627.3h0M694.3 639.4h0M702.4 642.8h0M705.4 640.1h0M703 641.2h0M697.8 629.1h0M695.4 640.2h0M693.1 641.1h0M703.7 627.6h0M708.5 631h0M705.2 634.1h0M703.7 643.3h0M695.6 628.4h0M696.4 631.9h0M697.2 629.5h0M700.4 638.1h0M700.5 642.8h0M705.1 646.7h0" stroke="#8a8a60" stroke-width="1.2" stroke-linecap="round" opacity="0.7" fill="none"/><path d="M707 639.1h0M701.5 638h0M699.1 631.8h0M709.5 633.1h0M698.4 629.7h0M699.1 625.6h0M694.1 639h0M699.5 644.2h0M692.6 637.4h0M701.7 628.9h0M700.2 643.5h0M708 646.2h0M711.9 633.1h0M699.7 641h0M707.3 644.1h0M699.5 643.5h0M704 644.8h0M706.4 630.9h0M712.1 638.3h0M698.3 645.3h0M700.7 634.3h0M703.4 645.7h0M693 632.5h0M702.1 642.3h0M703.6 631.6h0M701 647.9h0M710.6 635.1h0M710.2 641.5h0M695.6 643.1h0M709.5 629.9h0M697.5 640.4h0M695.2 639.1h0M706.9 646.5h0M693.5 640.9h0M695.2 643.8h0M708.3 638.1h0M695.5 639.7h0M695.8 643.7h0M694.9 630.9h0" stroke="#cdcaaa" stroke-width="2.0" stroke-linecap="round" opacity="0.7" fill="none"/><line x1="702" y1="638" x2="702" y2="650" stroke="#b58a80" stroke-width="0.9" opacity="0.6"/></g><g opacity="0.88"><line x1="754" y1="643" x2="754" y2="665" stroke="#b58a80" stroke-width="1.2"/><polygon points="766.5,637.5 766.4,639.2 766.8,641.1 766.7,643 765.4,644.3 764.3,645.7 763,646.9 761.9,648.2 760.1,648.4 758.6,649 757.3,650.5 755.7,650.7 754,651.4 752.3,651.3 750.7,650.4 749,649.9 747.3,649.5 746.7,647.4 745.1,646.7 743.8,645.6 742.4,644.4 742.4,642.5 741.6,640.9 740.8,639.3 740.9,637.5 741.6,635.8 742.1,634.2 742.7,632.6 743.5,631.1 744,629.2 745.5,628.3 746.4,626.8 747.8,625.8 749,624.5 750.9,624.7 752.4,624.3 754,624.6 755.6,624 757.1,625 758.4,625.9 760.1,626.1 761.8,626.6 763,627.8 764.4,629 764.8,630.9 765.5,632.4 766,634.1 766.4,635.8" fill="#acaa84"/><path d="M762.1 645.2h0M759.6 647.8h0M748.8 630.4h0M762.9 644.8h0M749.5 628.5h0M760 642.1h0M752.2 632h0M747.1 632.1h0M753.7 639.4h0M762.9 637.8h0M746.7 641.1h0M749.6 633.5h0M754.7 628h0M744.9 643.7h0M747.5 630.6h0M763.5 636.3h0M750.4 642.7h0M747.5 636.1h0M754.7 626.1h0M757.8 637.3h0M747.3 633.5h0M750.7 642.8h0M747.6 642.1h0M764.4 641.5h0M747 641.6h0M765 639h0M760.4 634.2h0M753.6 641.2h0M749.8 634.7h0M748.1 642.1h0M762.4 641.5h0M764.8 640.6h0M747.5 643h0M743.9 641.4h0M759.8 645.4h0M758.8 632.4h0M744.4 640.3h0M762.5 637.8h0M748.1 641.7h0M763 635.9h0M753.2 633.1h0M754.7 633.2h0M749.6 645.7h0M761.4 642.9h0M751 647.9h0M745 632.3h0M753.5 640.4h0M752 643h0M751.4 639.9h0M748.3 640.3h0M765 640.6h0M757.8 634.9h0M760.9 638.5h0M747.2 630.2h0M751.2 632.4h0" stroke="#cdcaaa" stroke-width="2.0" stroke-linecap="round" opacity="0.7" fill="none"/><path d="M750 639.1h0M752.4 626.8h0M752.3 648.4h0M750.6 647.7h0M744.6 644.1h0M758.5 627.3h0M747 639.8h0M751.8 648.5h0M749 639.4h0M763.6 640.8h0M747.6 643h0M762.9 637.7h0M753.8 643.1h0M757.5 628.2h0M756.6 635.9h0M761.9 634.8h0M750.7 645.8h0M759.7 638.9h0M762.1 630.4h0M754.8 641.2h0M743.3 634.1h0M750.3 640.5h0M746 633.1h0M751.9 636.3h0M760.3 628.6h0M756.4 647.8h0M752.7 643.9h0M755.8 638h0M753.8 649h0M762.5 635.5h0M756 637.8h0M755.4 642.6h0M752.6 644.1h0M744.2 632.1h0M754.2 634.8h0M754.3 641.4h0M753.8 637.5h0M758.4 638.9h0M759.5 643.6h0M762.4 641h0M759.9 635.8h0M761.2 629.5h0M752.8 640.2h0M759 648h0M752.7 633.3h0M756 627.6h0M747.1 643.9h0M763.7 637.4h0M747.2 646.4h0M750.2 644.1h0M762.2 638.8h0M746.1 639.1h0M758 634.7h0M759.5 645.9h0M764.2 639.2h0M751.4 647.2h0M746.6 630.1h0M751.2 636.1h0M760.9 645.3h0M743.7 636.1h0M746.2 636.5h0M759.7 639.1h0M752 632.8h0M752.4 630.1h0M754.5 638.3h0M756.3 632.9h0M744.3 632.2h0" stroke="#8a8a60" stroke-width="1.2" stroke-linecap="round" opacity="0.7" fill="none"/><path d="M744.9 639.1h0M746 632.8h0M747.7 633.1h0M758.8 645.5h0M749.1 633.1h0M753.1 628.6h0M762.2 642.9h0M747 634.4h0M763.5 635.8h0M746.8 643.1h0M763.7 636.4h0M756.8 643.7h0M754.5 636.6h0M742.7 637.2h0M758 636.2h0M758.8 641.1h0M760 635.4h0M749.2 629.5h0M745.5 638.7h0M754.9 636.9h0M758.3 645.7h0M756.1 645.2h0M752.1 631.8h0M753.5 646.5h0M755.7 638.1h0M763.9 634.8h0M748.7 643.1h0M743.4 642.1h0M754.5 648.4h0M756.6 630.6h0M757.5 639.8h0M757.3 635.3h0M749.5 630.1h0M747.8 629.8h0M745.2 643.2h0M745.6 644.7h0M751.3 629.5h0M748 628.1h0M745.5 635.7h0M761.9 640h0" stroke="#cdcaaa" stroke-width="1.2" stroke-linecap="round" opacity="0.7" fill="none"/><path d="M753.6 644.5h0M753.1 646.5h0M751 644.3h0M755.7 643.4h0M746.4 643.1h0M762.5 642.6h0M752.6 639.7h0M762.9 631.1h0M757.5 631.1h0M747.1 631.1h0M746.2 646.1h0M747 634.6h0M748 643.2h0M749.8 646.6h0M756.2 634.5h0M744.8 640.7h0M745.7 631.6h0M757.9 648.6h0M760.8 637.8h0M756.9 633.8h0M761.4 637.4h0M753.6 645.2h0M750 630h0M755.2 627.6h0M757.3 628.1h0M746.5 631.6h0M764.8 635.6h0M748.2 646.7h0M746.5 646h0M750.7 632.1h0M755.2 631.4h0M763.5 637.2h0M762.3 633.9h0M744 640.4h0M748.8 627.4h0M747 645.7h0M753.2 636.5h0M764.3 639.7h0M749.2 632.3h0M765 637.2h0M764.9 640.4h0M761.7 635.3h0M744 637.3h0M757.6 628.4h0M743.5 634h0M750.2 633.4h0M750.6 628.1h0M763.7 638.1h0M759 629.8h0M759.5 636.7h0M761.4 636.8h0M747.5 645.2h0M745.8 629.6h0M751.2 648h0M755.9 630.2h0M751.4 640.3h0M756.7 640.5h0M763.2 634.6h0M759.7 646.4h0M756.8 634.9h0M764.7 634h0M759.3 630.1h0M747 633.9h0M757.9 645.5h0M750.1 630.8h0M754.8 632.4h0M749.7 640.2h0M760 638h0M753.6 638.4h0M752.7 629.1h0M756.3 643h0M744.5 633.5h0" stroke="#8a8a60" stroke-width="2.0" stroke-linecap="round" opacity="0.7" fill="none"/><line x1="754" y1="639" x2="754" y2="651" stroke="#b58a80" stroke-width="0.9" opacity="0.6"/></g><g opacity="0.88"><line x1="808" y1="643" x2="808" y2="665" stroke="#b58a80" stroke-width="1.2"/><polygon points="819.9,637.5 819.7,639.2 819.7,641 819,642.6 817.5,643.7 816.8,645.1 816.6,647.2 815.3,648.3 814.1,649.4 812.5,649.6 811.1,650.6 809.6,651.2 808,650.8 806.5,649.9 805.1,649.7 803.5,649.7 802.1,649 800.7,648.2 799.5,647 798.6,645.7 797.6,644.3 797.4,642.4 797.3,640.7 796.8,639.2 796.5,637.5 796,635.7 796.8,634.1 797,632.3 797.3,630.4 798.2,628.8 799.8,627.9 801.3,627.3 802.4,626.2 803.7,625.2 805.1,624.5 806.6,624.5 808,623.8 809.6,623.1 811,624.1 812.3,625.3 813.4,626.5 814.8,627.2 816.1,628.1 816.6,629.8 817.3,631.3 819.1,632.2 819.8,633.9 820.1,635.7" fill="#acaa84"/><path d="M807.5 645.4h0M809.4 644.2h0M807.5 631.3h0M809 645.1h0M810 641.7h0M800.4 643.2h0M801 642.4h0M814.7 638.9h0M815.6 636.1h0M802.2 647.3h0M814.7 638h0M812.9 640.2h0M809.6 641.9h0M802.8 630.9h0M813.8 633.5h0M802.2 632.5h0M805.4 641.6h0M815.8 631.7h0M798.7 634.6h0M813.5 637.3h0M807.1 632.5h0M812.5 627.2h0M799.7 644.8h0M799.4 638h0M801.4 637.2h0M811.8 644.2h0M802.9 646.9h0M810.1 629.4h0M800.4 641.9h0M802.9 636.7h0M804.6 640.6h0M810.8 645.6h0M808.3 633.2h0M814.9 635.1h0M811.9 630.6h0M805.2 627.9h0M810.1 636.9h0" stroke="#cdcaaa" stroke-width="1.2" stroke-linecap="round" opacity="0.7" fill="none"/><path d="M808 628h0M804.3 648.2h0M810.8 646.9h0M816.3 642.2h0M812 647.7h0M811.3 632.3h0M815.6 629.7h0M810.9 629.3h0M807.6 635.7h0M797.6 639.1h0M801.5 638.6h0M809.3 644.4h0M809.4 626.6h0M817.2 638.1h0M799.5 639.6h0M817.7 639.8h0M797.8 638.8h0M806.3 632.6h0M809.8 640.5h0M804.5 627.1h0M802.6 631.9h0M805.5 642.2h0M811.8 647.5h0M814 646.8h0M803 629.1h0M807.1 638.5h0M800.4 634.7h0M807.4 643.1h0M814.1 636.3h0M810.2 632h0M801.7 636.4h0M806.6 638.7h0M803.5 648.2h0M802.2 636h0M806.5 634.7h0M805.5 629.3h0M809 638.2h0M805.8 637.5h0M800.2 643.4h0M813.1 632.8h0M816.9 634h0M800.1 644.2h0M813.9 641.3h0M804.1 630.5h0M799.4 642.6h0M814.9 642.6h0M807.6 646.2h0M808.3 629.6h0M815.2 643.2h0M806.9 636.6h0M809.2 634.3h0M812.8 635.7h0M811.3 642.3h0M811 626.6h0M807.6 640.2h0M811.7 628.7h0M803.3 643.7h0M804.3 647.1h0M804 628.9h0M803.7 643.1h0M804.9 644.3h0M815.5 631h0M815.6 641.7h0M814.6 632.8h0M803.1 641.5h0M799.5 635.2h0M801.6 641.9h0M815.3 645.4h0M808.4 649.1h0M812.9 637.9h0M806.6 637.6h0M810.1 635h0M809.5 644.2h0M809.3 633.2h0" stroke="#8a8a60" stroke-width="1.2" stroke-linecap="round" opacity="0.7" fill="none"/><path d="M810.8 632.4h0M814.1 640.6h0M801.4 644h0M803.8 635.3h0M813.1 636.4h0M815.3 644.2h0M800.6 629.7h0M815.4 643.9h0M810.1 643.3h0M814.9 628.8h0M813.9 631.1h0M799.9 637.6h0M803.5 638.4h0M800.4 634.4h0M808.3 634.2h0M812 640.3h0M808.9 635.1h0M816.1 637h0M801.5 642.7h0M806.9 647.1h0M799.3 636.7h0M802.8 632h0M808.1 647.7h0M814.5 645.4h0M805.4 643.3h0M799.1 637.7h0M806.4 642.2h0M811.2 628.8h0M801 638h0M798.9 635.7h0M808.7 631.7h0M808.9 631.1h0M813.1 629.6h0M803.4 635.4h0M808.3 631.9h0M805.2 630.6h0M814.7 637.1h0" stroke="#cdcaaa" stroke-width="2.0" stroke-linecap="round" opacity="0.7" fill="none"/><path d="M814.6 629.2h0M799.9 635.7h0M807.7 631.1h0M801.3 634.7h0M806.8 643.3h0M798.5 636.3h0M803.5 634h0M801.9 632.7h0M809 648.7h0M799.1 634.5h0M811.9 633.1h0M816.5 643.8h0M812.7 628.7h0M803.2 643.6h0M805.9 632.4h0M801.1 637.7h0M809.6 630.1h0M802.6 628h0M808.6 637.3h0M813.7 634h0M816.7 643.1h0M815.4 638.4h0M803.3 627.9h0M805.7 629.1h0M811.8 642.9h0M806.1 640.1h0M812.3 648h0M811 634.5h0M807.1 648.6h0M803.8 644.6h0M798 636.9h0M809.6 637.2h0M808.9 631.7h0M811.6 626.9h0M810.7 637h0M804.9 640.4h0M804.8 643h0M807.3 642.9h0M805.7 640.5h0M810.9 637.7h0M805.6 629.5h0M800.2 633.1h0M808.1 635h0M808.1 648.4h0M801.3 629.6h0M799.3 632.6h0M805.2 626.6h0M805.9 628.4h0M814.8 645h0M804.3 646.1h0M805.5 641.1h0M812.2 643h0M799.5 637.8h0M806.9 635.8h0M803.3 639.3h0M809.2 646.9h0M800.4 632.5h0M810.7 630.3h0M801.1 642.3h0M811.8 642.5h0M803.4 639.6h0M801.9 645.2h0M811 626.3h0M801 632.7h0M813.2 647.2h0M803.2 643.9h0M813.9 645.4h0M813.8 638.5h0" stroke="#8a8a60" stroke-width="2.0" stroke-linecap="round" opacity="0.7" fill="none"/><line x1="808" y1="639" x2="808" y2="651" stroke="#b58a80" stroke-width="0.9" opacity="0.6"/></g><g opacity="0.88"><line x1="872.9" y1="642.4" x2="872.9" y2="662.6" stroke="#b58a80" stroke-width="1.2"/><polygon points="887,636.5 886.7,638.4 886.1,640 886,641.9 885.7,643.6 884.7,644.7 883.9,646 883.1,647.1 882.3,648.5 881.4,649.7 880.2,649.7 879.1,649.9 878,651 876.8,650.8 875.8,649.6 874.9,648.6 873.8,648.2 872.6,647.7 872,646.1 871.3,644.7 870.4,643.5 870,641.8 869.5,640.2 869.6,638.3 869.6,636.5 869.8,634.8 869.7,633 870.5,631.5 871,630 871.4,628.2 871.7,626.1 872.6,625 874,625 875,624.6 875.9,623.6 876.9,622.7 878,622.9 879,623.8 880.2,623 881.3,623.4 882.2,624.4 883.1,625.6 883.9,626.9 884.4,628.5 884.9,630 885.6,631.4 885.8,633.2 886.8,634.7" fill="#acaa84"/><path d="M872.1 641h0M879.7 637.9h0M881.7 631.3h0M878.3 626h0M881 637.5h0M881.2 633.2h0M870.8 639.4h0M881.5 642.5h0M877.2 629.6h0M875.7 631.3h0M880.2 646.1h0M883.6 637.5h0M881.4 632.3h0M881.9 643h0M871.8 636.1h0M872.9 636h0M873.7 632.5h0M874.9 634.7h0M871.3 634.3h0M884.9 634.4h0M879 635.7h0M884.1 635.9h0M881.6 640.7h0M875.7 633.1h0M882.5 636.7h0M877.4 634.5h0M878.3 629.3h0M881.1 643.5h0M880.8 633.8h0M885.1 633.4h0M878.6 643.7h0M877.6 627.9h0M872.3 629.7h0M877.7 632.5h0M871.9 631.8h0M881 639.2h0M878.4 626.9h0M880.6 647.1h0M877.5 629.1h0M879.7 640.2h0M882.9 633.8h0M872.3 636.8h0M882 640.1h0M873.3 631.5h0M879.8 640.8h0M876.6 630.3h0M870.8 633.2h0M881.9 633.1h0M882.2 642.2h0M877.3 628.8h0M877.6 637.5h0M883.9 641.7h0M880.5 637.8h0M876.6 646.9h0M878.5 628.4h0M875.6 627.2h0M873.7 637.8h0" stroke="#8a8a60" stroke-width="1.2" stroke-linecap="round" opacity="0.7" fill="none"/><path d="M881.1 634.2h0M881.6 631.9h0M873.6 643.9h0M883.1 628h0M873.8 639.4h0M879.8 643.9h0M881.2 633.5h0M880.3 630.1h0M880.6 641h0M881.8 627.3h0M881.4 628.9h0M875.9 633.8h0M875.3 629.4h0M875.7 634.2h0M884.9 636.9h0M881 626.8h0M875.9 640.2h0M884 633.5h0M876 636.7h0M881 631.4h0M876.8 639.3h0M874.4 632.1h0M871.5 641.6h0M880.9 638h0M878 640.8h0M877.6 631.6h0M879.8 646h0" stroke="#cdcaaa" stroke-width="1.2" stroke-linecap="round" opacity="0.7" fill="none"/><path d="M881.4 627.8h0M872.8 629.7h0M873.6 626.9h0M879.5 637.4h0M873.8 640.5h0M872.5 629.9h0M876.2 642.8h0M871.5 633h0M881 646.9h0M884.7 637.7h0M880.6 627h0M877.6 633h0M870.7 635.6h0M877.5 641.1h0M871.7 633.5h0M880.9 629.3h0M881.4 626.7h0M877.2 643.6h0M884.6 638h0M874.1 635.9h0M878.5 642.5h0M880.1 635.7h0M876.4 641.2h0M875.6 639.3h0" stroke="#cdcaaa" stroke-width="2.0" stroke-linecap="round" opacity="0.7" fill="none"/><path d="M881.4 634.2h0M884 640.4h0M884.8 633.1h0M872 635.7h0M872.9 645.1h0M881.7 639.3h0M875.6 640.7h0M883.1 634.5h0M885.1 636.5h0M883.3 636.3h0M878.6 636.3h0M879 646.4h0M871.1 639.9h0M880.4 629.8h0M872.5 641.8h0M883.5 631.1h0M877.6 626.4h0M871.1 635.8h0M883.6 636.7h0M875.3 638.6h0M874.8 628.8h0M874.8 647.4h0M876.2 638.1h0M884.3 632.1h0M877.4 641.9h0M881.1 636.2h0M875.4 646.5h0M873.7 641.4h0M872.3 644.5h0M871.7 633.2h0M879.7 632.4h0M875.6 647h0M873.8 631.6h0M872.2 634.7h0M876.9 639.9h0M876.4 646.9h0M880.4 644.2h0M874.3 634.4h0M878.1 626.6h0M877.4 644.9h0M881.6 632.9h0M881.8 630.4h0M877.4 642.6h0M874.8 632.4h0M883.3 628.7h0M875.7 638.1h0M873.3 629.5h0M882.6 629h0M874.6 642.7h0M885.3 640.1h0M882.2 628.9h0M873.2 630.9h0" stroke="#8a8a60" stroke-width="2.0" stroke-linecap="round" opacity="0.7" fill="none"/><line x1="872.9" y1="638.4" x2="872.9" y2="650.4" stroke="#b58a80" stroke-width="0.9" opacity="0.6"/></g><polygon points="579.7,598 580.6,600 580.8,602.1 581.5,604.3 581.9,606.4 581.9,608.6 582.4,610.7 583.2,612.9 583.6,615 584.3,617.2 583.7,619.3 583.9,621.5 584.1,623.6 585.7,625.8 584.8,627.9 586.1,630 585.7,632.2 586.6,634.3 586.5,636.5 585.4,638.6 586,640.8 585.1,642.9 585.1,645.1 585.3,647.2 584.9,649.4 584.8,651.5 583,657.5 576.5,657.5 574.5,651.5 573.6,649.4 572.9,647.2 572.9,645.1 574.2,642.9 573.6,640.8 573.4,638.6 574.5,636.5 574.8,634.3 573.4,632.2 574.2,630 573.4,627.9 573.1,625.8 574.6,623.6 574.8,621.5 575.1,619.3 576.4,617.2 575.8,615 575.9,612.9 576.8,610.7 577.6,608.6 577.9,606.4 578.3,604.3 578.3,602.1 578.7,600" fill="#8c8a8f" opacity="1"/><polygon points="587,595 587.7,597 588.4,599.3 588.4,601.5 588.9,603.8 589.5,606.1 589.7,608.4 589.9,610.6 590.8,612.9 590.4,615.2 591.3,617.4 592,619.7 592.2,622 592,624.2 592,626.5 593,628.8 593.4,631.1 593.1,633.3 592.1,635.6 593.3,637.9 592.3,640.1 592.7,642.4 593.3,644.7 592.3,647 592.3,649.2 592.4,651.5 590,657.5 584,657.5 582.1,651.5 580.6,649.2 582.1,647 582.3,644.7 580.8,642.4 581.7,640.1 581.1,637.9 581.8,635.6 582.3,633.3 581.7,631.1 582,628.8 581.7,626.5 582.7,624.2 582.9,622 582.7,619.7 582.5,617.4 582.9,615.2 583.8,612.9 584.1,610.6 584.7,608.4 584.4,606.1 585.3,603.8 585.7,601.5 585.8,599.3 586.2,597" fill="#b6b9b8" opacity="0.95"/><polygon points="602.8,598 603.6,600 604.3,602.1 604.8,604.3 605,606.4 605.4,608.6 605.2,610.7 605.6,612.9 607,615 606.5,617.2 607,619.3 608,621.5 607.8,623.6 607.8,625.8 609.6,627.9 609.1,630 608.7,632.2 609.4,634.3 609.5,636.5 608.6,638.6 609.4,640.8 608.1,642.9 607.8,645.1 609.1,647.2 608.9,649.4 608.9,651.5 606,657.5 599.5,657.5 597.6,651.5 597.5,649.4 596.8,647.2 596.8,645.1 596.6,642.9 596.3,640.8 596.2,638.6 597.1,636.5 597.9,634.3 596.3,632.2 597,630 597,627.9 597.6,625.8 598.2,623.6 598.1,621.5 599,619.3 599,617.2 599,615 599.7,612.9 600.2,610.7 600.6,608.6 600.5,606.4 600.8,604.3 601.6,602.1 602,600" fill="#8c8a8f" opacity="1"/><polygon points="635.2,595 635.9,597 636.3,599.3 636.9,601.5 637.4,603.8 637.4,606.1 637.9,608.4 638,610.6 639.1,612.9 638.6,615.2 638.7,617.4 639.3,619.7 640.8,622 640.1,624.2 640.9,626.5 641.3,628.8 639.9,631.1 640.3,633.3 640,635.6 640.5,637.9 641,640.1 640.8,642.4 641,644.7 640.5,647 640.2,649.2 641.2,651.5 638.2,657.5 632.2,657.5 630.6,651.5 629.1,649.2 630.2,647 629.2,644.7 630,642.4 630.3,640.1 629.5,637.9 628.9,635.6 629.8,633.3 630.7,631.1 630.4,628.8 629.5,626.5 629.9,624.2 630.9,622 630.9,619.7 630.7,617.4 632,615.2 632.2,612.9 632.3,610.6 632.4,608.4 633.2,606.1 633.3,603.8 633.5,601.5 634.1,599.3 634.3,597" fill="#b9bcbb" opacity="0.95"/><polygon points="644.7,598 645.6,600 645.9,602.1 646.5,604.3 646.5,606.4 646.8,608.6 647.7,610.7 647.7,612.9 648.2,615 648.1,617.2 648.7,619.3 649.2,621.5 650.4,623.6 650.1,625.8 650.2,627.9 649.7,630 650.9,632.2 651.1,634.3 650.9,636.5 651.5,638.6 651.4,640.8 651.2,642.9 651.6,645.1 649.6,647.2 649.9,649.4 649.9,651.5 648,657.5 641.5,657.5 639.2,651.5 639.8,649.4 639.7,647.2 639,645.1 639.5,642.9 638.2,640.8 638.1,638.6 639.2,636.5 638.1,634.3 638.8,632.2 638.5,630 638.4,627.9 638.4,625.8 640.2,623.6 640.5,621.5 640.1,619.3 639.9,617.2 641,615 641.1,612.9 641.6,610.7 641.9,608.6 642.4,606.4 642.9,604.3 643.3,602.1 643.7,600" fill="#8c8a8f" opacity="1"/><polygon points="661.4,595 662.1,597 662.4,599.3 662.9,601.5 663.4,603.8 664,606.1 664,608.4 664.7,610.6 665.1,612.9 665.2,615.2 666.1,617.4 665.4,619.7 667,622 666.4,624.2 667.8,626.5 667.3,628.8 665.9,631.1 667.4,633.3 666.7,635.6 666.1,637.9 667.2,640.1 666.4,642.4 667.4,644.7 666.5,647 667.3,649.2 666.2,651.5 664.4,657.5 658.4,657.5 655.1,651.5 655.6,649.2 655.8,647 655.9,644.7 656.1,642.4 655.7,640.1 656.6,637.9 656.7,635.6 655.8,633.3 656.7,631.1 655.9,628.8 656.4,626.5 655.4,624.2 655.8,622 657.7,619.7 657,617.4 657.3,615.2 657.8,612.9 658.4,610.6 658.7,608.4 659.4,606.1 659.7,603.8 659.9,601.5 660.4,599.3 660.6,597" fill="#b9bcbb" opacity="0.95"/><polygon points="677.5,594 678.4,596 679,598.3 679.1,600.6 679.9,602.9 680.3,605.2 681,607.6 681.3,609.9 682,612.2 681.7,614.5 682.1,616.8 683.2,619.1 683.9,621.4 684.3,623.8 684.9,626.1 684.5,628.4 683.8,630.7 684.4,633 684.8,635.3 683.2,637.6 683.8,639.9 683.3,642.2 685,644.6 683.6,646.9 685,649.2 683.6,651.5 681,657.5 674,657.5 671.6,651.5 671.6,649.2 670,646.9 670.6,644.6 671.4,642.2 671.1,639.9 671,637.6 672.1,635.3 671.4,633 671.3,630.7 671.7,628.4 671.5,626.1 672.1,623.8 671,621.4 671.4,619.1 672.6,616.8 672.9,614.5 673.7,612.2 673.6,609.9 674.1,607.6 675.2,605.2 675.5,602.9 675.4,600.6 676.2,598.3 676.4,596" fill="#8c8a8f" opacity="1"/><polygon points="719.6,595 720.6,597 720.6,599.3 721.4,601.5 721.7,603.8 721.6,606.1 722.6,608.4 722.4,610.6 722.7,612.9 722.7,615.2 723.4,617.4 723.5,619.7 725.1,622 725,624.2 725.6,626.5 725.5,628.8 724.9,631.1 725.2,633.3 724.7,635.6 724.5,637.9 725.5,640.1 725.8,642.4 724.4,644.7 725.7,647 725.8,649.2 724.7,651.5 722.6,657.5 716.6,657.5 713.6,651.5 713.5,649.2 714.2,647 713.9,644.7 714.8,642.4 715.1,640.1 713.4,637.9 713.2,635.6 714.4,633.3 713.3,631.1 713.4,628.8 713.8,626.5 714.9,624.2 713.9,622 715.6,619.7 716.2,617.4 716.4,615.2 716.3,612.9 716.1,610.6 716.8,608.4 717.2,606.1 717.4,603.8 718,601.5 718.3,599.3 718.8,597" fill="#b9bcbb" opacity="0.95"/><polygon points="729.3,606 730.1,608 730.3,609.8 730.4,611.6 731.1,613.4 731,615.2 731.3,617.1 731.7,618.9 732.4,620.7 732,622.5 732.2,624.3 733.1,626.1 733,627.9 734.2,629.8 733.5,631.6 734.2,633.4 734.2,635.2 734.4,637 733.1,638.8 734.3,640.6 733.5,642.4 734.4,644.2 734.6,646.1 733.8,647.9 734.6,649.7 734.3,651.5 731.8,657.5 726.8,657.5 725.1,651.5 724.5,649.7 725.4,647.9 725.1,646.1 724.5,644.2 724.2,642.4 725.4,640.6 724.6,638.8 725.3,637 724.1,635.2 724.5,633.4 725.1,631.6 724.5,629.8 724.6,627.9 725.2,626.1 726.4,624.3 725.9,622.5 726.3,620.7 727,618.9 726.8,617.1 727.4,615.2 727.9,613.4 728,611.6 728.3,609.8 728.6,608" fill="#8c8a8f" opacity="1"/><polygon points="770.1,598 771.1,600 771.6,602.1 771.8,604.3 772.1,606.4 772.4,608.6 772.5,610.7 773.6,612.9 773.4,615 773.9,617.2 774.1,619.3 774.6,621.5 775.3,623.6 776.1,625.8 775.3,627.9 776.5,630 775.2,632.2 777,634.3 775.6,636.5 776.9,638.6 776.6,640.8 775.5,642.9 775.8,645.1 775.3,647.2 776.7,649.4 776.5,651.5 773.4,657.5 766.9,657.5 764.2,651.5 763.1,649.4 764.4,647.2 764.4,645.1 764.5,642.9 763.3,640.8 763.6,638.6 763.2,636.5 763.3,634.3 763.9,632.2 763.5,630 764.4,627.9 764.2,625.8 764.4,623.6 765.8,621.5 766.4,619.3 766.5,617.2 767,615 766.2,612.9 767.1,610.7 767.6,608.6 768.3,606.4 768.2,604.3 768.7,602.1 769.1,600" fill="#8c8a8f" opacity="1"/><polygon points="784.8,595 785.5,597 785.9,599.3 786.5,601.5 786.7,603.8 786.8,606.1 787.5,608.4 788.2,610.6 788.4,612.9 788.6,615.2 788.7,617.4 789.1,619.7 789.4,622 789.1,624.2 789.9,626.5 790.8,628.8 791,631.1 790.4,633.3 789.3,635.6 790.5,637.9 789.6,640.1 789.9,642.4 790.7,644.7 790,647 790.9,649.2 790.6,651.5 787.8,657.5 781.8,657.5 778.8,651.5 779.8,649.2 778.8,647 780,644.7 778.6,642.4 779.3,640.1 778.7,637.9 780.2,635.6 779.7,633.3 778.9,631.1 778.9,628.8 778.7,626.5 779.6,624.2 780.2,622 779.8,619.7 780.7,617.4 780.4,615.2 781.5,612.9 782.1,610.6 782.1,608.4 782.7,606.1 783.2,603.8 783,601.5 783.4,599.3 783.9,597" fill="#b9bcbb" opacity="0.95"/><polygon points="797.9,612 798.6,614 798.7,615.6 799,617.1 799.5,618.7 799.7,620.2 800.1,621.8 799.9,623.4 800.8,624.9 800.2,626.5 800.5,628.1 801,629.6 801,631.2 801.5,632.8 801.6,634.3 801.5,635.9 802.3,637.4 802.3,639 801.4,640.6 802.4,642.1 801.3,643.7 802.3,645.2 801.4,646.8 801.4,648.4 801.5,649.9 801.4,651.5 800.1,657.5 795.6,657.5 793.3,651.5 793.1,649.9 794,648.4 794.4,646.8 794.3,645.2 794.4,643.7 793.7,642.1 793.8,640.6 793.9,639 793.2,637.4 793.3,635.9 794.2,634.3 793.4,632.8 794.1,631.2 795.1,629.6 794.6,628.1 794.9,626.5 795.5,624.9 795.3,623.4 795.8,621.8 796.3,620.2 796.4,618.7 796.6,617.1 796.9,615.6 797.4,614" fill="#8c8a8f" opacity="1"/><polygon points="847.6,591 848.5,593 848.7,595.4 849,597.9 849.7,600.3 850.1,602.8 850.2,605.2 851.3,607.6 851.2,610.1 852.1,612.5 851.5,614.9 853.1,617.4 852.5,619.8 854,622.2 854.2,624.7 853.5,627.1 854.3,629.6 852.6,632 853.6,634.4 853.7,636.9 852.8,639.3 854.3,641.8 853.8,644.2 852.7,646.6 853.5,649.1 853.8,651.5 850.9,657.5 844.4,657.5 841.9,651.5 842,649.1 841.4,646.6 840.9,644.2 842.4,641.8 842.1,639.3 841.5,636.9 842.5,634.4 841,632 841.9,629.6 840.6,627.1 841.1,624.7 841.8,622.2 841.5,619.8 843,617.4 843,614.9 843.9,612.5 843.5,610.1 844.8,607.6 844.7,605.2 845.4,602.8 845.4,600.3 846.2,597.9 846.1,595.4 846.8,593" fill="#8c8a8f" opacity="1"/><rect x="539" y="639.3" width="331" height="18.2" fill="url(#lat)" opacity="0.75"/><rect x="539" y="657.4" width="330.8" height="8.1" fill="#668644"/><path d="M602.8 661.1h0M832.1 659.1h0M661.6 660.3h0M632.6 661.9h0M687.4 663h0M706.9 664.3h0M780.2 662.5h0M816 661.5h0M784.7 664.8h0M808.7 662.9h0M723.1 664.1h0M833.8 661.5h0M594.1 662.4h0M787.5 660.9h0M785.5 662h0M745.7 659.6h0M567.7 661.1h0M747.5 664.5h0M631 662.4h0M786.5 662.9h0M809.3 662.2h0M599.5 658.6h0M735.5 660h0M841.5 658.2h0M862.5 661.6h0M649.4 662.6h0M653.6 664.8h0M605 663.4h0M826.3 664.4h0M603 664.8h0M860.4 658.4h0M619.6 664.6h0M660 660.2h0M683.5 663.7h0M838.4 664h0M854.6 658.2h0M711.4 663.7h0M820.8 659.2h0M639 664.6h0M807.8 663.5h0M606.8 660.6h0M593.3 662.9h0M688.7 663.5h0M545 661.5h0M553.6 659.8h0M865.2 664.2h0M600.1 659.7h0M843.1 662.5h0M579 661.5h0M758.7 663.9h0M544.4 662.3h0M613.7 664.2h0M559 659.8h0M640.5 659.9h0M542 662.3h0M633.3 664.3h0M624.9 662.9h0M616.5 661.9h0M725.9 658.8h0M632.7 659.5h0M866.6 662.6h0M672.7 661.2h0M704 659.6h0M831.6 659.8h0M775 661.1h0M603.5 661.4h0M665.8 664.7h0M722.3 662.2h0M612.8 661.9h0M703.6 660.1h0M794.9 663.9h0M682.3 659.8h0M634.3 664.9h0M800.2 661.1h0M821.1 663.1h0M550.1 660.6h0M629.4 659.7h0M857 658.7h0M838.6 660.1h0M788 661.2h0M868.6 662.5h0M634.6 659.3h0M808.2 658.5h0M642.6 658.4h0M775.7 662.4h0M763.1 659.9h0M748.3 659.6h0M618.1 661.2h0M739.4 659.9h0M627.3 662.3h0M600.8 660.2h0M665.4 661.1h0M798.8 664.9h0M683 663.5h0M717 661.7h0M674.4 660h0M823 663.9h0M781.6 660.1h0M769.1 662.2h0M672.1 658.9h0M864.8 658.3h0M545.1 662.5h0M734.8 664h0M541.3 664.3h0M832.9 664.6h0M789.2 660.8h0M694.4 664.6h0M698.4 660.8h0M729.6 659h0M764.5 663h0M664.4 664.5h0M796.6 660.3h0M774.8 659.9h0M611.1 662.8h0M726.7 661.3h0M755.1 661.3h0M575.6 659.6h0M785.1 661.8h0M797.6 662.6h0M785.5 659.1h0M675 662h0M710.4 659.1h0M817.1 659.9h0M867.9 658.6h0M601.1 658.8h0M623.1 658.7h0M640.1 662.1h0M612 661.2h0M866.6 658.2h0M810.8 664.1h0M624.8 659.4h0M791 662.5h0M754.2 664.6h0M632 664.6h0M730 658.7h0M854 661.6h0M674.6 663.8h0M786.8 660.9h0M835.8 664h0M562.3 663.4h0M730.9 660.4h0M629.2 662.6h0M568.4 664.5h0M726 663.8h0M696.5 662h0M739.3 661.5h0M806.7 662.7h0M697.9 659.7h0M733 662.7h0M733.6 664.1h0M771.3 664.7h0M707.1 660.3h0M557.5 660.1h0M657.1 661.6h0M611 663.9h0M596.1 658.5h0M747.4 663.5h0M639 664.3h0M780.9 662.1h0M664 660.5h0M654.9 664h0M674.3 661.4h0M572.1 664.1h0M860.3 663.4h0M585.6 664.4h0M616 662.5h0M597.8 659h0M774.8 659h0M552 663.6h0M670.7 662h0M825.4 661.7h0M595.9 658.1h0M842.2 659.7h0M754.9 660h0M638.5 658.9h0M763.6 659.6h0M576.7 661.9h0M850 658.6h0M748.2 662.6h0M833.5 664.4h0M840.1 664.8h0M647.8 660.7h0M782.4 664.8h0M594.9 664.8h0M547.9 659.7h0M833.1 661.1h0M555.8 658.3h0M584.8 662.9h0M659.5 659.2h0M647.3 662.5h0M837.3 663h0M577.9 658.3h0M834.3 664.4h0M574.1 663.9h0M593.9 664.1h0M704.3 661h0M648.7 661.3h0M596 659.7h0M673.6 658.7h0M576.7 659.3h0M851.7 660.6h0M826.9 662.4h0M858.2 659.1h0M673.2 662.9h0M620.2 664.9h0M791.7 658.5h0M824.4 663.3h0M758.9 663.2h0M702.2 658.5h0M810.8 658.9h0M743.9 658.1h0M806.1 660.7h0M615.4 663.8h0M670.2 659.7h0M560.8 660.1h0M723.9 661.2h0M707.4 663h0M854.8 662.5h0M684.1 658.1h0M578.2 659.9h0M680.1 662h0M603.8 658.9h0M809.7 660.8h0M544 663.3h0M737.2 658.3h0M576.1 662.6h0M866.6 660.7h0M727.5 664h0M843.9 661.6h0M585.3 662.4h0M832.3 659.7h0M717 659.8h0M636.4 664.3h0M823.5 662.6h0M830.7 658.3h0M779.7 658.2h0M815.4 659.9h0M740.1 659h0M559.1 661.7h0M717.1 658.1h0M610.5 661.8h0M832.4 663.4h0M796.5 660.5h0M864 658.6h0M733.6 663.5h0M671.7 664.9h0M732 658h0M834.7 664.1h0M825.7 663.4h0M678 660.3h0M603.5 661.5h0M729.2 659h0M656.5 660.3h0M571 664.1h0M624.4 664.6h0M648.4 658.7h0M662.1 661.7h0M563.4 659.2h0M634.8 662.4h0M778.8 664.8h0M800.6 663.7h0M732.1 661.9h0M675 661.2h0M824.4 658.7h0M647.3 663.5h0M661 660h0M593.6 658.7h0M616.8 664h0M809.5 662.7h0M638.4 661.1h0M667 661.6h0M568.7 663.9h0M776.4 664.5h0M860.6 658.7h0M661.5 658.4h0M709.3 662.9h0M759.5 658.4h0M619.2 664.1h0M838.2 664.1h0M629.6 658.2h0M631.6 660.2h0M541.2 660.6h0M687 660.7h0" stroke="#8aa660" stroke-width="1.3" stroke-linecap="round" opacity="0.75" fill="none"/><path d="M709 661.5h0M611.3 664.5h0M595.7 662.7h0M747 664.3h0M736.5 664.6h0M807.6 662.6h0M674.6 659h0M854.7 661.7h0M615.7 660.8h0M648.9 658.8h0M608.6 660.3h0M787.5 663h0M605.1 664.2h0M869 664h0M849.9 659.5h0M685.6 658.3h0M650.9 664h0M706.1 661.6h0M839 660.8h0M656.1 663.2h0M676.2 662.2h0M747.3 661.8h0M643.4 660.4h0M567.6 658.8h0M852.1 661.6h0M635.6 662.5h0M606.9 663.9h0M613.9 659.2h0M571 663.6h0M715.4 661.5h0M646.5 662.7h0M844.2 659.2h0M839.7 661.4h0M619.6 659.8h0M677.4 659.8h0M657.3 664.8h0M592 662.4h0M832.7 661.9h0M610 662.6h0M776.7 663.9h0M655.4 663.9h0M654.1 662.7h0M777.9 662.9h0M627.4 660.3h0M641.9 658.9h0M672.6 659.9h0M577.7 659.2h0M603.2 662.7h0M830.2 663.2h0M821.1 663h0M800.1 663.2h0M833.1 662.2h0M756.3 662.9h0M703.2 660.3h0M740.1 658.2h0M808.9 658.1h0M546 662h0M819.3 662.3h0M548.4 663h0M691.1 661.3h0M759.4 664.5h0M797.2 663.3h0M603.1 663.4h0M846.4 659.2h0M627.8 664.2h0M604.5 660.3h0M672.1 658.4h0M810.1 662.5h0M640.3 661h0M648.9 660.7h0M691.3 660.2h0M590.1 659h0M603.9 658.5h0M577.1 661.9h0M860.5 658.3h0M564.9 663.3h0M637.1 663.4h0M707.3 660.1h0M809.6 661.8h0M861.6 662.5h0M656.7 658.9h0M553.3 658.6h0M755.8 664.1h0M692.9 661.9h0M820.4 660.7h0M627.4 658.3h0M671.5 661.6h0M811.6 658.2h0M553.9 662.3h0M616.1 658.9h0M846.1 662.6h0M823.7 658.2h0M806.1 661h0M608.7 661h0M580.9 659.6h0M860.6 661h0M702.2 662.7h0M599.6 662h0M622.8 660.6h0M606.5 661.3h0M706.4 660.5h0M697.7 660.7h0M601.9 658.1h0M779.3 663.1h0M727.1 658.9h0M782.5 660.9h0M631 662.8h0M558.8 663.5h0M686.7 663.4h0M698.8 662.8h0M603.9 659.5h0M669.2 662.6h0M579.8 658.8h0M817.4 661.5h0M575.1 659h0M840.4 664.3h0M541.9 662.7h0M726.4 664.5h0M548.9 660.5h0M823.1 663.3h0M825.5 662.5h0M544.3 662.8h0M601.8 662.1h0M699.9 660.2h0M776.9 661.5h0M748.6 663.1h0M613.7 663.5h0M734.5 664.6h0M572.3 662.3h0M608.3 663.8h0M663.1 659h0M831.5 658.4h0M592 661.6h0M583.2 660.8h0M585.9 663.8h0M702.6 661.3h0M733.7 664.6h0M637.7 660.2h0M676.8 658.7h0M606.6 659.7h0M802 664.1h0M856.8 660.6h0M699.1 658.4h0M654.8 659.1h0M789.3 658.8h0M766.8 662.5h0M600.7 663.3h0M617 661.8h0M588.1 661.4h0M584.8 662.2h0M850 660.2h0M730 659.1h0M685.4 659h0M738.3 660.5h0M656.9 658.1h0M568.8 662.1h0M857.6 664h0M742.9 664.9h0M660 660.3h0M638 663.9h0M584.7 662.8h0M708.7 662.7h0M725.4 664.1h0M771.4 663.7h0M694.5 664.7h0M816.6 658.7h0M735.7 664.6h0M729.7 659.4h0M683.9 661.7h0M780.1 663.2h0M642.4 659.5h0M741.9 661h0M654.7 659.2h0M575.6 660.6h0M631.6 662.9h0M717.7 663.8h0M867.4 661.6h0M648.3 662.5h0M809.5 660.1h0M653.7 659.3h0M821.8 660.2h0M785.3 664.8h0M777.1 662.3h0M646.4 659h0M607 663.3h0M825.7 660.2h0M666.3 660.6h0M678.3 660.6h0M819.4 663.3h0M627.6 663.3h0M698.2 662.8h0M859.2 661.4h0M673.4 658.8h0M778.3 659.8h0M727.7 662.9h0M694.5 661.3h0M858.4 659.9h0M780.1 662.4h0M620.1 664.5h0M706.4 661.4h0M775.8 660.2h0M550.2 661.7h0M655.1 663.3h0M742.9 661.7h0M743.7 660h0M825.2 659.8h0M827.1 663h0M784.9 663.5h0M665.4 659.1h0M766.9 664.3h0M722.9 660.2h0M669.2 658h0M748.3 661.4h0M848.9 663.8h0M840.9 662.2h0M685.6 661.2h0M662.1 664.4h0M669.7 659.3h0M788.1 664.5h0M655.8 662.5h0M645.5 658.1h0M540.3 664.3h0M798.6 658.3h0M850.3 663.2h0M796.1 662h0M603.3 662.4h0M575.9 662.4h0M640.5 663.3h0M842 660.3h0M637.6 660.6h0M797 663.7h0M555.7 662.3h0M631.5 664.8h0M738.7 659.2h0M768.9 661.4h0M644.9 660h0M726.1 658.8h0M836.8 663.8h0M778.5 662.2h0M862.9 663.3h0M829.8 661.7h0M558.3 664.9h0M614.6 659.4h0M667.6 660h0M746 659.1h0M720 662.3h0M856.5 659.7h0M567.2 660.5h0M712 659.7h0M866.8 661.1h0M680.3 660.2h0M600.1 660.8h0M713.3 661.2h0M845.6 662.4h0M608.1 660.8h0M709.8 659.8h0M601.2 658.6h0M600.3 663.6h0M824.5 660.6h0M552.7 659.9h0M580.5 658.4h0M755.6 662.9h0M831.9 664.2h0M577.2 663.2h0M838.2 658.1h0M590.3 659.6h0M613.6 664.6h0M811.2 661.2h0M854.9 659.7h0M711.9 664h0M616 661.5h0M827.6 662.2h0M587 663.5h0M634.5 664.5h0M683.4 658.2h0M838 658.3h0M603.5 663h0M796.7 662.8h0M628 663.1h0M562.5 661h0M827.2 658.8h0M759.1 662.6h0M566 661.3h0M594.9 664.3h0M548.3 664.4h0M619.2 659.8h0M669.9 663.4h0M596.4 664.8h0M827.9 658.4h0M775.8 658.6h0M578.4 664.8h0M771.1 662.3h0M633.9 663.4h0M863.9 659.2h0M769.5 664.1h0M613.3 662.8h0M805.1 660.3h0" stroke="#5a7a38" stroke-width="1.3" stroke-linecap="round" opacity="0.75" fill="none"/><path d="M663.6 660.1h0M862.7 662.5h0M720 661.5h0M590.1 660.7h0M789.1 664h0M812.4 664.2h0M716.1 663.5h0M563 662.4h0M858.5 664.5h0M651.2 660.8h0M678.8 659.9h0M669.2 662.7h0M554.6 664.3h0M619.4 659.2h0M704.7 662.1h0M723.9 662.1h0M638.7 662.8h0M645 663.2h0M759.3 663.8h0M868.9 659.3h0M828.2 661.9h0M746.6 659.4h0M759.5 659h0M668.2 662.2h0M555.3 662h0M605.1 658.8h0M671.1 662.7h0M819 658.8h0M659.7 660.3h0M749.6 660.7h0M588.6 662.2h0M781.1 661.6h0M762.2 663.6h0M697.8 659.3h0M609.5 659.6h0M816.4 658.3h0M773.4 664.8h0M738.2 660.1h0M831.9 663h0M670.9 659.2h0M686.5 661.5h0M610.1 658.9h0M799.9 659.3h0M554.5 663.1h0M670.8 661.6h0M764.2 661.9h0M769.1 663.1h0M596.5 658h0M796.5 664.8h0M777.8 660.9h0M727.2 658.7h0M753.1 663h0M868.2 664.3h0M667.7 663.5h0M674.6 663.5h0M587.8 662.3h0M612.5 663.4h0M746.1 661h0M637.4 661.2h0M560.5 662.1h0M687.5 662.3h0M824.9 662.1h0M682.3 662.2h0M589.5 660.2h0M601.1 662.5h0M573 658.5h0M630.5 659.5h0M679 664.6h0M747.8 661.6h0M839.6 659.2h0M749.6 664.6h0M633.3 660.7h0M710.8 662.7h0M699.7 663.2h0M735.4 664h0M686.5 661.5h0M614.5 658.4h0M652.1 663h0M569.5 661.4h0M631 662h0M566.5 660.1h0M849.3 659.4h0M648.3 664.8h0M573.2 660.5h0M797.2 663h0M610.9 659.3h0M660.1 661.6h0M752.7 664h0M675.1 664h0M677.1 662.5h0M754 659.9h0M638.6 661h0M548.8 660.1h0M828.2 659.8h0M635.5 661.6h0M714.1 664.4h0M709.6 664.5h0M601.4 662h0M740 661.8h0M844.6 662.4h0M645.6 661.5h0M770.8 662h0M668.2 658.1h0M654.7 662.8h0M576 662.7h0M806.6 658.5h0M646.7 659.9h0M821.1 660.8h0M662.5 662.3h0M637.7 659.2h0M586 663.9h0M550.1 662.8h0M774.2 658.5h0M619.6 659.1h0M672.1 659.6h0M615.4 660.2h0M724.7 662.8h0M764.6 660.9h0M817.8 664.2h0M808.7 658.2h0M864.1 658.8h0M645.1 662h0M712.8 660.3h0M835.1 663.7h0M605.8 664.7h0M749.7 658.5h0M559.4 659.7h0M651.5 663h0M557.9 660.1h0M665.3 659.4h0M732.2 661.1h0M696.6 659.9h0M805.7 658.3h0M672.9 658.7h0M603.6 663.8h0M660 662.5h0M643.1 659.4h0M771.4 664.9h0M785.2 662.7h0M778.8 663.5h0M807.2 658.3h0M577.4 659.4h0M856.8 663.9h0M617.9 662.1h0M787.8 661.9h0M804.1 662.3h0M772.1 662.5h0M833.5 663.3h0M814.8 664.5h0M752.1 664.8h0M780.4 663.3h0M761.4 664.5h0M816.1 660.8h0M621.5 661.1h0M810.4 664h0M607.7 664.4h0M728.1 661.3h0M819.6 664h0M790.3 661.4h0M582 663.2h0M598.9 659.8h0M674.3 664h0M594.7 664h0M669.5 663.2h0M542.2 661.1h0M568.5 661h0M577 660.6h0M803.8 663.1h0M563.4 664.3h0M780.2 662.4h0M690.9 662.9h0M710.5 658.2h0M820.6 660.5h0M802.5 663h0M542.3 661.3h0M595 663.3h0M860.7 658.5h0M545.9 662.6h0M829.7 661.5h0M660.1 664.7h0M853.7 659.9h0M849.2 661h0M544.5 661.5h0M727.6 663.4h0M668 658.8h0M801.5 664.9h0M715.4 661.2h0M582.1 659.3h0M606.3 658.2h0M697.6 659.6h0M850.2 660.5h0M767.7 659.4h0M833.4 658.1h0M709.5 660.4h0M709.8 662.6h0M562.3 659.2h0M826.6 664.8h0M816.4 664h0M650.9 658.2h0M831.1 661.5h0M752 663h0M813.1 664.4h0M849.6 659.9h0M761.7 658.9h0M690 664.7h0M607.1 658.5h0M647.7 661.5h0M780.8 662.3h0M624.4 663.8h0M660.2 661h0M610.4 661.6h0M540 659.7h0M600.9 663.2h0M635.2 658.7h0M584.4 663.7h0M708.5 659.5h0M611.3 664.7h0M562.2 659h0M550.4 662.1h0M832.6 659h0M801.4 661.6h0M706.8 660.9h0M820.8 664.7h0M729.3 659.7h0M729.1 664h0M583.2 661.1h0M675.1 659.4h0M846.6 659h0M782.9 658.7h0M708.2 663.4h0M694.3 664.1h0M864.2 663.9h0M707.2 659.7h0M795.9 661.5h0M634.2 659.2h0M708.7 658.7h0M675 658.6h0M601.4 662.1h0M699.6 663.6h0M572 660h0M756.1 664h0M587.7 661.4h0M697.9 660.1h0M556.1 664.1h0M817.7 663.2h0M553.7 660.9h0M797.8 659h0M699.7 661.7h0M845.6 658h0M816.1 660.6h0M787 663h0M595.4 662.7h0M721.4 661h0M666.9 659.9h0M631.5 662.3h0M827.3 662.4h0M728.5 661.8h0M841 661.2h0M603.1 660.9h0M822.6 660.3h0M566 664.9h0M565.5 658.4h0M708 658.8h0M679.3 660.9h0M573.5 664.2h0M581.7 660.5h0M796.3 662.9h0M683.6 662.5h0M825.4 659.8h0M808.7 658.5h0M568.9 663.1h0M778 661.9h0M548.2 658.2h0M639.1 663.4h0M645.1 662.1h0M718.9 660.9h0M625.7 662.4h0M777.4 660.5h0M806.6 663.2h0M689.3 664.1h0M595.3 660h0M715.9 659h0M604.7 658.6h0M666.6 658.6h0M695.7 658.8h0M769.3 660.3h0M862.7 658.6h0M575.5 659.6h0M606.9 661.5h0M851.3 658.6h0M843.8 663.5h0M820.2 660.7h0M796.4 661.1h0M814.3 661.7h0M544.7 658.5h0M817.3 664.8h0M675.8 663.9h0M757.9 664.1h0M677.9 659.1h0M717.1 663.4h0M617.2 658.2h0M614 661.4h0M582.5 659.1h0M834.4 663.1h0M825.4 661.3h0M806.2 661.7h0M657.4 663.1h0M746.5 662.1h0M747.9 659.5h0M784.5 660.9h0M824.2 659.8h0M670.8 662.6h0M844.5 658.7h0" stroke="#4b6a30" stroke-width="1.3" stroke-linecap="round" opacity="0.75" fill="none"/><line x1="550" y1="653.5" x2="550" y2="665.5" stroke="#a58466" stroke-width="1.1"/><path d="M550,598C552.3,604 555.8,621.8 555.8,634.9C555.8,646.8 552.9,655.1 551,657.5L549,657.5C547.1,655.1 544.2,646.8 544.2,634.9C544.2,621.8 547.7,604 550,598Z" fill="#828449"/><path d="M550.6 654.1v2M551.8 633.3v1.2M552.6 619.5v2M547 638.2v2M551.9 615.3v2M551.5 625v2M554.2 626.7v2M545.4 632.2v1.2M551.2 612.5v1.2M552.9 650v2M554.6 633.3v2M546.6 647.9v1.2M550.5 647.8v1.2M553 619.6v1.2M549 605.4v2M547.6 621.3v1.2M548.9 630.7v1.2M552.3 644.9v1.2M552.5 609.9v2M549.1 633.5v1.2M551.6 646.6v1.2M550 631.6v2M546.8 617.4v2M549 621.8v1.2M548.8 630.3v2M545.9 635.6v1.2M549.6 628.8v1.2M551.4 628v2M550 606.6v2M548.2 626.2v1.2M554.3 638.2v2M551.9 608.8v2M549.4 603.9v2M550.2 601.2v2M548.4 615.4v2M550.2 606.1v2M549.4 633.9v1.2M545.9 633.3v2M549.7 607.9v1.2M549.5 604.1v1.2M548.4 645.3v1.2M552.4 608.7v2M551.9 615.2v2M548.7 610.1v1.2M551.6 613.8v2M552.2 644.7v1.2M548.4 606.9v1.2M551.9 617.6v1.2M551.9 624.3v2M546.4 621.7v1.2M549.7 633.6v2M550 601.3v1.2M551.3 619.8v2M545.9 625.5v1.2M551.5 637.5v2" stroke="#556135" stroke-width="1" stroke-linecap="butt" opacity="0.8" fill="none"/><path d="M550.7 610.7v2M550.8 602v2M548.5 654.4v2M551.2 609.4v2M547.4 635v2M550.8 624.2v1.2M551.4 628.2v2M546.2 630.1v2M548.8 603.2v2M554 630.7v1.2M549 605v2M549 624.3v2M548.2 616.7v2M548.8 604.4v1.2M545.8 639.8v1.2M551.9 628v1.2M546.2 628.4v1.2M550.1 647.9v2M553.9 630.5v1.2M547.8 631.8v2M548.6 612.8v2M550.1 640.2v2M549.1 606v2M552.8 643.7v1.2M546.1 628.8v1.2M545.8 631.4v1.2M548.8 603.2v2M552.4 616.6v2M550.1 640.7v1.2M546 621.7v2M548.3 611.6v1.2M546.9 631.2v2M547.5 619v1.2M553.5 617.5v1.2" stroke="#a8a266" stroke-width="1" stroke-linecap="butt" opacity="0.8" fill="none"/><line x1="572.8" y1="653.5" x2="572.8" y2="665.5" stroke="#a58466" stroke-width="1.1"/><path d="M572.8,598C575.1,604 578.6,621.8 578.6,634.9C578.6,646.8 575.7,655.1 573.8,657.5L571.8,657.5C569.9,655.1 567,646.8 567,634.9C567,621.8 570.5,604 572.8,598Z" fill="#828449"/><path d="M571.2 620.3v1.2M573.5 649v2M569.6 622.2v2M572.5 641.2v1.2M571.4 603v2M574.5 640.6v1.2M575.1 629.7v2M574.1 607.1v2M575.3 617v1.2M575.6 631.7v1.2M570.2 639.6v1.2M575.2 629.3v2M572.6 614v2M575.6 623.4v1.2M570.4 630v2M576.2 620.1v1.2M570.8 652.8v2M574.8 644.9v1.2M574 613.5v1.2M576.8 629.1v2M572.7 601.7v2M572 638.3v2M570.7 640v2M572.2 632.6v1.2M571.2 652.3v1.2M573.2 601.3v1.2M575.5 614.6v2M573.3 618.3v1.2M570.5 638.3v1.2M573.3 607.4v2M576.4 627.6v1.2M574.6 638.6v1.2M570.6 650.9v2M574 614.9v2M570.3 612v1.2M571.4 654v1.2M572 653.1v1.2M573.8 651.6v2M572.3 606v1.2M572.1 644.7v1.2M574.2 640.1v2M573 617.6v1.2M574 623.9v1.2M571.2 609.7v1.2M572.8 604.4v2M575.8 633.5v1.2M570.2 651v2M568.8 623.5v1.2M568.6 641.1v2M571.6 651.2v1.2M571.9 610.8v2M572.9 627.5v1.2M571.1 631.7v1.2M575.5 636.6v1.2M570.7 607.7v1.2M572 601.4v1.2M574.2 647.2v1.2M571.4 648.3v2M571.8 618.4v2M570.5 626.6v1.2M572.1 615v2M574.8 645.2v2M576.8 628.9v1.2M574.5 605.3v1.2M571.3 649.8v1.2M570.1 612.2v1.2M570.5 612.2v1.2M574.7 620.1v2M572.1 640.5v1.2" stroke="#556135" stroke-width="1" stroke-linecap="butt" opacity="0.8" fill="none"/><path d="M571.4 630.9v2M577.5 636.7v1.2M572.7 606.3v1.2M572.5 629v2M568.2 635.1v1.2M574.9 652.9v1.2M573.9 652.8v1.2M569.5 634.7v2M576.4 623.1v1.2M570.6 651.9v1.2M570.4 619.8v1.2M568.9 622.6v2M574.3 616.1v1.2M573.7 650.9v2M577.2 637.8v2M570.6 638.6v2M568.2 635.8v2M574 643.6v1.2M571.5 614.3v1.2M574.3 615.1v2" stroke="#a8a266" stroke-width="1" stroke-linecap="butt" opacity="0.8" fill="none"/><line x1="595.4" y1="653.5" x2="595.4" y2="665.5" stroke="#a58466" stroke-width="1.1"/><path d="M595.4,598C597.7,604 601.2,621.8 601.2,634.9C601.2,646.8 598.3,655.1 596.4,657.5L594.4,657.5C592.5,655.1 589.6,646.8 589.6,634.9C589.6,621.8 593.1,604 595.4,598Z" fill="#828449"/><path d="M592.6 623.1v1.2M592.9 646v1.2M596.2 602v2M592.2 634v1.2M598 615.2v2M596.7 627.3v1.2M595.9 605.7v2M599.1 618.8v1.2M594.5 619.7v2M594.5 614.6v1.2M594.5 619v1.2M598 642.4v1.2M594.2 618.6v1.2M594.4 636.9v2M593.4 611v2M596.7 653.3v2M595.1 649.5v1.2M596.3 609.3v2M592.7 646v1.2M592.9 648.6v2M593.9 629.5v1.2M594.2 602.9v2M594.9 653.7v2M591.9 629.5v1.2M595.7 649.2v2M598.5 648v2M593.2 632.1v2M594.9 608.5v2M593.9 609.2v1.2M595.3 616.5v2M596.6 628.7v2M599.2 621.6v1.2M591.3 627.1v1.2M596.8 646.2v2M594.9 614.2v1.2M597 611.4v1.2M597.5 634.8v2M595.3 634.7v2M595.6 624.2v2M593.2 643.2v2M599.2 620.4v1.2M594 617.2v1.2M597.7 635.6v2M591.1 629v2M595.5 641.7v1.2M594 619v2M599.8 631.8v2M592.4 639.5v1.2M594.7 629.6v1.2M597.4 619.9v1.2M594.7 646v2M594.3 615.9v2M595.5 650v2M592.1 623.1v2M594.8 638.3v1.2M597.2 628.9v2M597.7 648.6v2M595.9 604.7v1.2M592.8 634.1v1.2" stroke="#556135" stroke-width="1" stroke-linecap="butt" opacity="0.8" fill="none"/><path d="M599.1 643.7v1.2M598.6 632.4v1.2M596.4 642.8v2M592.8 613.4v1.2M597.5 612.6v1.2M595 615.5v2M596.8 612.8v2M592.6 640.8v1.2M595.7 601.6v2M593.1 648.8v1.2M596.8 642.1v1.2M598.9 618.4v2M591.4 627v2M597.6 620.2v2M597.5 633.6v2M593.2 609.5v2M598.8 617.6v1.2M597 608.8v2M594.8 653.2v2M594.7 647.5v1.2M596.9 646.5v2M594.3 648.3v1.2M596.7 604.8v2M594.3 629.9v1.2M597.1 642.4v2M593.6 619.3v2M595.1 649.9v2M595.7 629.6v1.2M592.2 639.5v1.2M597.8 640.3v2" stroke="#a8a266" stroke-width="1" stroke-linecap="butt" opacity="0.8" fill="none"/><line x1="618.2" y1="653.5" x2="618.2" y2="665.5" stroke="#a58466" stroke-width="1.1"/><path d="M618.2,598C620.5,604 624,621.8 624,634.9C624,646.8 621.1,655.1 619.2,657.5L617.2,657.5C615.3,655.1 612.4,646.8 612.4,634.9C612.4,621.8 615.9,604 618.2,598Z" fill="#828449"/><path d="M619.7 649.2v1.2M616 652v2M617.1 641v2M618.5 649.7v1.2M618.9 633.6v1.2M618.7 605v1.2M619.2 628.8v1.2M618.9 617.9v1.2M616.4 623.3v2M614.4 642.5v2M617.3 612.4v1.2M614.5 645.1v1.2M617.4 629.8v2M618.7 606v1.2M621.9 625.5v1.2M618.5 617.4v1.2M619.8 615.8v2M620.5 631.6v2M614.7 647.1v1.2M617.1 603.9v1.2M615.4 642.6v2M617.3 601.9v2M620.8 610.4v2M622 625.1v1.2M615.4 636.4v1.2M621.3 622.6v2M619.8 628.5v1.2M619.7 639.1v1.2" stroke="#a8a266" stroke-width="1" stroke-linecap="butt" opacity="0.8" fill="none"/><path d="M619 604.9v2M620.6 613.8v1.2M616.6 609.8v1.2M614.8 644.9v2M613.7 639.7v1.2M620.3 618v1.2M616.3 614.3v1.2M615.6 635.2v2M618.9 622.1v1.2M620.8 649.6v1.2M620.5 608.5v1.2M618 609.6v1.2M617.6 604.3v2M618.5 615.3v1.2M620.3 633.6v2M620.9 646.3v2M614 641v2M618.8 649.8v2M617.7 604.3v2M615.3 629.2v1.2M619 613.5v1.2M616.8 603.2v2M616.9 614.8v2M621.6 619.8v1.2M614.5 641.9v1.2M616.8 649.6v2M617.6 642.9v2M614.5 638.1v2M622.2 628v2M618.4 631.9v1.2M616.5 608.8v2M616.2 650.6v2M618 602.2v2M616.7 634.4v2M615.9 622.1v2M620.4 642.2v1.2M619.6 622.9v1.2M615.8 629v2M617.4 629.7v2M620.3 610.2v2M621.2 633.3v1.2M616.6 645.1v2M616.3 625.7v1.2M615.7 622.8v1.2M619.8 604.7v2M619.8 653v2M622.2 641v1.2M618.1 616v2M614.6 644.9v1.2M618.5 610v1.2M619.9 647.4v2M619.9 639.4v1.2M617 604.6v1.2M618.3 609.6v1.2M618 651.5v1.2M615.7 646.4v2M618.9 607.6v2M613.6 632v1.2M619.9 645.5v2M614.3 629.8v2M618.7 618.3v2" stroke="#556135" stroke-width="1" stroke-linecap="butt" opacity="0.8" fill="none"/><line x1="665.7" y1="653.5" x2="665.7" y2="665.5" stroke="#a58466" stroke-width="1.1"/><path d="M665.7,598C668,604 671.5,621.8 671.5,634.9C671.5,646.8 668.6,655.1 666.7,657.5L664.7,657.5C662.8,655.1 659.9,646.8 659.9,634.9C659.9,621.8 663.4,604 665.7,598Z" fill="#828449"/><path d="M663.9 622.2v1.2M669.6 619.5v2M666.8 603.4v2M665.9 609.3v2M664.6 651.8v1.2M661.8 624.6v1.2M663.9 605.6v2M666.8 649.4v2M663.1 616.9v2M668 626.2v1.2M664 640v1.2M668.7 617.5v2M668.1 644.7v2M665.9 646.6v1.2M662.4 645.6v2M664.1 615.7v2M666.2 645.7v2M665.7 645.3v1.2M665.9 602v1.2M662.5 634.8v1.2M667.1 646.9v2M662.6 643.3v1.2M667.7 652.8v2M665.2 616.2v2M661.2 638.3v2M663.3 636v2M662.7 642.3v1.2M663.1 615.1v2M668.5 631.3v1.2M669.3 641.5v1.2M667.3 648.1v2M663.2 630.6v1.2" stroke="#a8a266" stroke-width="1" stroke-linecap="butt" opacity="0.8" fill="none"/><path d="M668.8 629.1v1.2M663.5 608.3v1.2M665.8 606.8v1.2M664.2 640.7v1.2M667.7 618.6v1.2M663.6 646.5v2M668.1 622.4v1.2M667.5 650.9v1.2M668.3 617.2v1.2M664.7 626.9v2M663.1 649.8v2M666.5 615.6v1.2M661.9 627.3v2M667 624.9v1.2M662.6 613.9v1.2M663.3 625.1v2M667.6 643.7v1.2M661.9 630.1v2M665.4 616.4v1.2M667.6 648.7v2M666.5 601.8v1.2M665.9 649.9v1.2M662.3 632.2v2M663.5 634.2v1.2M669.9 627.5v2M669.9 629.8v1.2M666.6 607.3v2M665.7 604.3v1.2M667.3 624.7v2M663.7 608.2v2M667.6 637.4v2M666.3 601.1v2M664.3 640.9v1.2M664.6 637.7v1.2M667.1 627.5v1.2M665.4 651.5v2M669.1 639.8v2M665.6 623.9v1.2M667.4 607.2v1.2M669.7 624.7v1.2M667.8 639.9v1.2M665.1 634.4v1.2M666.7 631v1.2M667.4 612.8v2M667.7 634.9v1.2M667 652v2M667.6 651.8v1.2M665.6 626.4v1.2M662.6 642.3v1.2M664.9 635v1.2M665.9 604.6v1.2M662.6 621.2v2M669.9 627.3v2M662.7 638.1v1.2M661.6 626.6v2M665.4 649.3v1.2M669.6 638.8v2" stroke="#556135" stroke-width="1" stroke-linecap="butt" opacity="0.8" fill="none"/><line x1="692.5" y1="653.5" x2="692.5" y2="665.5" stroke="#a58466" stroke-width="1.1"/><path d="M692.5,598C694.8,604 698.3,621.8 698.3,634.9C698.3,646.8 695.4,655.1 693.5,657.5L691.5,657.5C689.6,655.1 686.7,646.8 686.7,634.9C686.7,621.8 690.2,604 692.5,598Z" fill="#828449"/><path d="M691 626.9v2M692.1 629v1.2M695.1 641.8v2M694.8 627.2v1.2M693.8 613.2v1.2M690.3 623v2M693.3 629.1v2M688.6 625.6v2M694.2 621v1.2M694.1 605.1v1.2M695.5 625.9v1.2M691.1 617.7v1.2M688.2 625.5v1.2M689.2 637.7v2M693.6 616.1v1.2M691 628.7v2M694.7 643.8v1.2M691.3 605.9v2M691 629.2v1.2M691.5 617.1v2M692.2 626.4v2M694.1 647.6v2M692.3 622.9v1.2M693.7 612.2v2M691.2 614.3v1.2M691.8 650.3v1.2M689.4 644.1v1.2M695.9 632.8v2M690.4 634.8v2M694.1 635.2v2M692 626.1v2M692.5 649.9v2M693.6 605.8v2M690.5 623.6v1.2" stroke="#a8a266" stroke-width="1" stroke-linecap="butt" opacity="0.8" fill="none"/><path d="M693.9 628.4v1.2M689 625.7v1.2M693.8 644.4v1.2M696.5 636.2v1.2M690 647.8v1.2M692.3 603.1v2M689.1 635.9v1.2M693.6 603.2v1.2M693.4 602.8v2M694.7 652.5v1.2M690.1 640.1v1.2M691.6 631.5v2M692.4 640.1v2M691.5 640.8v1.2M694 627.8v1.2M693.1 643.3v2M691.5 651.5v2M691.6 618.9v1.2M690.4 619.9v2M689.9 644.7v1.2M694.6 614.4v1.2M691 610.4v1.2M693.7 632v2M693.6 649.4v2M690.8 641.3v2M693.4 635.9v1.2M692.8 612.4v2M695.9 614.8v1.2M690.7 616.9v1.2M693.7 614.7v2M696.6 627.8v2M690.5 624.7v2M691.4 609.7v1.2M693.3 622.3v1.2M693.6 616.9v1.2M694.5 608.5v1.2M688.6 619.3v2M697.1 639.7v1.2M697.1 632.2v2M693.3 621.6v2M694.5 648.5v2M693.4 616v2M688.5 629.9v1.2M690.6 612.1v1.2M690.8 648.6v1.2M694.7 622.8v2M695.8 643.6v1.2M689.9 616.4v2M690.8 615.4v1.2M692.4 642.4v1.2M688.6 635.1v1.2M693.7 612v2M695.4 618.4v2M696.4 636.2v1.2M691 638.2v1.2" stroke="#556135" stroke-width="1" stroke-linecap="butt" opacity="0.8" fill="none"/><line x1="710.6" y1="653.5" x2="710.6" y2="665.5" stroke="#a58466" stroke-width="1.1"/><path d="M710.6,598C712.9,604 716.4,621.8 716.4,634.9C716.4,646.8 713.5,655.1 711.6,657.5L709.6,657.5C707.7,655.1 704.8,646.8 704.8,634.9C704.8,621.8 708.3,604 710.6,598Z" fill="#828449"/><path d="M714.4 638.1v2M711.3 617.9v1.2M712.8 648.6v2M707.7 644.5v2M711.8 605.6v2M710.1 642v2M714.4 635.9v1.2M711.4 648.8v2M709.5 607v1.2M708.4 650.6v1.2M709.5 610.5v2M713.8 629.4v2M712.8 626.4v1.2M709 651.7v2M709.6 618.2v1.2M707.9 629.3v1.2M708.8 645.5v2M709.2 607.3v2M708.8 605.9v1.2M713.3 625.5v2M710.7 650.5v1.2M710.3 616.4v1.2M712.1 624.6v2M714.9 637.4v2M712.7 631.4v1.2M714.2 638.3v1.2M708.1 614.1v2M710.9 631.9v2M710.3 615.9v1.2M710.5 606.7v1.2M708.7 623.1v2M712.7 614.1v1.2M714.6 634.7v2M713.8 629.8v2M710.6 616.9v2M710.2 640.8v1.2M712.8 637.7v2M711 627.8v1.2M712.4 639v1.2M711.3 634.6v2M707.6 625.7v2M713.4 616.9v2M709.2 620.7v2M710.5 603.4v1.2M709.9 608.2v1.2M711.9 622.9v2M710.6 601.8v2M710.5 651.8v2M706.9 640.3v1.2M708.6 616v2M709.4 608v1.2M711.7 614v2M707.3 630.1v1.2M707.3 640.3v1.2M707.8 626.1v2M708.1 611v2M708.6 621.3v2M710.7 620.4v1.2M709.8 648.4v1.2M711.1 647.5v2M714.3 635.8v1.2M709.4 606.8v1.2M709.1 607.9v2M709.1 611.4v2M707.5 643.3v1.2" stroke="#556135" stroke-width="1" stroke-linecap="butt" opacity="0.8" fill="none"/><path d="M709.5 614.4v1.2M707.2 646.1v1.2M712.9 637.2v1.2M708.8 609v1.2M713 616.1v1.2M710.6 624.1v1.2M709 632.3v2M710.2 625.4v1.2M711.1 623.9v1.2M708.8 608.8v1.2M712.9 609.7v1.2M709.2 650.6v1.2M711.9 626.1v1.2M711.6 610.1v2M711.4 621.8v1.2M709.6 639.1v1.2M711 625v2M710.3 654v1.2M711.4 605v1.2M713.2 625.8v2M711.5 652.2v2M708.3 643.6v2M712.6 627.4v1.2M711 628.2v1.2" stroke="#a8a266" stroke-width="1" stroke-linecap="butt" opacity="0.8" fill="none"/><line x1="738.2" y1="653.5" x2="738.2" y2="665.5" stroke="#a58466" stroke-width="1.1"/><path d="M738.2,598C740.5,604 744,621.8 744,634.9C744,646.8 741.1,655.1 739.2,657.5L737.2,657.5C735.3,655.1 732.4,646.8 732.4,634.9C732.4,621.8 735.9,604 738.2,598Z" fill="#828449"/><path d="M738.4 648.5v2M742.6 631v2M738.9 645.2v2M737.1 637.8v1.2M738.8 627.4v2M737.5 639.9v2M735.9 627.3v2M735.4 625.5v2M736.6 641.7v2M741.9 638.1v2M741.1 619.4v2M739.6 616.2v1.2M736 614.4v2M738.8 601.7v2M734.6 636v2M742 629.8v1.2M737.9 614v2M740.7 643.7v1.2M738.7 635.4v2M737.6 604.4v1.2M735.9 636.5v1.2M737.9 608.2v2M738.6 610.9v2M738.1 637.7v1.2M736.8 606.4v1.2M739.8 647v1.2M736.6 649.8v2M733.7 630.5v1.2M734.8 642.1v2M734.7 621v1.2M739.3 603.4v2M736.2 625.6v1.2M737.7 623.4v1.2M736 611v1.2M740.4 607.2v1.2M741.1 645.8v1.2M738.8 653.7v1.2M739.1 606.7v2M733.6 629.9v1.2M736.6 614.7v1.2M736.5 620.7v2M734.1 625.2v1.2M737.3 604.4v2M736.7 649.5v1.2M740.3 636v2M739.3 604.3v1.2M734.9 622.8v2M737.3 638.9v2M740.5 609.3v1.2M741.2 631.8v1.2M739.6 627.8v1.2M738.9 619.6v1.2M741.9 635.4v1.2M741.1 643.2v1.2M739.9 632v2M735 614.7v2" stroke="#556135" stroke-width="1" stroke-linecap="butt" opacity="0.8" fill="none"/><path d="M736.4 627.1v2M734.3 638.4v1.2M738.7 609.5v1.2M739.8 627.1v2M735.8 643.4v2M738.6 619.1v2M739.7 643.9v1.2M740.9 613.2v1.2M740.1 645.6v2M739.9 612.3v2M737.7 603v1.2M736.4 613.3v1.2M737.3 610.9v1.2M736.2 614v1.2M740.8 620.1v2M738 615.7v1.2M739.3 652v1.2M738.3 608.1v1.2M740 643.6v1.2M736.7 622.4v1.2M740.1 612v2M739 602.4v1.2M742 634.8v2M738.3 603.4v1.2M738.9 618.3v1.2M735.6 637.1v1.2M736.9 616.7v1.2M734.8 647.6v1.2M739.2 608.3v2M740.3 626.3v1.2M735.8 650.8v2M736.5 629v2M740.5 636.6v2" stroke="#a8a266" stroke-width="1" stroke-linecap="butt" opacity="0.8" fill="none"/><line x1="791.7" y1="653.5" x2="791.7" y2="665.5" stroke="#a58466" stroke-width="1.1"/><path d="M791.7,598C794,604 797.5,621.8 797.5,634.9C797.5,646.8 794.6,655.1 792.7,657.5L790.7,657.5C788.8,655.1 785.9,646.8 785.9,634.9C785.9,621.8 789.4,604 791.7,598Z" fill="#828449"/><path d="M789.7 646v2M792.7 641.4v1.2M790.3 616.6v2M792.8 609.5v2M790.4 604.5v1.2M788.9 626.7v1.2M793.8 611.2v1.2M789.2 645.9v2M792.4 613.8v2M794.3 620.6v2M791.8 604.4v2M793.5 650.4v2M792.7 608.5v1.2M793.1 610.3v2M796 640.5v2M793 653.2v2M789.6 629.6v2M787.9 618.1v2M793.7 630.3v2M794.1 625.2v2M791.6 641.6v2M796.1 639.6v1.2M789.4 646v2M792 619.7v2M790.8 631.4v1.2M791.8 641.6v2M791.2 621.1v1.2M790.1 648.8v1.2" stroke="#a8a266" stroke-width="1" stroke-linecap="butt" opacity="0.8" fill="none"/><path d="M794.9 617.1v1.2M791.5 636.3v2M791.5 622.1v1.2M791.3 636.9v1.2M793.3 646.2v2M790.1 620.4v2M790.6 611.2v1.2M789.4 612.9v1.2M794.4 645.2v2M788.5 628.3v1.2M793.7 648.4v1.2M793.6 652.4v2M795.6 635.1v2M793 635.7v1.2M787.6 633.7v2M793.5 615.5v1.2M793.1 605.9v2M787 630.3v1.2M793 635.7v2M790.9 606.3v1.2M791.3 616v2M794.2 629.3v2M791.4 601.1v2M788.5 616.1v1.2M795 630v2M791.5 604.2v2M793.8 644.3v2M790.9 608.2v2M795.6 628.7v1.2M788.6 616.9v1.2M791 633.6v2M791 606.2v1.2M793.3 634.5v2M793.7 631v1.2M789.4 608.8v2M792.1 602.2v2M787.7 635.2v2M790.6 653v1.2M787.7 642.4v1.2M790.8 608.1v1.2M787.3 628.6v1.2M790.5 618v1.2M789.2 629.5v1.2M789.7 608.6v2M793.3 652.6v1.2M794.2 645v2M794.7 643v1.2M788.2 634.6v1.2M790.7 645.5v1.2M790.7 651.1v1.2M788.2 616.6v2M794.1 610.4v2M792.8 651.5v2M793.2 613.4v1.2M792.7 652v1.2M789.7 608.9v1.2M793.2 604.2v2M791.4 611.1v2M792.2 602.4v1.2M791.7 606.6v2M791 629.3v1.2" stroke="#556135" stroke-width="1" stroke-linecap="butt" opacity="0.8" fill="none"/><line x1="818.4" y1="653.5" x2="818.4" y2="665.5" stroke="#a58466" stroke-width="1.1"/><path d="M818.4,598C820.7,604 824.2,621.8 824.2,634.9C824.2,646.8 821.3,655.1 819.4,657.5L817.4,657.5C815.5,655.1 812.6,646.8 812.6,634.9C812.6,621.8 816.1,604 818.4,598Z" fill="#828449"/><path d="M818.8 601.2v2M816.2 631.8v1.2M819.6 610.8v2M819 616.8v2M818.3 645.5v2M814.5 619.9v2M816.8 632.2v2M822.6 624.4v1.2M821.8 622.2v2M818.3 603.1v2M821.2 645.5v2M816.7 624v1.2M815.2 647.7v1.2M817.9 643.7v1.2M816.1 620.1v1.2M819.6 643.2v2M818.4 651.3v1.2M817.3 649.8v1.2M814.6 625.3v1.2M819.9 620.5v2M815.8 624.4v2M814.9 640v1.2M821.4 627.3v2M814.5 624.5v1.2M816.5 636v1.2M815.5 616.7v1.2M817.4 618.1v1.2M816.7 607.4v1.2M816.9 623.6v2M813.9 634v1.2M820.1 638.6v2M819.4 603.6v1.2M820.2 635.8v2M818.3 622.3v2M819.3 636.9v1.2M821.5 648.6v1.2M819.2 653.8v1.2M820.8 610.2v2M815.5 636.3v1.2M821.4 619.2v2M819.3 651.4v2M821.2 611.4v1.2M815.5 625.9v2M815.5 644.6v2M819 623.5v1.2M818.1 620.4v1.2M814.7 640.9v1.2M819.2 618.1v1.2M817.3 647.7v2M815.3 629.8v1.2M818.4 649.9v2M820.3 633.8v2M818.2 647v2M816.7 651.6v2M816.9 611.6v1.2M816.6 641.6v1.2M820 644.4v2M817.1 653.5v2M818.4 627.1v2M820.2 607.2v2M820.3 614.9v2M820.5 607.8v1.2M816.7 649v1.2M820.7 622.8v1.2" stroke="#556135" stroke-width="1" stroke-linecap="butt" opacity="0.8" fill="none"/><path d="M819.1 618.5v2M815.7 617v2M819.2 601.5v1.2M818.3 644.6v2M820 644v1.2M815.2 624.2v1.2M819.4 608.4v1.2M816.7 641.6v2M822.6 622.5v2M818.9 616.4v2M816.7 628.3v1.2M816.1 624.2v2M816.6 630.3v1.2M816.3 633.5v2M819.8 644.5v1.2M819.6 607v2M816.9 630.8v1.2M823 629.2v1.2M821.3 618.1v1.2M817.9 616.8v2M822 634v1.2M821.7 620.8v2M815.4 612.9v2M820.5 637v1.2M814.9 632.7v1.2" stroke="#a8a266" stroke-width="1" stroke-linecap="butt" opacity="0.8" fill="none"/><line x1="837.2" y1="653.5" x2="837.2" y2="665.5" stroke="#a58466" stroke-width="1.1"/><path d="M837.2,597.5C839.5,603.5 843,621.5 843,634.7C843,646.7 840.1,655.1 838.2,657.5L836.2,657.5C834.3,655.1 831.4,646.7 831.4,634.7C831.4,621.5 834.9,603.5 837.2,597.5Z" fill="#7b8764"/><path d="M836.4 648.1v1.2M837.9 651.3v2M836.3 601.2v1.2M834.5 617.9v1.2M837.5 627.8v2M840.9 625.7v1.2M834.2 620.3v1.2M834 648.4v2M838.4 638.4v1.2M838.4 652.2v2M837.1 600.6v1.2M835.1 614.8v1.2M836.8 649.3v2M834.3 616.2v1.2M836.3 621.9v2M835.6 640.6v1.2M837.8 639.1v2M835.9 653.3v1.2M836.5 607.9v2M835.6 615.3v1.2M841.2 627.2v2M835.1 606.7v2M833 635.3v1.2M839.8 618.4v2M837.5 604.1v2M836.9 647.3v1.2M835.5 604.4v2M838 610.1v1.2M834.3 618.2v1.2M839.8 611.8v2M834.7 609.8v1.2M839.8 648.6v1.2M835.9 622.5v2M837 641.4v2M840 620.4v2M840.2 647.7v1.2M836.8 641.2v1.2M840.3 639v1.2M835 651.2v2M837.5 607.1v1.2M833.5 633.2v2M839.2 611.6v1.2M837.6 600.7v2M834.2 639v1.2M839.3 648.6v1.2M838.9 648.9v1.2M839.7 651v1.2M836.6 624.1v1.2M838.8 654.4v2M833.1 640.9v1.2M836 608.4v2M839.9 611.1v2M835.8 606.1v1.2M838.7 647.6v1.2M836.3 650.6v1.2M834.7 614.4v1.2M839.4 648.5v1.2M834.2 644.5v2M839.7 638.7v1.2M838.4 629.1v2M839.8 618.8v2M840.3 633.1v2" stroke="#5a684c" stroke-width="1" stroke-linecap="butt" opacity="0.8" fill="none"/><path d="M836.9 600.7v1.2M840.4 624.7v1.2M835.4 606v1.2M838.3 601.7v2M835.5 608.5v1.2M837.4 630.2v2M837.9 651.7v1.2M841.3 636.3v1.2M840.1 614.5v1.2M839.9 628.1v2M833.4 619.4v1.2M834 643.7v2M835.6 611.3v2M840.9 633.6v2M836.5 642.3v1.2M839 638.5v2M838.2 640.1v2M836.1 653v1.2M835.2 621.1v1.2M834.2 629.2v2M839.1 625.4v1.2M841.2 621.3v2M836.3 603.8v1.2M841.5 631.4v1.2M838.7 649.5v1.2M836.1 601.8v2M837.6 638.4v1.2M838.8 629.2v2" stroke="#9ea47f" stroke-width="1" stroke-linecap="butt" opacity="0.8" fill="none"/><line x1="863.7" y1="653.5" x2="863.7" y2="665.5" stroke="#a58466" stroke-width="1.1"/><path d="M863.7,598C866,604 869.5,621.8 869.5,634.9C869.5,646.8 866.6,655.1 864.7,657.5L862.7,657.5C860.8,655.1 857.9,646.8 857.9,634.9C857.9,621.8 861.4,604 863.7,598Z" fill="#828449"/><path d="M864.1 620.7v1.2M864 652.1v2M861.3 613.5v2M865 628.2v2M867.8 634v1.2M865.2 635.3v2M863.7 634.6v2M867.2 636.2v2M861.7 629.8v2M860.1 636.7v2M864 626.9v1.2M863.3 621.8v1.2M862.6 615v2M867.1 616.6v2M864.4 637.4v2M865.9 618.8v2M860.7 613.2v2M860 617.4v2M865 629.6v2M861.3 611.6v1.2M865.3 634.4v2M862.3 618v2M862.5 603v1.2M861.7 653v1.2M866 642.8v1.2M863.6 649.4v2M865.7 623.8v2M863.2 611.2v1.2M860.9 646.9v1.2M863.1 647.9v1.2M865.7 614.3v2M862.1 607.7v2M862.7 618.5v2M864.1 603v1.2M864.8 652.3v2M865.7 631.2v2M865 653.3v1.2M865.1 625.4v1.2M863.4 604.4v1.2M865.4 622.8v2M867.3 620.7v2M867.3 638.6v1.2M864.3 611.8v1.2M864.5 605.6v1.2M864.1 614v2M863.3 615v1.2M859.5 623.7v2M862.6 609.8v1.2M865.8 644.9v2M859.9 625.5v2M866.7 619.1v2M862.8 603.4v1.2M863 651.2v2" stroke="#556135" stroke-width="1" stroke-linecap="butt" opacity="0.8" fill="none"/><path d="M862.6 603.8v1.2M864.6 645.1v1.2M859.4 632v2M861.6 628.8v2M867 643.1v2M862.1 621.3v1.2M866.3 639.4v1.2M865.9 651.1v2M860 629.7v2M863 621v2M861 645.8v1.2M866.6 637.7v2M866.1 610.7v1.2M864 614v1.2M865.3 651.3v2M866.6 624.6v1.2M863.6 605.8v1.2M866.1 637.4v2M861.2 617.9v1.2M863.7 609.9v1.2M859.1 635.4v1.2M862.8 613.4v2M865.3 648.4v2M864.9 640.5v1.2M866.3 648.2v2M864.4 632.1v2M862.3 644.9v1.2M865.2 642.5v2M859.5 632.9v1.2M867.3 620.7v1.2M864.2 602v2M863.4 640.7v2M864.2 601.3v2M863.8 634.9v1.2M860.9 644v2M867.5 627.3v2" stroke="#a8a266" stroke-width="1" stroke-linecap="butt" opacity="0.8" fill="none"/><path d="M626.5,665.4 l1.2,-3.5 a1,1 0 1,1 1.5,-0.3 l1,3.8z M650.5,665.4 l1.2,-3.5 a1,1 0 1,1 1.5,-0.3 l1,3.8z M658.5,665.4 l1.2,-3.5 a1,1 0 1,1 1.5,-0.3 l1,3.8z" fill="#111"/><circle cx="655.5" cy="664.6" r="0.8" fill="#111"/><line x1="909.5" y1="633.1" x2="909.5" y2="651.8" stroke="#b08d7a" stroke-width="1.2"/><polygon points="922,626.3 922.4,628.3 922,630.2 921,631.9 919.7,633.3 919.8,635.6 918,636.4 916.6,637.2 915.2,638 913.8,638.6 912.7,640.6 911.2,641.6 909.5,641.6 907.8,641.6 906.1,641.3 904.7,640 903.4,638.7 902.6,637 901.4,635.9 899.5,635.3 899.1,633.4 897.8,632 897.7,630 896.7,628.3 896.8,626.3 898.7,623.6 898.5,620.6 899.5,617.9 900.2,615 901.6,613.1 902.7,611 903.9,609.3 904.9,607.1 905.9,604.6 907.3,606 908.4,606 909.5,605.1 910.6,604.9 911.7,605.9 912.8,606.9 914.1,607.2 915.7,607.4 916.3,611 917.3,613.2 918.1,615.8 919.7,617.8 919.7,621 920.5,623.6" fill="#83a06a"/><path d="M909.4 630.7h0M916.1 626.4h0M902 623.1h0M915.9 625.7h0M906.4 624.6h0M903.2 630.5h0M902.8 626.7h0M917.2 631h0M908.2 625.7h0M919.1 624.4h0M905.3 629.9h0M916.4 632.5h0M916.1 621h0M913.7 613.4h0M909.1 628.9h0M903.5 624.2h0M903.6 626.3h0M916.2 613.6h0M907.8 635h0M907 615.5h0M915.6 629.2h0M918.3 632.8h0M914.9 623.9h0M903.8 619.4h0M918.6 626.4h0M917.1 630.7h0M903 624.7h0M910.9 610.9h0M912.5 622.4h0M911.3 623.7h0M904 636.3h0M911.3 614.4h0M909.9 611.7h0M909.6 630.4h0M910.4 627.6h0M916.5 615h0M906.1 625.2h0M913 616.5h0M907.3 611h0M914.8 616.9h0M906.1 637.6h0M905.4 625.8h0M901.4 632.2h0M901.6 628.2h0M900 631.4h0M911 633.3h0M915.9 628.5h0M910.9 619.2h0M901.1 626.7h0M910.9 639h0M909.5 635.3h0M900.8 626.3h0M919.7 629.5h0M911 613.8h0M917.8 617.4h0M903.8 631.9h0M898.9 627.9h0M907.7 608.2h0M907.4 632.2h0M906 627.4h0M907.4 608h0M910.1 622.9h0M912.4 610.9h0M901.6 628.4h0M916.4 615.5h0M909.7 621.5h0M908.8 633.3h0M903.8 628.1h0M902.2 631.6h0M909.4 616h0M917.6 634.3h0" stroke="#b8c79e" stroke-width="1.2" stroke-linecap="round" opacity="0.7" fill="none"/><path d="M912.3 614.8h0M914.1 631.1h0M913.5 622.1h0M901.5 621.7h0M910.2 637.7h0M911.7 622.8h0M912.6 613.4h0M910.8 636.4h0M914.4 635h0M902.1 633.2h0M906.5 622.3h0M918.6 627.4h0M914.2 631.5h0M904.3 633.4h0M910.8 631h0M908 613.6h0M904.1 614h0M912.3 617.9h0M904.2 613.6h0M902 631.8h0M910.6 639.1h0M912.7 635h0M912.4 634.4h0M904.9 610.5h0M907.7 629.9h0M908.7 635.1h0M912.2 620.3h0M903.9 614.8h0M910.1 615.6h0M916.2 615.5h0M917 621.2h0M904.6 633.5h0M914.5 634h0M905.6 615.3h0M913.5 627.6h0M919.5 622.9h0M908 614.4h0M898.9 624.2h0M918.7 629.5h0M907.6 615.7h0M913.5 629.1h0M910.3 607.6h0M909.4 635h0M908.8 626.4h0M909.3 633h0M907.5 634.4h0M900.5 621.8h0M916.4 614.3h0M913.1 636.9h0M918.3 628.9h0M911.6 634.6h0M914 614.4h0M912.8 612.6h0M902.3 616.8h0M908.5 608.4h0M911.2 621.5h0M905.6 610.8h0M913.5 633h0M902.3 618.4h0M913.7 627.7h0M915.9 626.3h0M902 617.1h0M903.7 636.4h0M908.9 631.3h0M911.3 626.3h0M912.8 626.6h0M918.7 631.7h0M906.4 627h0M915.6 636.6h0M911.7 631.1h0M912.2 637.2h0M912.6 610.2h0M909.8 617.3h0M900.9 630.8h0M912 629.2h0M904.7 620.7h0" stroke="#b8c79e" stroke-width="2.0" stroke-linecap="round" opacity="0.7" fill="none"/><path d="M916.4 627.9h0M909.5 627.2h0M911.4 626.8h0M913.2 635.1h0M910.9 638.3h0M900.9 628h0M905.9 624.5h0M919.3 629h0M910.2 614.9h0M913.6 611.6h0M910.9 637.8h0M911.8 609.6h0M908.2 616.6h0M901 632.3h0M914.6 617h0M904.8 629.5h0M914.5 630.4h0M903.3 635.1h0M918.1 632.3h0M904.7 627.5h0M906.6 611.1h0M906.1 630.6h0M904.5 633.3h0M911.3 614.9h0M909.7 606.9h0M903.2 633.7h0M902.1 619.2h0M900.4 631h0M912.7 609.5h0M902 632.3h0M903.3 631.1h0M906.3 610.5h0M911.9 621.6h0M913.8 624.6h0M908.8 629.9h0M915.8 632.9h0M910.8 636.6h0M912.4 610.2h0M906.9 607.8h0M903.5 628.9h0M902.2 633.7h0M913.4 629.2h0M919.6 628.3h0M916.8 624.9h0M907.7 633.6h0M907.6 619.8h0M915.6 620.1h0M914.3 632.3h0M916.6 616h0M910.4 635.6h0M908.6 613.2h0M914.3 628.4h0M905.5 626.4h0M906.3 615.7h0M913.2 620.8h0M902.7 632.8h0M912.8 628.5h0M908.2 615.9h0M913.5 638h0M912.2 632.1h0M912.2 608.7h0M905.3 636h0M905 628.6h0M909.7 609.4h0M909.9 637.8h0M913.9 625.8h0M915.5 628.2h0M918.5 633.2h0M916.7 631.2h0M907.4 617.7h0M902.7 625.3h0M903.5 621.3h0M913.6 614h0M901.5 624.4h0M917.7 633h0M917.9 627.4h0M917.8 623.8h0M909.4 627.2h0M910.7 626h0M906.6 633.4h0M916.1 633.1h0M903.5 627.1h0M914.6 611h0M900.3 620.8h0M912.7 620.9h0M911.1 627.1h0M914.3 637.9h0M910.1 624.1h0M916 619h0M916.9 625h0M909.7 618.7h0M904.8 637h0M915.1 620.2h0M908.9 635.8h0M915.8 619.2h0M909 634.2h0M909.2 622.3h0M905.3 610.5h0M914.6 633.6h0M913.1 631.6h0M911.9 621h0M902.9 622h0M914.2 630.7h0M908.9 610.3h0M907.9 609.1h0M911.2 629.2h0M904.6 637.3h0M915.8 633h0M905.9 632.6h0M913.9 637.9h0M901.2 623.3h0M908.8 616.9h0M901.2 626.4h0M904.9 622.8h0M905 630.6h0M915.2 618.4h0M904.1 627h0M909.7 620.3h0M911.2 621.1h0M911.8 618.5h0M913.1 610.9h0M903.3 635.4h0M899.4 626.7h0M902.2 626.5h0M911.1 632.5h0M903.5 636.5h0M902.1 622.9h0M908.9 633.5h0M906.8 620.5h0M916.2 615.2h0M902.4 623.7h0M909.5 626.9h0M908.1 629.5h0M907.5 633.6h0M911.6 632.1h0M904.4 625.7h0M912.9 616.3h0M909.2 627h0M909.2 614h0M906.3 631h0M912.6 634.4h0M914.6 632h0M915.1 612.2h0M909.1 619.5h0M908.2 614.8h0M910.1 632.4h0M908 639.1h0M909.1 636.2h0M899.4 629.2h0M907 617.4h0M901.2 624.6h0M914.1 624.9h0M911.4 614.1h0M903 627.5h0M915 633.9h0M911 629.1h0M912.9 608.6h0M911.5 624.1h0M903.6 622h0M906.4 631.8h0M911.8 618.2h0M902.9 635.5h0M911.4 628.1h0M910.8 633.6h0M909.1 608.2h0M910.1 634.8h0M906 613.8h0M910.7 631.2h0M918.7 627.8h0M909.1 630.6h0" stroke="#5b7747" stroke-width="1.2" stroke-linecap="round" opacity="0.7" fill="none"/><path d="M904.2 615h0M915.7 618.2h0M908.8 632.5h0M908.2 607.9h0M905 635.2h0M906.1 616h0M917.2 624.3h0M911.2 626.9h0M907.9 636.9h0M911.9 638.7h0M899.8 624.5h0M907.8 627h0M898.6 626.4h0M908.7 619.1h0M911.8 633h0M915.5 633.6h0M912.8 628.2h0M907.4 627.4h0M917 617.9h0M907 631.7h0M908.9 631h0M906 633.4h0M904.5 621.2h0M910.6 627.6h0M908 607.7h0M915.6 633h0M918.5 623.3h0M905.2 614.2h0M907.9 626.5h0M911.3 617.2h0M914.2 631.4h0M908.7 629.2h0M910.3 621.5h0M903.8 619.7h0M916.3 634.4h0M908.5 626.9h0M904.1 614.9h0M913.1 636.9h0M917.8 629.6h0M906.8 627.4h0M908.3 613.5h0M907.7 627h0M915.3 631.4h0M901.4 628.6h0M919.3 623.7h0M914.2 614.3h0M912.3 622.2h0M913.2 617.4h0M907.9 626.6h0M907.2 612.1h0M904.1 628h0M918.1 626.7h0M910.1 635.4h0M901.4 628.3h0M916.7 617.9h0M905.4 610.5h0M904.7 630.1h0M905 617.2h0M908.3 610.8h0M910.3 620.9h0M908.5 639.2h0M906 637.1h0M918 625.8h0M910.2 633.1h0M903.4 619.2h0M904.1 616h0M916.9 631.2h0M917.5 623h0M914.2 621.5h0M915.8 623.3h0M913.4 628.6h0M908.4 608.8h0M902.4 633.6h0M905 613.4h0M908.3 622.4h0M904.3 626.6h0M919.5 628.2h0M906.8 626.5h0M912.9 632.5h0M902 618.4h0M901.6 628.2h0M911.5 632.1h0M911.7 618.6h0M919.4 627.6h0M904.5 627.2h0M907.1 627.1h0M918.5 631.5h0M908 621.6h0M912.5 628.5h0M901.7 624.4h0M914.9 624.9h0M908.3 627.5h0M911.2 613.5h0M916.1 616h0M916.5 635h0M912.3 610.5h0M902.3 633.4h0M913.7 626.1h0M905.2 610.9h0M913.7 635.7h0M906.6 608.2h0M902.1 633.1h0M910.7 607.9h0M905.6 619.6h0M906.6 616.9h0M917.7 624.1h0M906.7 627.9h0M910.5 635h0M912.5 609.3h0M913.1 611.3h0M907 626.8h0M919.6 630.5h0M912.8 634.8h0M905.5 628.8h0M910 618h0M903.1 624h0M909.4 614.2h0M919.4 629h0M910.5 620.4h0M912 609.2h0M909.1 636h0M903.7 633h0M900.6 628.6h0M902.4 621.1h0M909.9 624.2h0M910.5 607h0M902.5 636.1h0M911.9 620.5h0M909.9 613.5h0M912.4 634.1h0M913.8 636.5h0M913.5 637.3h0M900.2 632.8h0M908.2 610h0M912.1 637.3h0M900.9 633.2h0M906.2 620h0M907 628.8h0M910.4 608.5h0M917.1 620.1h0M914.8 616.9h0M913.4 631.8h0M906.9 616.2h0M914.8 622.4h0M905.5 624.7h0M914 615.1h0" stroke="#5b7747" stroke-width="2.0" stroke-linecap="round" opacity="0.7" fill="none"/><line x1="955.6" y1="632" x2="955.6" y2="650.5" stroke="#b08d7a" stroke-width="1.2"/><polygon points="967.4,625.2 968.1,627.1 966.5,628.7 966.1,630.4 965.8,632.2 965.9,634.5 964.9,636.2 962.9,636.4 961.8,638 960.5,639.1 958.9,639.6 957,638.2 955.6,638.6 954.1,639 952.4,639.5 951,638.3 949.2,638.3 947.6,637.5 946.2,636.4 945.8,634.1 945,632.5 945.2,630.3 943.7,629 943.2,627.1 943.6,625.2 944.1,622.4 944.5,619.5 944.7,616.1 946.8,614.6 947.6,611.9 949.1,610.5 949.8,607.7 950.9,605.7 952.4,606.2 953.4,604.7 954.4,602.1 955.6,602 956.8,603 957.9,604 958.8,606 959.9,607.3 961.2,608.2 962.5,609.7 963.9,611.3 964.8,614.1 966.4,616.2 966.4,619.6 966.9,622.4" fill="#83a06a"/><path d="M960.4 632.5h0M960.6 632.8h0M955 629.4h0M962.2 632.8h0M958.3 609.1h0M962.3 615.6h0M955 630.6h0M951.5 618.4h0M949.4 616.1h0M960.3 617.9h0M963.6 631.9h0M960.2 612.4h0M955.7 629.4h0M954.2 614.9h0M948.9 634.3h0M962 613.7h0M963.7 629.8h0M963.7 626.5h0M946.3 627.6h0M956.6 616h0M951 615.7h0M950 612h0M946.6 619.8h0M956.8 626.4h0M949.6 622.2h0M948.8 633.8h0M956.3 636.6h0M951.1 635.4h0M948.3 623h0M962.6 632.6h0M951.2 622.5h0M947.6 616.7h0M961.7 614.2h0M958.4 632.1h0M958.6 635h0M953.8 608.2h0M949.7 620.2h0M964.1 632h0M948.6 625.4h0M947.8 633.3h0M954.7 626.6h0M964.3 617h0M956.2 630.6h0M951.2 611.3h0M960.2 634.6h0M960.9 630.8h0M955.5 615.1h0M960.9 615.4h0M958.6 631.6h0M964.2 625.9h0M954 614.6h0M958.7 626.5h0M958 618.9h0M960.3 616.1h0M953.6 632.2h0M956 608.8h0M952.2 628.4h0M962.8 623.4h0M962.2 626.6h0M953.5 629.6h0M952.5 634h0M955.4 608.7h0M948.9 619.3h0M953.2 636.1h0M948.5 632.9h0M961.9 629.8h0M955.4 617.7h0M957.8 608.8h0M959.4 634.2h0M944.8 626.3h0M947.3 630.5h0M958.6 614.3h0M948.5 634.3h0M952.9 611.6h0M954.8 608.3h0M958.8 615.6h0M958.5 637.1h0M965.7 626h0M949.7 614.2h0M964.9 629.5h0M953.1 611.9h0M963.8 631.3h0M955.7 617.3h0M955.4 611.4h0M959.6 637.1h0M946.5 622.2h0M947.7 629.1h0M947.4 630.4h0" stroke="#b8c79e" stroke-width="1.2" stroke-linecap="round" opacity="0.7" fill="none"/><path d="M963.5 630.3h0M946.3 623.5h0M958.8 627h0M956.4 637.7h0M949.8 615.3h0M953.3 613.9h0M959.4 627.3h0M960.6 630.8h0M961.5 628.2h0M957.4 613.4h0M949 633h0M965 631.8h0M957.6 631.8h0M956 634.4h0M957.4 630.6h0M955.3 624.7h0M964 619.5h0M962.5 622.4h0M945.5 625.6h0M956.9 617h0M952.8 609.9h0M953.7 607.6h0M958 617.6h0M963.9 626.3h0M955.2 633.4h0M964 625.7h0M946.4 629.4h0M945.3 627.2h0M947.7 631.8h0M953.6 635.2h0M954.3 635.2h0M958.3 626.9h0M948.7 624.7h0M959.1 634.4h0M946.6 627.8h0M952.4 613.1h0M947.9 624.8h0M962 622.3h0M956 625.2h0M958.5 635h0M951.2 619.1h0M960.3 626.3h0M959.6 637h0M961 614.8h0M956.1 611.7h0M965.5 625.8h0M952.4 612.2h0M954.7 616.3h0M956.8 625.2h0M949.1 620.5h0M954.5 607.5h0M960.7 631.2h0M951.5 616.7h0M950.9 627.1h0M950.3 633.5h0M945.8 621.6h0M959.1 609.4h0M954.8 629.5h0M952.1 622.2h0M952.4 609.3h0M957 623h0M961.8 632h0M959.1 612.9h0M954.9 608h0M949.6 623.1h0M961.9 616.3h0M958.7 610.6h0M956.7 625.6h0M952.1 633.6h0M961.9 628.9h0M958.6 625.9h0M957.6 625.2h0M957.6 614.1h0M961.4 611.5h0M950.4 617.3h0M959 636.9h0M959.1 633.5h0M954.3 632.1h0M959.7 624.9h0M951 635.3h0M952.9 627h0M950.6 615.1h0M950.8 630.2h0M948.2 629.2h0M958.3 626.8h0M947.3 616.9h0M960.1 620.2h0M963.5 630.6h0M959.1 624.9h0M951.2 625.8h0M957.8 633.8h0M951.9 617.7h0M958.5 632.8h0M958.2 619.2h0M953.2 606.9h0M954.5 633.2h0M951.3 633.1h0M946.2 628.2h0M959.8 611.4h0M950.7 626.1h0M960.6 627h0M953.1 634.2h0M949.3 628.1h0M949.1 633.2h0M953 637.2h0M955.3 635h0M952.2 616.3h0M948.3 630.6h0M957.9 623.1h0M955.2 627.5h0M953.2 607.3h0M958.4 608.7h0M950.3 628.1h0M955.7 621.3h0M966 625.7h0M951.3 616.7h0M954.7 635.2h0M962.1 632.3h0M961.8 614.2h0M948.6 619.3h0M959.4 621.1h0M957 627.4h0M953.3 620.8h0M951.1 627h0M953.9 613.1h0M956.7 612.4h0M958.2 627.4h0M955.1 636h0M955.4 637.3h0M962.7 630.5h0M961.3 633.2h0M946.9 624.7h0M952.2 636.6h0M951.6 610.7h0M951.1 630.1h0M961.7 619.1h0M958.4 614.4h0M964 623.4h0M952.3 620.1h0M952 617.1h0M961.1 615.2h0M959.9 618.3h0M959.2 622.3h0M953.5 622.3h0M950.3 610.4h0M963.5 620.7h0M952.9 627.2h0" stroke="#5b7747" stroke-width="2.0" stroke-linecap="round" opacity="0.7" fill="none"/><path d="M956.9 628.3h0M958.6 622.5h0M952.7 619.7h0M948.9 629.3h0M964.5 631.7h0M955.5 625.3h0M947.4 632.3h0M959.5 635.7h0M959.5 628.4h0M947.8 627.3h0M959.2 630.6h0M962.1 628.1h0M950.4 633.3h0M955.9 629.3h0M954.1 619.5h0M954.2 606.6h0M951.3 613.3h0M956.2 607.3h0M957.1 631.3h0M949.8 632.8h0M964.7 618.5h0M957.9 634.5h0M945.4 624.6h0M948.7 618.9h0M960.5 629.2h0M947 629h0M965.2 622h0M963 629.8h0M956 629.4h0M947.7 622h0M955.6 617.5h0M951.1 619.4h0M947.9 616h0M959.5 624.8h0M954.6 622.6h0M960.9 622.4h0M951.8 614.8h0M958.3 630.8h0M948 621.9h0M963.6 618.3h0M951.1 614.3h0M956.1 631.7h0M960.3 621.9h0M954.5 614.8h0M954.4 619.6h0M949.5 635.2h0M963.1 619.8h0M953 635.9h0M951.8 610.7h0M946 628.6h0M953.7 608.2h0M955.3 620.5h0M965.2 625.6h0M947.9 621.2h0M953.1 607.5h0M960.1 629h0M961 611.7h0M951.3 609.2h0M953.8 611.5h0M952.3 623.9h0M948.9 629.9h0M950.7 626.3h0M950.9 619.2h0M953.6 616.9h0M947.9 617.5h0M952.3 616.9h0M950.1 617.4h0M953.8 636.3h0M950.8 612.4h0M962.7 625.9h0M961.5 626.2h0M961.5 627.2h0M950.8 631h0M963.1 629.2h0M957.1 626.6h0M948.1 633.3h0M951.2 628.6h0M955.9 628.7h0M953.5 617.7h0M945.3 626.3h0M965.5 630.5h0M956.6 628.9h0M956.6 613.8h0M958.1 623.1h0M960.5 611.2h0M954.2 637.1h0M946.7 620.2h0M961.9 613.4h0M954.9 614.6h0M954.8 609.1h0M951.8 636.7h0M962.2 630.6h0M957.8 634.8h0M949.6 628.2h0M959.5 633.4h0M964.1 629.8h0M952.6 614.6h0M959 615.1h0M962.2 632.6h0M957.8 608.3h0M959.2 637.4h0M956.2 628.9h0M952.4 631.1h0M956.1 616.6h0M954.4 618.4h0M958.2 627.9h0M956.5 626.5h0M963.1 633.5h0M961.6 626.8h0M956.1 626.7h0M960.8 615.5h0M961 629.7h0M955.1 625.5h0M963.5 627.7h0M958.9 613.8h0M946 622.4h0M952.7 621.3h0M963.5 625.8h0M953.1 637.2h0M959.3 610.3h0M953.9 627.5h0M952.9 610.8h0M956.5 626.7h0M948.7 630.3h0M946.3 623.3h0M949.3 630.2h0M963.4 621.3h0M959.1 623.7h0M954.9 634.1h0M951.4 632.3h0M964.2 627.9h0M952.9 611.9h0M944.9 623.8h0M959.1 616.8h0M950.7 613.3h0M952.5 631.4h0M949.2 635.3h0M951.6 619h0M957.6 637.9h0M951.1 631.4h0M956.7 611h0M949.3 624.8h0M950.9 619.2h0" stroke="#5b7747" stroke-width="1.2" stroke-linecap="round" opacity="0.7" fill="none"/><path d="M949.5 624.8h0M954.4 615.1h0M957.1 638h0M957 608.6h0M963.8 631.7h0M951.5 630.7h0M949.2 615.7h0M954.6 637.9h0M958.6 615.9h0M954 606.8h0M960.5 616.7h0M950.1 619.8h0M958.4 612.4h0M960.3 613.9h0M951.8 612.7h0M959 631h0M951.3 619.7h0M945.1 628.3h0M953.5 606.7h0M958.2 632.7h0M949.9 633.4h0M958.6 611.7h0M962.7 618.4h0M953.9 620.4h0M957.2 637.3h0M957.2 626.4h0M963.6 629.6h0M959.8 629.1h0M952.7 626.4h0M951.1 633.3h0M961.7 617.5h0M958.9 613.2h0M951.2 630.7h0M957.5 634.4h0M958.2 633.8h0M951.1 617.2h0M955.4 612h0M960.7 632.2h0M962.3 634.7h0M955.4 623.7h0M959.3 616.1h0M960.8 620h0M960.7 611.1h0M952.4 613.1h0M951.9 632.5h0M949.3 615h0M951.2 614.3h0M954.9 626.5h0M961.7 630.9h0M953.5 629.2h0M959.2 614h0M953.8 616.9h0M951.1 634.7h0M945.8 628.1h0M955.2 611.7h0M966.1 628.3h0M946.8 618.7h0M961 625.3h0M966.3 627h0M955.7 620.2h0M953.2 629.5h0M951.3 615h0M957.5 608.8h0M954.6 610.9h0M954.5 625.2h0M946.7 621.2h0M961.1 622.7h0M953.5 625.2h0M950.2 632.1h0M960.1 617h0M951.9 622h0M951 612.6h0M961.7 633.5h0M958.3 616.1h0M946.5 622.4h0M960.2 619.4h0M951.1 619.9h0M944.9 625.1h0M946.7 624.7h0M950 628.1h0M953.6 613.8h0M951.8 617.2h0M962.6 628h0M958.5 626h0" stroke="#b8c79e" stroke-width="2.0" stroke-linecap="round" opacity="0.7" fill="none"/><line x1="998.8" y1="632" x2="998.8" y2="650.5" stroke="#b08d7a" stroke-width="1.2"/><polygon points="1010.9,625.2 1010.8,627.1 1011,629.1 1009.2,630.3 1008.8,632.1 1008.8,634.2 1007.9,636 1006.7,637.4 1004.8,637.5 1003.5,638.6 1001.9,639 1000.3,639.1 998.8,638.9 997.3,638.9 995.7,639 993.8,639.4 992.6,637.9 991,637.2 989.3,636.4 989,634.1 987.8,632.7 988.4,630.3 987.7,628.7 986.5,627.1 985.9,625.2 987.5,622.4 987.2,619.2 988.6,616.7 989.2,613.7 990.7,611.7 992.6,611.1 993.4,608.9 994.4,606.7 995.6,606.2 996.5,604 997.7,604 998.8,601.4 1000,602 1001,604.9 1002.3,604.7 1003.2,606.7 1004.3,608.4 1005.3,610.6 1006.1,613.1 1007.6,614.5 1009.9,616 1010.2,619.3 1010.3,622.4" fill="#83a06a"/><path d="M1002.7 632.8h0M1001.5 625.2h0M1006 625.1h0M994.4 619.2h0M993.8 616h0M999.9 621.2h0M1002.4 628.4h0M996.2 634.2h0M1008.6 624.7h0M997.4 638h0M992.9 616.8h0M997.9 626.6h0M1000.8 611.7h0M994.2 620.4h0M995.3 615.6h0M1002 634.9h0M1002.4 636.3h0M1000.2 637h0M1002.1 626.8h0M999.6 614h0M1003.3 627.2h0M996.5 633.3h0M995.5 612.4h0M1001.6 622.8h0M1003.6 625.4h0M996.2 633.8h0M995 621h0M1000.1 637.8h0M1002.6 627.4h0M988.8 628.4h0M999.1 622.8h0M1009 621.9h0M1004.6 630.7h0M1001.4 613h0M997 618.1h0M996.4 619.2h0M1005.3 621.1h0M999 605.8h0M999.9 629h0M996.7 624.3h0M992.8 614.3h0M993.9 628.1h0M998.9 610.6h0M1003.8 628.6h0M1007.5 629.5h0M995 632.4h0M990.1 622.1h0M994.6 628.1h0M1001.7 620.8h0M994.6 633.9h0M998.7 629h0M999.1 626.8h0M1000.7 620.1h0M1003.1 632.4h0M1001.3 624.3h0M995.9 630.9h0M998.1 619.5h0M997.4 614.9h0M1002.3 630.5h0M1007.3 626.4h0M1000.8 611.5h0M1001.7 612h0M997.8 615h0M991.4 627.4h0M1002.5 636.2h0M996.5 612h0M1000.6 606.5h0M1003.9 633.7h0M988.2 626.1h0M994.1 627.5h0M995.2 625.8h0M1002.1 618.8h0M1000.7 621.1h0M998 618.9h0M990.9 631.9h0M1009.5 626.1h0M1004.2 629.9h0M1004 620.8h0M996.6 631.9h0M1001.8 634.8h0M993.5 623h0M1002.1 624.6h0M997.8 630.1h0M993.2 617.8h0M998.7 622.2h0M998.1 616.1h0M997.8 618.5h0M1001.6 630h0M995.9 612.4h0M993.2 631.2h0M1006.4 619.2h0M1000.2 617.3h0M1006.9 618.3h0M1005.1 629h0M996 608.6h0M1002.3 614.3h0M997.7 607.3h0M999.8 613.5h0M993 630.7h0M1000.4 634.5h0M993.7 609.9h0M999.2 632.8h0M1004 621.6h0M999.9 615.6h0M1001.6 632.3h0M989 621.8h0M1006.8 630.7h0M1002 607.6h0M999 608.3h0M1009.2 622.5h0M993.9 625.8h0M1003.7 619.6h0M1005.8 625.8h0M1008 618.4h0M1001.1 607.5h0M990.1 628.5h0M1004.2 615.3h0M1006.7 634.3h0M989.1 630.8h0M998.6 635.8h0M1007.3 625.1h0M1001.8 609.8h0M992.1 632.9h0M1004.7 622.1h0M991 625.6h0M998.4 621.8h0M989.4 623.2h0M999 610.7h0M1004.3 619.5h0M998 609.4h0M1001.4 619.3h0M1002.5 618.8h0M996.4 630.1h0M994.5 619.4h0M999.7 608.4h0M1003.4 613.8h0M1007.2 629.1h0M998.6 618.8h0M990.9 631.7h0M999 622.4h0M993.7 623.6h0M1003.1 627.4h0M1000.1 627.4h0M1008.8 627.6h0M1002 637.6h0M997.8 612.5h0M997.8 625.7h0M995.9 634.7h0M990.9 616.8h0M992.4 630.7h0M999.3 634.9h0M995.6 612.2h0M998.3 608.2h0M995.3 621h0M1005.5 618.3h0" stroke="#5b7747" stroke-width="2.0" stroke-linecap="round" opacity="0.7" fill="none"/><path d="M1001.8 607.7h0M996 616.3h0M1003.9 625.1h0M996.7 611.6h0M997.8 634.8h0M994.2 626.1h0M1000.9 608h0M992.5 633.6h0M1003.5 621.6h0M990.5 633.3h0M1005.5 633.5h0M998.8 606.2h0M992.6 620.4h0M988.8 622.1h0M995.8 636.1h0M989.2 625.5h0M1000.5 623h0M1009 626h0M1001.4 625.9h0M1004.5 611.6h0M1007.8 627.7h0M1000.3 612.9h0M989.1 624.5h0M1001.9 618.5h0M1002.3 607.9h0M988.8 629.1h0M997.8 610.1h0M999.7 619.2h0M1001.9 634h0M992.7 621.3h0M1008.4 630.4h0M995.4 635.9h0M1005.7 633.6h0M1001.8 610.2h0M1006.8 617.6h0M1007.3 631.5h0M994.6 632.8h0M992.7 619.6h0M989.8 630.1h0M994.2 611h0M1006.5 631h0M1008.8 627.3h0M1001.9 629.7h0M995.8 607.4h0M993.1 625.6h0M995.3 636.5h0M993.4 635h0M1001.8 611.3h0M1001.3 619.3h0M990.8 632.1h0M992 621h0M996.4 636.5h0M994.9 620h0M997 610.3h0M1004 633.1h0M991.8 628.7h0M1006 631.9h0M999.2 630.9h0M995.3 610.3h0M1000.8 627.2h0M1002.2 626.2h0M1001.5 632.6h0M990.5 623.3h0M999 620.9h0M998.6 615.6h0M1001.6 613.7h0M998.9 615.1h0M1007.6 621.8h0M1004.4 634h0M998.7 625.7h0M990 625.4h0M1003.7 627.4h0M990.7 622.7h0M1003.7 617.6h0M997.8 619.7h0M993.8 619.8h0M998.9 622.2h0M1000.9 614.7h0M1008.9 622.3h0M999.5 637.7h0M1007.9 619.6h0M1000.2 626.2h0M1000.3 635.4h0" stroke="#b8c79e" stroke-width="1.2" stroke-linecap="round" opacity="0.7" fill="none"/><path d="M999.6 624.6h0M999.6 628.2h0M999.4 636.1h0M1000.8 636h0M997.6 633.2h0M999.2 633h0M995.7 618.4h0M998.3 610.5h0M998.8 632.5h0M1001.1 618.6h0M1005 613.3h0M1007 628.1h0M996.7 620.4h0M1003.5 630.3h0M1004.1 626.2h0M1006.7 631.1h0M994.6 615.3h0M1001.8 622.8h0M1002.4 628.8h0M1000.5 614.7h0M989.6 630h0M996.8 621.6h0M1008.5 627.2h0M1002.1 635.3h0M995.8 634.9h0M1006.2 629.7h0M1002.4 610h0M1000.7 633.5h0M999.3 617.1h0M1003.5 636.5h0M994.7 636.6h0M1002.2 629.8h0M1005.1 631.5h0M997 608.1h0M994.4 617.5h0M1002.3 627h0M992.5 632h0M994.2 634.5h0M1000.4 611.4h0M1002.6 613.5h0M999.3 626.8h0M999.7 619.9h0M1004.9 628.8h0M997.4 623.3h0M997 607.8h0M996 629.9h0M996.5 613.1h0M1004.7 620.9h0M1008.3 631.6h0M1005.2 629.6h0M998.7 618.5h0M1000 613.1h0M997.6 634.8h0M996.8 617.6h0M1002 637h0M999.7 628.6h0M1006.6 630.7h0M990.1 621.9h0M998.7 607.3h0M989.1 624.4h0M993.6 612.2h0M999.4 620.3h0M994.3 632.2h0M993.3 628.9h0M996.7 619h0M1001.3 635.7h0M1003.1 632h0M995.3 621.3h0M1001.4 624.8h0M999.6 612.1h0M1000.2 638h0M1002 607.5h0M1002.7 620.7h0M993.1 635.1h0M1007.6 629.1h0M1004.7 633.8h0M1006.8 622.4h0M997.1 620.8h0M992.4 631.9h0M1002.3 633.7h0M1002.7 628.5h0M995.3 630.5h0M1002.9 610.1h0M994.4 615.5h0M992.6 612.1h0M997 619.4h0M997.5 616h0M999.8 609.5h0M999.1 635.3h0M1004.6 623.3h0M1007.5 630.2h0M990.9 625.5h0M994.6 627.9h0M1005.3 626.7h0M1007 633.7h0M1000.7 619.2h0M991.4 629.7h0M1000.4 629.8h0M1000.1 626.9h0M998.8 612.5h0M996.7 609.6h0M993.2 626h0M997.8 622.5h0M989.5 620.1h0M1006 631.9h0M1001.2 627.9h0M990.6 630.6h0M995.7 609.8h0M996.4 636h0M1007.2 616.9h0M995.6 620.5h0M994.8 631h0M1006 630.3h0M999.8 620.2h0M1008.6 621.7h0M992.6 624.7h0M996.4 607.2h0M996.5 611.8h0M995.5 627.9h0M1006.6 628.6h0M1003.6 633.7h0M989.8 625.8h0M1004 618.4h0M992.9 615.5h0M994 613.9h0M1001.3 626.8h0M999.4 622.4h0M998.5 618h0M999.3 611.4h0M995.6 612.2h0M1002.6 611.2h0M999.4 636.3h0M1000.8 631.3h0M995.2 629.9h0M1002 616.9h0M1000.2 616.4h0M1007.3 623.8h0M1005.6 627.2h0M1007.5 631.8h0M993.7 615.5h0M995.1 633.7h0M998.7 621.6h0M998.2 606.9h0M996.1 626.1h0" stroke="#5b7747" stroke-width="1.2" stroke-linecap="round" opacity="0.7" fill="none"/><path d="M993.2 623.7h0M993.7 610.6h0M995.7 621.9h0M989.8 631.1h0M1001.9 626.5h0M999.4 613.2h0M1005.8 631.4h0M995.4 631.9h0M1004.8 629.9h0M991.2 614.7h0M1005.7 624.5h0M993.2 610.8h0M995 626.5h0M1005.1 633.7h0M1005.7 634.3h0M1006.5 625.1h0M999.5 627.1h0M1003.6 633.9h0M1001.7 617h0M1006.1 634.1h0M990.6 625.3h0M994.9 618.9h0M1006.3 627.8h0M998.7 633.6h0M1000.6 623.3h0M1002 609.8h0M1001.9 637.2h0M1006.2 622h0M995 635.8h0M996.7 615.3h0M998.8 622.5h0M994.4 631.6h0M995.2 628.1h0M991.8 624.8h0M997.7 609.4h0M1005.6 629.9h0M1000.9 616.9h0M1005.7 614.8h0M988.7 630.1h0M1007.2 616.5h0M996.7 617.6h0M995.2 631.3h0M997.7 607.3h0M997.8 614.4h0M1002.6 608.5h0M1001.4 628h0M989.2 630.4h0M999 637.2h0M993.8 636h0M994.6 621.4h0M995.7 631.9h0M1004.7 632.5h0M992.5 629.2h0M999.1 626.4h0M999.6 632.6h0M989 629.8h0M998.5 636.7h0M1004.4 630h0M1003.6 633.7h0M1005.4 634.5h0M1003 610.3h0M991.2 622.4h0M998.4 635.8h0M994.7 637.2h0M1007.2 625.4h0M996.1 632.5h0M999 626.6h0M993.4 622h0M993.5 636.1h0M1004.7 616h0M1000.5 610.9h0M993.7 617.7h0M992.3 633.3h0M996 608.8h0M996.5 606.8h0M997.6 609h0M1002.7 634.3h0M996 634.7h0M1003.6 610.4h0M994.6 616.8h0" stroke="#b8c79e" stroke-width="2.0" stroke-linecap="round" opacity="0.7" fill="none"/><path d="M206.3,691.7l1.1,-3.1h4.7l1.1,3.1z" fill="#fff" stroke="#333" stroke-width="0.6"/><path d="M206,691.4h7.5v3.1h-1.5v-0.8h-4.5v0.8h-1.5z" fill="#111"/><rect x="207.5" y="693.4" width="4.5" height="0.7" fill="#ddd"/><path d="M926.3,650.6l1.1,-3.1h4.6l1.1,3.1z" fill="#fff" stroke="#333" stroke-width="0.6"/><path d="M926,650.2h7.4v3.1h-1.5v-0.8h-4.4v0.8h-1.5z" fill="#111"/><rect x="927.5" y="652.3" width="4.4" height="0.7" fill="#ddd"/><path d="M974.3,647.6l1.1,-3.3h4.5l1.1,3.3z" fill="#fff" stroke="#333" stroke-width="0.6"/><path d="M974,647.3h7.3v3.3h-1.5v-0.8h-4.4v0.8h-1.5z" fill="#111"/><rect x="975.5" y="649.4" width="4.4" height="0.7" fill="#ddd"/><path d="M1012.8,648.7l1.1,-3.1h4.7l1.1,3.1z" fill="#fff" stroke="#333" stroke-width="0.6"/><path d="M1012.5,648.3h7.5v3.1h-1.5v-0.8h-4.5v0.8h-1.5z" fill="#111"/><rect x="1014" y="650.3" width="4.5" height="0.7" fill="#ddd"/><polyline points="75,662.3 117,664 130,667 146,675 160,683.5 172,692.5 196,693.5 197,694.6 232.5,694.6 233.5,693.5 248,693.3 265,706 275.5,706 290,693.7 312,695" fill="none" stroke="#333" stroke-width="1"/><polyline points="371.5,673 531.5,672.7 539,665.5" fill="none" stroke="#555" stroke-width="0.9"/><polyline points="539,665.5 870,665.4 894,652" fill="none" stroke="#444" stroke-width="1"/><polyline points="894,652 913.4,651.8 914,653.4 948.7,653.4 949.2,650.5 1003.5,650.5 1004,651.3 1024.5,651.3" fill="none" stroke="#555" stroke-width="0.9"/><polyline points="7.7,661.7 7.7,629.3 36.5,629.3 36.5,661.7 42,662.3 75,662.3" fill="none" stroke="#111" stroke-width="1.4"/><polyline points="196.5,694.6 232.5,694.6" fill="none" stroke="#111" stroke-width="1.5"/><polyline points="1024.5,651.3 1024.5,618.3 1150,618.3 1150,643.4 1168,643.4" fill="none" stroke="#111" stroke-width="1.5"/><line x1="36" y1="662.5" x2="36" y2="746" stroke="#555" stroke-width="1.0" stroke-dasharray="3.8,3.8"/><line x1="171.3" y1="693.5" x2="171.3" y2="746" stroke="#555" stroke-width="1.0" stroke-dasharray="3.8,3.8"/><line x1="243" y1="694" x2="243" y2="746" stroke="#555" stroke-width="1.0" stroke-dasharray="3.8,3.8"/><line x1="308.2" y1="581" x2="308.2" y2="746" stroke="#555" stroke-width="1.0" stroke-dasharray="3.8,3.8"/><line x1="536" y1="673.5" x2="536" y2="746" stroke="#555" stroke-width="1.0" stroke-dasharray="3.8,3.8"/><line x1="897.5" y1="652.5" x2="897.5" y2="746" stroke="#555" stroke-width="1.0" stroke-dasharray="3.8,3.8"/><line x1="1024.5" y1="654" x2="1024.5" y2="746" stroke="#555" stroke-width="1.0" stroke-dasharray="3.8,3.8"/><line x1="1150" y1="580" x2="1150" y2="746" stroke="#555" stroke-width="1.0" stroke-dasharray="3.8,3.8"/><text x="64.3" y="700.3" font-size="11.5" fill="#333" text-anchor="start" font-family="Liberation Sans, sans-serif" textLength="37.5" lengthAdjust="spacingAndGlyphs"  stroke="#333" stroke-width="0.08">Coupe 4</text><text x="178" y="578.2" font-size="4.9" fill="#333" text-anchor="start" font-family="Liberation Sans, sans-serif" textLength="50" lengthAdjust="spacingAndGlyphs" >traitement de cet axe en</text><text x="178" y="584.25" font-size="4.9" fill="#333" text-anchor="start" font-family="Liberation Sans, sans-serif" textLength="19.7" lengthAdjust="spacingAndGlyphs" >bd urbain</text><text x="178" y="590.3000000000001" font-size="4.9" fill="#333" text-anchor="start" font-family="Liberation Sans, sans-serif" textLength="47.9" lengthAdjust="spacingAndGlyphs" >Réduction de la vitesse,</text><text x="178" y="596.35" font-size="4.9" fill="#333" text-anchor="start" font-family="Liberation Sans, sans-serif" textLength="44.8" lengthAdjust="spacingAndGlyphs" >Placettes traversantes</text><text x="178" y="602.4000000000001" font-size="4.9" fill="#333" text-anchor="start" font-family="Liberation Sans, sans-serif" textLength="51.8" lengthAdjust="spacingAndGlyphs" >correspondant à la trame</text><text x="178" y="608.45" font-size="4.9" fill="#333" text-anchor="start" font-family="Liberation Sans, sans-serif" textLength="38.8" lengthAdjust="spacingAndGlyphs" >viaire des quartiers</text><text x="178" y="614.5" font-size="4.9" fill="#333" text-anchor="start" font-family="Liberation Sans, sans-serif" textLength="26.8" lengthAdjust="spacingAndGlyphs" >environnants</text><text x="312" y="577.8" font-size="4.9" fill="#333" text-anchor="start" font-family="Liberation Sans, sans-serif" textLength="33.2" lengthAdjust="spacingAndGlyphs" >terrasses sèches</text><text x="312" y="583.9" font-size="4.9" fill="#333" text-anchor="start" font-family="Liberation Sans, sans-serif" textLength="29.5" lengthAdjust="spacingAndGlyphs" >enrochements</text><text x="312" y="590.0" font-size="4.9" fill="#333" text-anchor="start" font-family="Liberation Sans, sans-serif" textLength="47.6" lengthAdjust="spacingAndGlyphs" >agave + plantes grasses</text><text x="473.8" y="573.5" font-size="4.9" fill="#333" text-anchor="start" font-family="Liberation Sans, sans-serif" textLength="33" lengthAdjust="spacingAndGlyphs" >terrains de jeux,</text><text x="473.8" y="579.55" font-size="4.9" fill="#333" text-anchor="start" font-family="Liberation Sans, sans-serif" textLength="100.2" lengthAdjust="spacingAndGlyphs" >trame intégrée dans une structure d’alignements</text><text x="473.8" y="585.6" font-size="4.9" fill="#333" text-anchor="start" font-family="Liberation Sans, sans-serif" textLength="77.5" lengthAdjust="spacingAndGlyphs" >cyprès, eucalyptus, et haies brise-vent</text><text x="657.5" y="591" font-size="10.8" fill="#1a1a1a" text-anchor="start" font-family="Liberation Sans, sans-serif" textLength="53" lengthAdjust="spacingAndGlyphs"  stroke="#333" stroke-width="0.08">Parc Sportif</text><text x="252" y="746.3" font-size="7.8" fill="#333" text-anchor="start" font-family="Liberation Sans, sans-serif" textLength="45.5" lengthAdjust="spacingAndGlyphs"  stroke="#333" stroke-width="0.08">Oued Ain Sefra</text><text x="255" y="725" font-size="4.7" fill="#555" text-anchor="start" font-family="Liberation Sans, sans-serif" textLength="37" lengthAdjust="spacingAndGlyphs" >Ambiance humide</text><text x="310.5" y="725" font-size="4.7" fill="#555" text-anchor="start" font-family="Liberation Sans, sans-serif" >Ambiance sèche</text><text x="406" y="746.2" font-size="7.6" fill="#333" text-anchor="start" font-family="Liberation Sans, sans-serif" textLength="43" lengthAdjust="spacingAndGlyphs"  stroke="#333" stroke-width="0.08">Jeux d’enfants</text><text x="665" y="746.2" font-size="7.6" fill="#333" text-anchor="start" font-family="Liberation Sans, sans-serif" textLength="56" lengthAdjust="spacingAndGlyphs"  stroke="#333" stroke-width="0.08">Terrain de football</text><text x="1053.4" y="746.2" font-size="7.6" fill="#333" text-anchor="start" font-family="Liberation Sans, sans-serif" textLength="53.4" lengthAdjust="spacingAndGlyphs"  stroke="#333" stroke-width="0.08">Gymnase couvert</text><text transform="translate(44,746) rotate(-90)" font-size="7.6" fill="#222" stroke="#333" stroke-width="0.08" font-family="Liberation Sans, sans-serif" textLength="63" lengthAdjust="spacingAndGlyphs">Rue Cherif Belkacem</text><text transform="translate(179,746) rotate(-90)" font-size="7.6" fill="#222" stroke="#333" stroke-width="0.08" font-family="Liberation Sans, sans-serif" textLength="48" lengthAdjust="spacingAndGlyphs">Route de l’oued</text><text transform="translate(909,746) rotate(-90)" font-size="7.6" fill="#222" stroke="#333" stroke-width="0.08" font-family="Liberation Sans, sans-serif" textLength="76" lengthAdjust="spacingAndGlyphs">Rue Khattab Abdelkader</text><line x1="729" y1="564.4" x2="742" y2="564.4" stroke="#c8c8a8" stroke-width="0.8"/></svg></body></html>
